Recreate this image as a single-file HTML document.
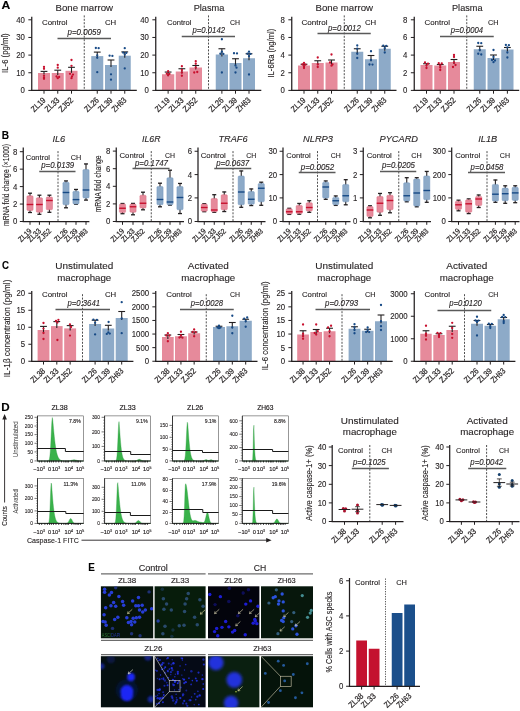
<!DOCTYPE html>
<html><head><meta charset="utf-8"><title>Figure</title>
<style>
html,body{margin:0;padding:0;background:#fff;}
body{width:520px;height:711px;overflow:hidden;font-family:'Liberation Sans', sans-serif;}
svg{display:block;font-family:'Liberation Sans', sans-serif;will-change:transform;}
</style></head><body>
<svg width="520" height="711" viewBox="0 0 520 711">
<rect width="520" height="711" fill="#ffffff"/>
<defs><filter id="bl0_5" x="-20%" y="-20%" width="140%" height="140%"><feGaussianBlur stdDeviation="0.5"/></filter><filter id="bl0_7" x="-30%" y="-30%" width="160%" height="160%"><feGaussianBlur stdDeviation="0.7"/></filter><filter id="bl2_2" x="-30%" y="-30%" width="160%" height="160%"><feGaussianBlur stdDeviation="2.2"/></filter><filter id="bl1_2" x="-30%" y="-30%" width="160%" height="160%"><feGaussianBlur stdDeviation="1.2"/></filter><filter id="bl0_35" x="-20%" y="-20%" width="140%" height="140%"><feGaussianBlur stdDeviation="0.35"/></filter><filter id="bl1_6" x="-20%" y="-20%" width="140%" height="140%"><feGaussianBlur stdDeviation="1.6"/></filter></defs>
<g opacity="0.999">
<text x="1.6" y="9.3" font-size="11.5" text-anchor="start" fill="#000" stroke="#000" stroke-width="0.12" font-weight="bold" textLength="8.8" lengthAdjust="spacingAndGlyphs" >A</text>
<text x="1.7" y="138.6" font-size="11.5" text-anchor="start" fill="#000" stroke="#000" stroke-width="0.12" font-weight="bold" textLength="7.3" lengthAdjust="spacingAndGlyphs" >B</text>
<text x="2" y="268.7" font-size="11.5" text-anchor="start" fill="#000" stroke="#000" stroke-width="0.12" font-weight="bold" textLength="7" lengthAdjust="spacingAndGlyphs" >C</text>
<text x="1.3" y="410.6" font-size="11.5" text-anchor="start" fill="#000" stroke="#000" stroke-width="0.12" font-weight="bold" textLength="8.4" lengthAdjust="spacingAndGlyphs" >D</text>
<text x="88.2" y="570.8" font-size="11.5" text-anchor="start" fill="#000" stroke="#000" stroke-width="0.12" font-weight="bold" textLength="6.6" lengthAdjust="spacingAndGlyphs" >E</text>
<rect x="38" y="73" width="12" height="17.4" fill="#e68a9b" />
<rect x="51.75" y="73" width="12" height="17.4" fill="#e68a9b" />
<rect x="65.5" y="70.8" width="12" height="19.6" fill="#e68a9b" />
<rect x="91.25" y="56.1" width="12" height="34.3" fill="#8daac8" />
<rect x="105" y="65" width="12" height="25.4" fill="#8daac8" />
<rect x="118.75" y="55.7" width="12" height="34.7" fill="#8daac8" />
<line x1="84.25" y1="15.4" x2="84.25" y2="90.4" stroke="#3c3c3c" stroke-width="0.9" stroke-dasharray="2 1.4"/>
<line x1="44" y1="71.4" x2="44" y2="74.6" stroke="#231f20" stroke-width="1.1"/>
<line x1="40.6" y1="71.4" x2="47.4" y2="71.4" stroke="#231f20" stroke-width="1.1"/>
<circle cx="44" cy="66.9" r="1.15" fill="#c8102e"/>
<circle cx="44" cy="68.8" r="1.15" fill="#c8102e"/>
<circle cx="44" cy="75.8" r="1.15" fill="#c8102e"/>
<circle cx="44" cy="77.7" r="1.15" fill="#c8102e"/>
<circle cx="44" cy="78.8" r="1.15" fill="#c8102e"/>
<line x1="57.75" y1="70.2" x2="57.75" y2="75" stroke="#231f20" stroke-width="1.1"/>
<line x1="54.35" y1="70.2" x2="61.15" y2="70.2" stroke="#231f20" stroke-width="1.1"/>
<circle cx="57.75" cy="65" r="1.15" fill="#c8102e"/>
<circle cx="57.75" cy="67.7" r="1.15" fill="#c8102e"/>
<circle cx="56.55" cy="76.5" r="1.15" fill="#c8102e"/>
<circle cx="59.15" cy="77" r="1.15" fill="#c8102e"/>
<circle cx="57.75" cy="78.2" r="1.15" fill="#c8102e"/>
<line x1="71.5" y1="67.3" x2="71.5" y2="72.8" stroke="#231f20" stroke-width="1.1"/>
<line x1="68.1" y1="67.3" x2="74.9" y2="67.3" stroke="#231f20" stroke-width="1.1"/>
<circle cx="71.5" cy="60" r="1.15" fill="#c8102e"/>
<circle cx="71.5" cy="65.8" r="1.15" fill="#c8102e"/>
<circle cx="70" cy="73.8" r="1.15" fill="#c8102e"/>
<circle cx="73" cy="74.6" r="1.15" fill="#c8102e"/>
<circle cx="72" cy="76.4" r="1.15" fill="#c8102e"/>
<circle cx="71.5" cy="78.2" r="1.15" fill="#c8102e"/>
<line x1="97.25" y1="52.1" x2="97.25" y2="58.1" stroke="#231f20" stroke-width="1.1"/>
<line x1="93.85" y1="52.1" x2="100.65" y2="52.1" stroke="#231f20" stroke-width="1.1"/>
<circle cx="95.85" cy="48" r="1.15" fill="#174a86"/>
<circle cx="98.65" cy="48.2" r="1.15" fill="#174a86"/>
<circle cx="97.25" cy="55.3" r="1.15" fill="#174a86"/>
<circle cx="97.25" cy="57.8" r="1.15" fill="#174a86"/>
<circle cx="97.25" cy="72.2" r="1.15" fill="#174a86"/>
<line x1="111" y1="60" x2="111" y2="67" stroke="#231f20" stroke-width="1.1"/>
<line x1="107.6" y1="60" x2="114.4" y2="60" stroke="#231f20" stroke-width="1.1"/>
<circle cx="109.6" cy="55.7" r="1.15" fill="#174a86"/>
<circle cx="112.4" cy="55.9" r="1.15" fill="#174a86"/>
<circle cx="111" cy="74.3" r="1.15" fill="#174a86"/>
<circle cx="111" cy="79.7" r="1.15" fill="#174a86"/>
<line x1="124.75" y1="51.9" x2="124.75" y2="57.7" stroke="#231f20" stroke-width="1.1"/>
<line x1="121.35" y1="51.9" x2="128.15" y2="51.9" stroke="#231f20" stroke-width="1.1"/>
<circle cx="124.75" cy="48.2" r="1.15" fill="#174a86"/>
<circle cx="123.25" cy="52.7" r="1.15" fill="#174a86"/>
<circle cx="126.25" cy="52.9" r="1.15" fill="#174a86"/>
<circle cx="124.75" cy="54.6" r="1.15" fill="#174a86"/>
<circle cx="124.75" cy="68.4" r="1.15" fill="#174a86"/>
<line x1="31.75" y1="16.8" x2="31.75" y2="91" stroke="#231f20" stroke-width="1.25"/>
<line x1="31.15" y1="90.4" x2="136.8" y2="90.4" stroke="#231f20" stroke-width="1.25"/>
<line x1="28.35" y1="19.8" x2="31.75" y2="19.8" stroke="#231f20" stroke-width="1"/>
<text x="24.95" y="22.75" font-size="8.3" text-anchor="end" fill="#231f20" stroke="#231f20" stroke-width="0.12" textLength="8.7" lengthAdjust="spacingAndGlyphs" >40</text>
<line x1="28.35" y1="37.45" x2="31.75" y2="37.45" stroke="#231f20" stroke-width="1"/>
<text x="24.95" y="40.4" font-size="8.3" text-anchor="end" fill="#231f20" stroke="#231f20" stroke-width="0.12" textLength="8.7" lengthAdjust="spacingAndGlyphs" >30</text>
<line x1="28.35" y1="55.1" x2="31.75" y2="55.1" stroke="#231f20" stroke-width="1"/>
<text x="24.95" y="58.05" font-size="8.3" text-anchor="end" fill="#231f20" stroke="#231f20" stroke-width="0.12" textLength="8.7" lengthAdjust="spacingAndGlyphs" >20</text>
<line x1="28.35" y1="72.75" x2="31.75" y2="72.75" stroke="#231f20" stroke-width="1"/>
<text x="24.95" y="75.7" font-size="8.3" text-anchor="end" fill="#231f20" stroke="#231f20" stroke-width="0.12" textLength="8.7" lengthAdjust="spacingAndGlyphs" >10</text>
<line x1="28.35" y1="90.4" x2="31.75" y2="90.4" stroke="#231f20" stroke-width="1"/>
<text x="24.95" y="93.35" font-size="8.3" text-anchor="end" fill="#231f20" stroke="#231f20" stroke-width="0.12" textLength="4.35" lengthAdjust="spacingAndGlyphs" >0</text>
<line x1="44" y1="90.4" x2="44" y2="93.7" stroke="#231f20" stroke-width="1"/>
<text x="46.3" y="100.8" font-size="8.3" text-anchor="end" fill="#231f20" stroke="#231f20" stroke-width="0.22" textLength="16.8" lengthAdjust="spacingAndGlyphs" transform="rotate(-44 46.3 100.8)" >ZL19</text>
<line x1="57.75" y1="90.4" x2="57.75" y2="93.7" stroke="#231f20" stroke-width="1"/>
<text x="60.05" y="100.8" font-size="8.3" text-anchor="end" fill="#231f20" stroke="#231f20" stroke-width="0.22" textLength="16.8" lengthAdjust="spacingAndGlyphs" transform="rotate(-44 60.05 100.8)" >ZL33</text>
<line x1="71.5" y1="90.4" x2="71.5" y2="93.7" stroke="#231f20" stroke-width="1"/>
<text x="73.8" y="100.8" font-size="8.3" text-anchor="end" fill="#231f20" stroke="#231f20" stroke-width="0.22" textLength="16.8" lengthAdjust="spacingAndGlyphs" transform="rotate(-44 73.8 100.8)" >ZJ52</text>
<line x1="97.25" y1="90.4" x2="97.25" y2="93.7" stroke="#231f20" stroke-width="1"/>
<text x="99.55" y="100.8" font-size="8.3" text-anchor="end" fill="#231f20" stroke="#231f20" stroke-width="0.22" textLength="16.8" lengthAdjust="spacingAndGlyphs" transform="rotate(-44 99.55 100.8)" >ZL26</text>
<line x1="111" y1="90.4" x2="111" y2="93.7" stroke="#231f20" stroke-width="1"/>
<text x="113.3" y="100.8" font-size="8.3" text-anchor="end" fill="#231f20" stroke="#231f20" stroke-width="0.22" textLength="16.8" lengthAdjust="spacingAndGlyphs" transform="rotate(-44 113.3 100.8)" >ZL39</text>
<line x1="124.75" y1="90.4" x2="124.75" y2="93.7" stroke="#231f20" stroke-width="1"/>
<text x="127.05" y="100.8" font-size="8.3" text-anchor="end" fill="#231f20" stroke="#231f20" stroke-width="0.22" textLength="16.8" lengthAdjust="spacingAndGlyphs" transform="rotate(-44 127.05 100.8)" >ZH63</text>
<text x="84.25" y="10.93" font-size="9.8" text-anchor="middle" fill="#231f20" stroke="#231f20" stroke-width="0.12" textLength="57.5" lengthAdjust="spacingAndGlyphs" >Bone marrow</text>
<text x="54.75" y="25.44" font-size="7.9" text-anchor="middle" fill="#231f20" stroke="#231f20" stroke-width="0.12" textLength="25.5" lengthAdjust="spacingAndGlyphs" >Control</text>
<text x="110.62" y="25.44" font-size="7.9" text-anchor="middle" fill="#231f20" stroke="#231f20" stroke-width="0.12" textLength="11.25" lengthAdjust="spacingAndGlyphs" >CH</text>
<text x="84.25" y="34.72" font-size="8.4" text-anchor="middle" fill="#231f20" stroke="#231f20" stroke-width="0.12" font-style="italic" textLength="33.5" lengthAdjust="spacingAndGlyphs" >p=0.0059</text>
<line x1="57.5" y1="38.5" x2="111" y2="38.5" stroke="#5a5a5a" stroke-width="1.4"/>
<text x="8.4" y="53.1" font-size="8.4" text-anchor="middle" fill="#231f20" stroke="#231f20" stroke-width="0.12" textLength="39.6" lengthAdjust="spacingAndGlyphs" transform="rotate(-90 8.4 53.1)" >IL-6 (pg/ml)</text>
<rect x="162" y="74.25" width="12.25" height="16.15" fill="#e68a9b" />
<rect x="175.75" y="71.5" width="12.25" height="18.9" fill="#e68a9b" />
<rect x="189.5" y="67.5" width="12.5" height="22.9" fill="#e68a9b" />
<rect x="215.75" y="54.5" width="12.25" height="35.9" fill="#8daac8" />
<rect x="229.5" y="63" width="12" height="27.4" fill="#8daac8" />
<rect x="243" y="58.25" width="12" height="32.15" fill="#8daac8" />
<line x1="208.5" y1="15.4" x2="208.5" y2="90.4" stroke="#3c3c3c" stroke-width="0.9" stroke-dasharray="2 1.4"/>
<line x1="168.12" y1="72.05" x2="168.12" y2="76.25" stroke="#231f20" stroke-width="1.1"/>
<line x1="164.72" y1="72.05" x2="171.53" y2="72.05" stroke="#231f20" stroke-width="1.1"/>
<circle cx="168.12" cy="71.2" r="1.15" fill="#c8102e"/>
<circle cx="166.82" cy="73.7" r="1.15" fill="#c8102e"/>
<circle cx="169.43" cy="73.9" r="1.15" fill="#c8102e"/>
<circle cx="168.12" cy="75.2" r="1.15" fill="#c8102e"/>
<line x1="181.88" y1="68.75" x2="181.88" y2="73.5" stroke="#231f20" stroke-width="1.1"/>
<line x1="178.47" y1="68.75" x2="185.28" y2="68.75" stroke="#231f20" stroke-width="1.1"/>
<circle cx="181.88" cy="66.25" r="1.15" fill="#c8102e"/>
<circle cx="181.88" cy="70" r="1.15" fill="#c8102e"/>
<circle cx="181.88" cy="72.5" r="1.15" fill="#c8102e"/>
<circle cx="181.88" cy="75.75" r="1.15" fill="#c8102e"/>
<line x1="195.75" y1="65.5" x2="195.75" y2="69.5" stroke="#231f20" stroke-width="1.1"/>
<line x1="192.35" y1="65.5" x2="199.15" y2="65.5" stroke="#231f20" stroke-width="1.1"/>
<circle cx="195.75" cy="61.25" r="1.15" fill="#c8102e"/>
<circle cx="195.75" cy="63.75" r="1.15" fill="#c8102e"/>
<circle cx="195.75" cy="67.5" r="1.15" fill="#c8102e"/>
<circle cx="194.25" cy="72.5" r="1.15" fill="#c8102e"/>
<circle cx="197.25" cy="72" r="1.15" fill="#c8102e"/>
<line x1="221.88" y1="48.75" x2="221.88" y2="56.5" stroke="#231f20" stroke-width="1.1"/>
<line x1="218.47" y1="48.75" x2="225.28" y2="48.75" stroke="#231f20" stroke-width="1.1"/>
<circle cx="221.88" cy="39.25" r="1.15" fill="#174a86"/>
<circle cx="221.88" cy="51.75" r="1.15" fill="#174a86"/>
<circle cx="220.38" cy="53.75" r="1.15" fill="#174a86"/>
<circle cx="223.38" cy="53.9" r="1.15" fill="#174a86"/>
<circle cx="221.88" cy="72.5" r="1.15" fill="#174a86"/>
<line x1="235.5" y1="58.75" x2="235.5" y2="65" stroke="#231f20" stroke-width="1.1"/>
<line x1="232.1" y1="58.75" x2="238.9" y2="58.75" stroke="#231f20" stroke-width="1.1"/>
<circle cx="234" cy="53.25" r="1.15" fill="#174a86"/>
<circle cx="237" cy="53.4" r="1.15" fill="#174a86"/>
<circle cx="235.5" cy="65.5" r="1.15" fill="#174a86"/>
<circle cx="236.5" cy="67.7" r="1.15" fill="#174a86"/>
<circle cx="235.5" cy="72.5" r="1.15" fill="#174a86"/>
<line x1="249" y1="53.75" x2="249" y2="60.25" stroke="#231f20" stroke-width="1.1"/>
<line x1="245.6" y1="53.75" x2="252.4" y2="53.75" stroke="#231f20" stroke-width="1.1"/>
<circle cx="249" cy="51.75" r="1.15" fill="#174a86"/>
<circle cx="247.5" cy="53.75" r="1.15" fill="#174a86"/>
<circle cx="250.5" cy="53.9" r="1.15" fill="#174a86"/>
<circle cx="249" cy="56.25" r="1.15" fill="#174a86"/>
<circle cx="249" cy="74.5" r="1.15" fill="#174a86"/>
<line x1="155.75" y1="16.8" x2="155.75" y2="91" stroke="#231f20" stroke-width="1.25"/>
<line x1="155.15" y1="90.4" x2="261.3" y2="90.4" stroke="#231f20" stroke-width="1.25"/>
<line x1="152.35" y1="19.8" x2="155.75" y2="19.8" stroke="#231f20" stroke-width="1"/>
<text x="148.95" y="22.75" font-size="8.3" text-anchor="end" fill="#231f20" stroke="#231f20" stroke-width="0.12" textLength="8.7" lengthAdjust="spacingAndGlyphs" >40</text>
<line x1="152.35" y1="37.45" x2="155.75" y2="37.45" stroke="#231f20" stroke-width="1"/>
<text x="148.95" y="40.4" font-size="8.3" text-anchor="end" fill="#231f20" stroke="#231f20" stroke-width="0.12" textLength="8.7" lengthAdjust="spacingAndGlyphs" >30</text>
<line x1="152.35" y1="55.1" x2="155.75" y2="55.1" stroke="#231f20" stroke-width="1"/>
<text x="148.95" y="58.05" font-size="8.3" text-anchor="end" fill="#231f20" stroke="#231f20" stroke-width="0.12" textLength="8.7" lengthAdjust="spacingAndGlyphs" >20</text>
<line x1="152.35" y1="72.75" x2="155.75" y2="72.75" stroke="#231f20" stroke-width="1"/>
<text x="148.95" y="75.7" font-size="8.3" text-anchor="end" fill="#231f20" stroke="#231f20" stroke-width="0.12" textLength="8.7" lengthAdjust="spacingAndGlyphs" >10</text>
<line x1="152.35" y1="90.4" x2="155.75" y2="90.4" stroke="#231f20" stroke-width="1"/>
<text x="148.95" y="93.35" font-size="8.3" text-anchor="end" fill="#231f20" stroke="#231f20" stroke-width="0.12" textLength="4.35" lengthAdjust="spacingAndGlyphs" >0</text>
<line x1="168.12" y1="90.4" x2="168.12" y2="93.7" stroke="#231f20" stroke-width="1"/>
<text x="170.43" y="100.8" font-size="8.3" text-anchor="end" fill="#231f20" stroke="#231f20" stroke-width="0.22" textLength="16.8" lengthAdjust="spacingAndGlyphs" transform="rotate(-44 170.43 100.8)" >ZL19</text>
<line x1="181.88" y1="90.4" x2="181.88" y2="93.7" stroke="#231f20" stroke-width="1"/>
<text x="184.18" y="100.8" font-size="8.3" text-anchor="end" fill="#231f20" stroke="#231f20" stroke-width="0.22" textLength="16.8" lengthAdjust="spacingAndGlyphs" transform="rotate(-44 184.18 100.8)" >ZL33</text>
<line x1="195.75" y1="90.4" x2="195.75" y2="93.7" stroke="#231f20" stroke-width="1"/>
<text x="198.05" y="100.8" font-size="8.3" text-anchor="end" fill="#231f20" stroke="#231f20" stroke-width="0.22" textLength="16.8" lengthAdjust="spacingAndGlyphs" transform="rotate(-44 198.05 100.8)" >ZJ52</text>
<line x1="221.88" y1="90.4" x2="221.88" y2="93.7" stroke="#231f20" stroke-width="1"/>
<text x="224.18" y="100.8" font-size="8.3" text-anchor="end" fill="#231f20" stroke="#231f20" stroke-width="0.22" textLength="16.8" lengthAdjust="spacingAndGlyphs" transform="rotate(-44 224.18 100.8)" >ZL26</text>
<line x1="235.5" y1="90.4" x2="235.5" y2="93.7" stroke="#231f20" stroke-width="1"/>
<text x="237.8" y="100.8" font-size="8.3" text-anchor="end" fill="#231f20" stroke="#231f20" stroke-width="0.22" textLength="16.8" lengthAdjust="spacingAndGlyphs" transform="rotate(-44 237.8 100.8)" >ZL39</text>
<line x1="249" y1="90.4" x2="249" y2="93.7" stroke="#231f20" stroke-width="1"/>
<text x="251.3" y="100.8" font-size="8.3" text-anchor="end" fill="#231f20" stroke="#231f20" stroke-width="0.22" textLength="16.8" lengthAdjust="spacingAndGlyphs" transform="rotate(-44 251.3 100.8)" >ZH63</text>
<text x="209" y="10.93" font-size="9.8" text-anchor="middle" fill="#231f20" stroke="#231f20" stroke-width="0.12" textLength="30.75" lengthAdjust="spacingAndGlyphs" >Plasma</text>
<text x="179.25" y="25.44" font-size="7.9" text-anchor="middle" fill="#231f20" stroke="#231f20" stroke-width="0.12" textLength="24.5" lengthAdjust="spacingAndGlyphs" >Control</text>
<text x="235" y="25.44" font-size="7.9" text-anchor="middle" fill="#231f20" stroke="#231f20" stroke-width="0.12" textLength="10" lengthAdjust="spacingAndGlyphs" >CH</text>
<text x="208.75" y="33.22" font-size="8.4" text-anchor="middle" fill="#231f20" stroke="#231f20" stroke-width="0.12" font-style="italic" textLength="32.5" lengthAdjust="spacingAndGlyphs" >p=0.0142</text>
<line x1="181.75" y1="36.5" x2="235" y2="36.5" stroke="#5a5a5a" stroke-width="1.4"/>
<rect x="298" y="65.5" width="12" height="24.9" fill="#e68a9b" />
<rect x="311.75" y="63" width="12" height="27.4" fill="#e68a9b" />
<rect x="325.5" y="62.5" width="12" height="27.9" fill="#e68a9b" />
<rect x="351.25" y="51.75" width="12" height="38.65" fill="#8daac8" />
<rect x="365" y="59.25" width="12" height="31.15" fill="#8daac8" />
<rect x="378.75" y="48.75" width="12" height="41.65" fill="#8daac8" />
<line x1="344.25" y1="15.4" x2="344.25" y2="90.4" stroke="#3c3c3c" stroke-width="0.9" stroke-dasharray="2 1.4"/>
<line x1="304" y1="64.25" x2="304" y2="66.75" stroke="#231f20" stroke-width="1.1"/>
<line x1="300.6" y1="64.25" x2="307.4" y2="64.25" stroke="#231f20" stroke-width="1.1"/>
<circle cx="304" cy="63" r="1.15" fill="#c8102e"/>
<circle cx="302.5" cy="64.5" r="1.15" fill="#c8102e"/>
<circle cx="305.5" cy="64.7" r="1.15" fill="#c8102e"/>
<circle cx="304" cy="66.25" r="1.15" fill="#c8102e"/>
<circle cx="304" cy="68" r="1.15" fill="#c8102e"/>
<line x1="317.75" y1="60.75" x2="317.75" y2="65" stroke="#231f20" stroke-width="1.1"/>
<line x1="314.35" y1="60.75" x2="321.15" y2="60.75" stroke="#231f20" stroke-width="1.1"/>
<circle cx="317.75" cy="57.5" r="1.15" fill="#c8102e"/>
<circle cx="317.75" cy="64.5" r="1.15" fill="#c8102e"/>
<circle cx="317.75" cy="67" r="1.15" fill="#c8102e"/>
<line x1="331.5" y1="60" x2="331.5" y2="64.5" stroke="#231f20" stroke-width="1.1"/>
<line x1="328.1" y1="60" x2="334.9" y2="60" stroke="#231f20" stroke-width="1.1"/>
<circle cx="331.5" cy="54.5" r="1.15" fill="#c8102e"/>
<circle cx="330" cy="62.5" r="1.15" fill="#c8102e"/>
<circle cx="332.5" cy="64.5" r="1.15" fill="#c8102e"/>
<circle cx="331.5" cy="65.7" r="1.15" fill="#c8102e"/>
<line x1="357.25" y1="48.75" x2="357.25" y2="53.75" stroke="#231f20" stroke-width="1.1"/>
<line x1="353.85" y1="48.75" x2="360.65" y2="48.75" stroke="#231f20" stroke-width="1.1"/>
<circle cx="357.25" cy="45.5" r="1.15" fill="#174a86"/>
<circle cx="357.25" cy="48.75" r="1.15" fill="#174a86"/>
<circle cx="357.25" cy="53.75" r="1.15" fill="#174a86"/>
<circle cx="357.25" cy="58" r="1.15" fill="#174a86"/>
<line x1="371" y1="55.5" x2="371" y2="61.25" stroke="#231f20" stroke-width="1.1"/>
<line x1="367.6" y1="55.5" x2="374.4" y2="55.5" stroke="#231f20" stroke-width="1.1"/>
<circle cx="371" cy="51.25" r="1.15" fill="#174a86"/>
<circle cx="371" cy="60" r="1.15" fill="#174a86"/>
<circle cx="369.5" cy="64.5" r="1.15" fill="#174a86"/>
<circle cx="372.5" cy="64.6" r="1.15" fill="#174a86"/>
<line x1="384.75" y1="46.25" x2="384.75" y2="50.75" stroke="#231f20" stroke-width="1.1"/>
<line x1="381.35" y1="46.25" x2="388.15" y2="46.25" stroke="#231f20" stroke-width="1.1"/>
<circle cx="383.25" cy="45.75" r="1.15" fill="#174a86"/>
<circle cx="386.25" cy="45.9" r="1.15" fill="#174a86"/>
<circle cx="384.75" cy="48.25" r="1.15" fill="#174a86"/>
<circle cx="384.75" cy="52.5" r="1.15" fill="#174a86"/>
<line x1="291.75" y1="16.8" x2="291.75" y2="91" stroke="#231f20" stroke-width="1.25"/>
<line x1="291.15" y1="90.4" x2="396.5" y2="90.4" stroke="#231f20" stroke-width="1.25"/>
<line x1="288.35" y1="19.8" x2="291.75" y2="19.8" stroke="#231f20" stroke-width="1"/>
<text x="284.95" y="22.75" font-size="8.3" text-anchor="end" fill="#231f20" stroke="#231f20" stroke-width="0.12" textLength="4.35" lengthAdjust="spacingAndGlyphs" >8</text>
<line x1="288.35" y1="37.45" x2="291.75" y2="37.45" stroke="#231f20" stroke-width="1"/>
<text x="284.95" y="40.4" font-size="8.3" text-anchor="end" fill="#231f20" stroke="#231f20" stroke-width="0.12" textLength="4.35" lengthAdjust="spacingAndGlyphs" >6</text>
<line x1="288.35" y1="55.1" x2="291.75" y2="55.1" stroke="#231f20" stroke-width="1"/>
<text x="284.95" y="58.05" font-size="8.3" text-anchor="end" fill="#231f20" stroke="#231f20" stroke-width="0.12" textLength="4.35" lengthAdjust="spacingAndGlyphs" >4</text>
<line x1="288.35" y1="72.75" x2="291.75" y2="72.75" stroke="#231f20" stroke-width="1"/>
<text x="284.95" y="75.7" font-size="8.3" text-anchor="end" fill="#231f20" stroke="#231f20" stroke-width="0.12" textLength="4.35" lengthAdjust="spacingAndGlyphs" >2</text>
<line x1="288.35" y1="90.4" x2="291.75" y2="90.4" stroke="#231f20" stroke-width="1"/>
<text x="284.95" y="93.35" font-size="8.3" text-anchor="end" fill="#231f20" stroke="#231f20" stroke-width="0.12" textLength="4.35" lengthAdjust="spacingAndGlyphs" >0</text>
<line x1="304" y1="90.4" x2="304" y2="93.7" stroke="#231f20" stroke-width="1"/>
<text x="306.3" y="100.8" font-size="8.3" text-anchor="end" fill="#231f20" stroke="#231f20" stroke-width="0.22" textLength="16.8" lengthAdjust="spacingAndGlyphs" transform="rotate(-44 306.3 100.8)" >ZL19</text>
<line x1="317.75" y1="90.4" x2="317.75" y2="93.7" stroke="#231f20" stroke-width="1"/>
<text x="320.05" y="100.8" font-size="8.3" text-anchor="end" fill="#231f20" stroke="#231f20" stroke-width="0.22" textLength="16.8" lengthAdjust="spacingAndGlyphs" transform="rotate(-44 320.05 100.8)" >ZL33</text>
<line x1="331.5" y1="90.4" x2="331.5" y2="93.7" stroke="#231f20" stroke-width="1"/>
<text x="333.8" y="100.8" font-size="8.3" text-anchor="end" fill="#231f20" stroke="#231f20" stroke-width="0.22" textLength="16.8" lengthAdjust="spacingAndGlyphs" transform="rotate(-44 333.8 100.8)" >ZJ52</text>
<line x1="357.25" y1="90.4" x2="357.25" y2="93.7" stroke="#231f20" stroke-width="1"/>
<text x="359.55" y="100.8" font-size="8.3" text-anchor="end" fill="#231f20" stroke="#231f20" stroke-width="0.22" textLength="16.8" lengthAdjust="spacingAndGlyphs" transform="rotate(-44 359.55 100.8)" >ZL26</text>
<line x1="371" y1="90.4" x2="371" y2="93.7" stroke="#231f20" stroke-width="1"/>
<text x="373.3" y="100.8" font-size="8.3" text-anchor="end" fill="#231f20" stroke="#231f20" stroke-width="0.22" textLength="16.8" lengthAdjust="spacingAndGlyphs" transform="rotate(-44 373.3 100.8)" >ZL39</text>
<line x1="384.75" y1="90.4" x2="384.75" y2="93.7" stroke="#231f20" stroke-width="1"/>
<text x="387.05" y="100.8" font-size="8.3" text-anchor="end" fill="#231f20" stroke="#231f20" stroke-width="0.22" textLength="16.8" lengthAdjust="spacingAndGlyphs" transform="rotate(-44 387.05 100.8)" >ZH63</text>
<text x="344.25" y="10.93" font-size="9.8" text-anchor="middle" fill="#231f20" stroke="#231f20" stroke-width="0.12" textLength="57.5" lengthAdjust="spacingAndGlyphs" >Bone marrow</text>
<text x="314.5" y="25.44" font-size="7.9" text-anchor="middle" fill="#231f20" stroke="#231f20" stroke-width="0.12" textLength="26" lengthAdjust="spacingAndGlyphs" >Control</text>
<text x="370.62" y="25.44" font-size="7.9" text-anchor="middle" fill="#231f20" stroke="#231f20" stroke-width="0.12" textLength="11.25" lengthAdjust="spacingAndGlyphs" >CH</text>
<text x="344.38" y="30.97" font-size="8.4" text-anchor="middle" fill="#231f20" stroke="#231f20" stroke-width="0.12" font-style="italic" textLength="32.75" lengthAdjust="spacingAndGlyphs" >p=0.0012</text>
<line x1="317.5" y1="33.5" x2="370.75" y2="33.5" stroke="#5a5a5a" stroke-width="1.4"/>
<text x="273.8" y="53.1" font-size="8.4" text-anchor="middle" fill="#231f20" stroke="#231f20" stroke-width="0.12" textLength="48.8" lengthAdjust="spacingAndGlyphs" transform="rotate(-90 273.8 53.1)" >IL-6Ra (ng/ml)</text>
<rect x="420.5" y="65" width="12" height="25.4" fill="#e68a9b" />
<rect x="434.25" y="65.5" width="12" height="24.9" fill="#e68a9b" />
<rect x="448" y="62" width="12" height="28.4" fill="#e68a9b" />
<rect x="473.75" y="49.25" width="12" height="41.15" fill="#8daac8" />
<rect x="487.5" y="58" width="12" height="32.4" fill="#8daac8" />
<rect x="501.25" y="49.5" width="12.25" height="40.9" fill="#8daac8" />
<line x1="466.75" y1="15.4" x2="466.75" y2="90.4" stroke="#3c3c3c" stroke-width="0.9" stroke-dasharray="2 1.4"/>
<line x1="426.5" y1="63.75" x2="426.5" y2="66.25" stroke="#231f20" stroke-width="1.1"/>
<line x1="423.1" y1="63.75" x2="429.9" y2="63.75" stroke="#231f20" stroke-width="1.1"/>
<circle cx="425" cy="62.5" r="1.15" fill="#c8102e"/>
<circle cx="428" cy="63.75" r="1.15" fill="#c8102e"/>
<circle cx="426.5" cy="65.5" r="1.15" fill="#c8102e"/>
<circle cx="426.5" cy="68" r="1.15" fill="#c8102e"/>
<line x1="440.25" y1="64.5" x2="440.25" y2="66.5" stroke="#231f20" stroke-width="1.1"/>
<line x1="436.85" y1="64.5" x2="443.65" y2="64.5" stroke="#231f20" stroke-width="1.1"/>
<circle cx="438.75" cy="63.25" r="1.15" fill="#c8102e"/>
<circle cx="441.75" cy="63.4" r="1.15" fill="#c8102e"/>
<circle cx="440.25" cy="65.5" r="1.15" fill="#c8102e"/>
<circle cx="440.25" cy="67.5" r="1.15" fill="#c8102e"/>
<circle cx="440.25" cy="70" r="1.15" fill="#c8102e"/>
<line x1="454" y1="59.5" x2="454" y2="64" stroke="#231f20" stroke-width="1.1"/>
<line x1="450.6" y1="59.5" x2="457.4" y2="59.5" stroke="#231f20" stroke-width="1.1"/>
<circle cx="454" cy="55" r="1.15" fill="#c8102e"/>
<circle cx="454" cy="57" r="1.15" fill="#c8102e"/>
<circle cx="454" cy="62.5" r="1.15" fill="#c8102e"/>
<circle cx="455.5" cy="65" r="1.15" fill="#c8102e"/>
<circle cx="453" cy="67" r="1.15" fill="#c8102e"/>
<line x1="479.75" y1="46.25" x2="479.75" y2="51.25" stroke="#231f20" stroke-width="1.1"/>
<line x1="476.35" y1="46.25" x2="483.15" y2="46.25" stroke="#231f20" stroke-width="1.1"/>
<circle cx="478.25" cy="43" r="1.15" fill="#174a86"/>
<circle cx="481.25" cy="43.2" r="1.15" fill="#174a86"/>
<circle cx="479.75" cy="50" r="1.15" fill="#174a86"/>
<circle cx="478.25" cy="53.75" r="1.15" fill="#174a86"/>
<circle cx="481.25" cy="54.5" r="1.15" fill="#174a86"/>
<line x1="493.5" y1="55" x2="493.5" y2="60" stroke="#231f20" stroke-width="1.1"/>
<line x1="490.1" y1="55" x2="496.9" y2="55" stroke="#231f20" stroke-width="1.1"/>
<circle cx="493.5" cy="50" r="1.15" fill="#174a86"/>
<circle cx="493.5" cy="57" r="1.15" fill="#174a86"/>
<circle cx="492" cy="60" r="1.15" fill="#174a86"/>
<circle cx="495" cy="60.5" r="1.15" fill="#174a86"/>
<circle cx="493.5" cy="62.2" r="1.15" fill="#174a86"/>
<line x1="507.38" y1="47.5" x2="507.38" y2="51.5" stroke="#231f20" stroke-width="1.1"/>
<line x1="503.98" y1="47.5" x2="510.77" y2="47.5" stroke="#231f20" stroke-width="1.1"/>
<circle cx="505.88" cy="45" r="1.15" fill="#174a86"/>
<circle cx="508.88" cy="45.2" r="1.15" fill="#174a86"/>
<circle cx="507.38" cy="47.5" r="1.15" fill="#174a86"/>
<circle cx="507.38" cy="52.5" r="1.15" fill="#174a86"/>
<circle cx="507.38" cy="57.5" r="1.15" fill="#174a86"/>
<line x1="414.25" y1="16.8" x2="414.25" y2="91" stroke="#231f20" stroke-width="1.25"/>
<line x1="413.65" y1="90.4" x2="519.2" y2="90.4" stroke="#231f20" stroke-width="1.25"/>
<line x1="410.85" y1="19.8" x2="414.25" y2="19.8" stroke="#231f20" stroke-width="1"/>
<text x="407.45" y="22.75" font-size="8.3" text-anchor="end" fill="#231f20" stroke="#231f20" stroke-width="0.12" textLength="4.35" lengthAdjust="spacingAndGlyphs" >8</text>
<line x1="410.85" y1="37.45" x2="414.25" y2="37.45" stroke="#231f20" stroke-width="1"/>
<text x="407.45" y="40.4" font-size="8.3" text-anchor="end" fill="#231f20" stroke="#231f20" stroke-width="0.12" textLength="4.35" lengthAdjust="spacingAndGlyphs" >6</text>
<line x1="410.85" y1="55.1" x2="414.25" y2="55.1" stroke="#231f20" stroke-width="1"/>
<text x="407.45" y="58.05" font-size="8.3" text-anchor="end" fill="#231f20" stroke="#231f20" stroke-width="0.12" textLength="4.35" lengthAdjust="spacingAndGlyphs" >4</text>
<line x1="410.85" y1="72.75" x2="414.25" y2="72.75" stroke="#231f20" stroke-width="1"/>
<text x="407.45" y="75.7" font-size="8.3" text-anchor="end" fill="#231f20" stroke="#231f20" stroke-width="0.12" textLength="4.35" lengthAdjust="spacingAndGlyphs" >2</text>
<line x1="410.85" y1="90.4" x2="414.25" y2="90.4" stroke="#231f20" stroke-width="1"/>
<text x="407.45" y="93.35" font-size="8.3" text-anchor="end" fill="#231f20" stroke="#231f20" stroke-width="0.12" textLength="4.35" lengthAdjust="spacingAndGlyphs" >0</text>
<line x1="426.5" y1="90.4" x2="426.5" y2="93.7" stroke="#231f20" stroke-width="1"/>
<text x="428.8" y="100.8" font-size="8.3" text-anchor="end" fill="#231f20" stroke="#231f20" stroke-width="0.22" textLength="16.8" lengthAdjust="spacingAndGlyphs" transform="rotate(-44 428.8 100.8)" >ZL19</text>
<line x1="440.25" y1="90.4" x2="440.25" y2="93.7" stroke="#231f20" stroke-width="1"/>
<text x="442.55" y="100.8" font-size="8.3" text-anchor="end" fill="#231f20" stroke="#231f20" stroke-width="0.22" textLength="16.8" lengthAdjust="spacingAndGlyphs" transform="rotate(-44 442.55 100.8)" >ZL33</text>
<line x1="454" y1="90.4" x2="454" y2="93.7" stroke="#231f20" stroke-width="1"/>
<text x="456.3" y="100.8" font-size="8.3" text-anchor="end" fill="#231f20" stroke="#231f20" stroke-width="0.22" textLength="16.8" lengthAdjust="spacingAndGlyphs" transform="rotate(-44 456.3 100.8)" >ZJ52</text>
<line x1="479.75" y1="90.4" x2="479.75" y2="93.7" stroke="#231f20" stroke-width="1"/>
<text x="482.05" y="100.8" font-size="8.3" text-anchor="end" fill="#231f20" stroke="#231f20" stroke-width="0.22" textLength="16.8" lengthAdjust="spacingAndGlyphs" transform="rotate(-44 482.05 100.8)" >ZL26</text>
<line x1="493.5" y1="90.4" x2="493.5" y2="93.7" stroke="#231f20" stroke-width="1"/>
<text x="495.8" y="100.8" font-size="8.3" text-anchor="end" fill="#231f20" stroke="#231f20" stroke-width="0.22" textLength="16.8" lengthAdjust="spacingAndGlyphs" transform="rotate(-44 495.8 100.8)" >ZL39</text>
<line x1="507.38" y1="90.4" x2="507.38" y2="93.7" stroke="#231f20" stroke-width="1"/>
<text x="509.68" y="100.8" font-size="8.3" text-anchor="end" fill="#231f20" stroke="#231f20" stroke-width="0.22" textLength="16.8" lengthAdjust="spacingAndGlyphs" transform="rotate(-44 509.68 100.8)" >ZH63</text>
<text x="467.25" y="10.93" font-size="9.8" text-anchor="middle" fill="#231f20" stroke="#231f20" stroke-width="0.12" textLength="30.5" lengthAdjust="spacingAndGlyphs" >Plasma</text>
<text x="437.25" y="25.44" font-size="7.9" text-anchor="middle" fill="#231f20" stroke="#231f20" stroke-width="0.12" textLength="25.5" lengthAdjust="spacingAndGlyphs" >Control</text>
<text x="493.25" y="25.44" font-size="7.9" text-anchor="middle" fill="#231f20" stroke="#231f20" stroke-width="0.12" textLength="10.5" lengthAdjust="spacingAndGlyphs" >CH</text>
<text x="466.88" y="33.22" font-size="8.4" text-anchor="middle" fill="#231f20" stroke="#231f20" stroke-width="0.12" font-style="italic" textLength="32.25" lengthAdjust="spacingAndGlyphs" >p=0.0004</text>
<line x1="440" y1="36.5" x2="493.75" y2="36.5" stroke="#5a5a5a" stroke-width="1.4"/>
<line x1="58" y1="151.1" x2="58" y2="221.5" stroke="#3c3c3c" stroke-width="0.9" stroke-dasharray="2 1.4"/>
<line x1="30" y1="193" x2="30" y2="212.7" stroke="#231f20" stroke-width="1.1"/>
<line x1="28" y1="193.2" x2="32" y2="193.2" stroke="#231f20" stroke-width="1.3"/>
<line x1="28" y1="212.5" x2="32" y2="212.5" stroke="#231f20" stroke-width="1.3"/>
<rect x="26.9" y="195.8" width="6.2" height="14.7" fill="#e68a9b" stroke="#d9647c" stroke-width="0.45" rx="1.1"/>
<line x1="26.7" y1="204.5" x2="33.3" y2="204.5" stroke="#c8102e" stroke-width="1.4"/>
<line x1="39.4" y1="195" x2="39.4" y2="214.5" stroke="#231f20" stroke-width="1.1"/>
<line x1="37.4" y1="195.2" x2="41.4" y2="195.2" stroke="#231f20" stroke-width="1.3"/>
<line x1="37.4" y1="214.3" x2="41.4" y2="214.3" stroke="#231f20" stroke-width="1.3"/>
<rect x="36.3" y="197.7" width="6.2" height="14.6" fill="#e68a9b" stroke="#d9647c" stroke-width="0.45" rx="1.1"/>
<line x1="36.1" y1="204.5" x2="42.7" y2="204.5" stroke="#c8102e" stroke-width="1.4"/>
<line x1="49.4" y1="195" x2="49.4" y2="212.5" stroke="#231f20" stroke-width="1.1"/>
<line x1="47.4" y1="195.2" x2="51.4" y2="195.2" stroke="#231f20" stroke-width="1.3"/>
<line x1="47.4" y1="212.3" x2="51.4" y2="212.3" stroke="#231f20" stroke-width="1.3"/>
<rect x="46.3" y="196.95" width="6.2" height="12.85" fill="#e68a9b" stroke="#d9647c" stroke-width="0.45" rx="1.1"/>
<line x1="46.1" y1="200.5" x2="52.7" y2="200.5" stroke="#c8102e" stroke-width="1.4"/>
<line x1="66" y1="180.75" x2="66" y2="208" stroke="#231f20" stroke-width="1.1"/>
<line x1="64" y1="180.95" x2="68" y2="180.95" stroke="#231f20" stroke-width="1.3"/>
<line x1="64" y1="207.8" x2="68" y2="207.8" stroke="#231f20" stroke-width="1.3"/>
<rect x="62.9" y="182.2" width="6.2" height="22.6" fill="#8daac8" stroke="#6f94bc" stroke-width="0.45" rx="1.1"/>
<line x1="62.7" y1="192.5" x2="69.3" y2="192.5" stroke="#174a86" stroke-width="1.4"/>
<line x1="76" y1="189.25" x2="76" y2="204.4" stroke="#231f20" stroke-width="1.1"/>
<line x1="74" y1="189.45" x2="78" y2="189.45" stroke="#231f20" stroke-width="1.3"/>
<line x1="74" y1="204.2" x2="78" y2="204.2" stroke="#231f20" stroke-width="1.3"/>
<rect x="72.9" y="191.2" width="6.2" height="12.8" fill="#8daac8" stroke="#6f94bc" stroke-width="0.45" rx="1.1"/>
<line x1="72.7" y1="199.6" x2="79.3" y2="199.6" stroke="#174a86" stroke-width="1.4"/>
<line x1="86" y1="163.75" x2="86" y2="200.3" stroke="#231f20" stroke-width="1.1"/>
<line x1="84" y1="163.95" x2="88" y2="163.95" stroke="#231f20" stroke-width="1.3"/>
<line x1="84" y1="200.1" x2="88" y2="200.1" stroke="#231f20" stroke-width="1.3"/>
<rect x="82.9" y="169.5" width="6.2" height="28.5" fill="#8daac8" stroke="#6f94bc" stroke-width="0.45" rx="1.1"/>
<line x1="82.7" y1="190" x2="89.3" y2="190" stroke="#174a86" stroke-width="1.4"/>
<line x1="23.25" y1="147.6" x2="23.25" y2="222.1" stroke="#231f20" stroke-width="1.25"/>
<line x1="22.65" y1="221.5" x2="89.4" y2="221.5" stroke="#231f20" stroke-width="1.25"/>
<line x1="19.85" y1="151.7" x2="23.25" y2="151.7" stroke="#231f20" stroke-width="1"/>
<text x="17.35" y="154.65" font-size="8.3" text-anchor="end" fill="#231f20" stroke="#231f20" stroke-width="0.12" textLength="4.35" lengthAdjust="spacingAndGlyphs" >8</text>
<line x1="19.85" y1="169.15" x2="23.25" y2="169.15" stroke="#231f20" stroke-width="1"/>
<text x="17.35" y="172.1" font-size="8.3" text-anchor="end" fill="#231f20" stroke="#231f20" stroke-width="0.12" textLength="4.35" lengthAdjust="spacingAndGlyphs" >6</text>
<line x1="19.85" y1="186.6" x2="23.25" y2="186.6" stroke="#231f20" stroke-width="1"/>
<text x="17.35" y="189.55" font-size="8.3" text-anchor="end" fill="#231f20" stroke="#231f20" stroke-width="0.12" textLength="4.35" lengthAdjust="spacingAndGlyphs" >4</text>
<line x1="19.85" y1="204.05" x2="23.25" y2="204.05" stroke="#231f20" stroke-width="1"/>
<text x="17.35" y="207" font-size="8.3" text-anchor="end" fill="#231f20" stroke="#231f20" stroke-width="0.12" textLength="4.35" lengthAdjust="spacingAndGlyphs" >2</text>
<line x1="19.85" y1="221.5" x2="23.25" y2="221.5" stroke="#231f20" stroke-width="1"/>
<text x="17.35" y="224.45" font-size="8.3" text-anchor="end" fill="#231f20" stroke="#231f20" stroke-width="0.12" textLength="4.35" lengthAdjust="spacingAndGlyphs" >0</text>
<line x1="30" y1="221.5" x2="30" y2="224.8" stroke="#231f20" stroke-width="1"/>
<text x="32.3" y="231.7" font-size="7.8" text-anchor="end" fill="#231f20" stroke="#231f20" stroke-width="0.22" textLength="15.4" lengthAdjust="spacingAndGlyphs" transform="rotate(-44 32.3 231.7)" >ZL19</text>
<line x1="39.4" y1="221.5" x2="39.4" y2="224.8" stroke="#231f20" stroke-width="1"/>
<text x="41.7" y="231.7" font-size="7.8" text-anchor="end" fill="#231f20" stroke="#231f20" stroke-width="0.22" textLength="15.4" lengthAdjust="spacingAndGlyphs" transform="rotate(-44 41.7 231.7)" >ZL33</text>
<line x1="49.4" y1="221.5" x2="49.4" y2="224.8" stroke="#231f20" stroke-width="1"/>
<text x="51.7" y="231.7" font-size="7.8" text-anchor="end" fill="#231f20" stroke="#231f20" stroke-width="0.22" textLength="15.4" lengthAdjust="spacingAndGlyphs" transform="rotate(-44 51.7 231.7)" >ZJ52</text>
<line x1="66" y1="221.5" x2="66" y2="224.8" stroke="#231f20" stroke-width="1"/>
<text x="68.3" y="231.7" font-size="7.8" text-anchor="end" fill="#231f20" stroke="#231f20" stroke-width="0.22" textLength="15.4" lengthAdjust="spacingAndGlyphs" transform="rotate(-44 68.3 231.7)" >ZL26</text>
<line x1="76" y1="221.5" x2="76" y2="224.8" stroke="#231f20" stroke-width="1"/>
<text x="78.3" y="231.7" font-size="7.8" text-anchor="end" fill="#231f20" stroke="#231f20" stroke-width="0.22" textLength="15.4" lengthAdjust="spacingAndGlyphs" transform="rotate(-44 78.3 231.7)" >ZL39</text>
<line x1="86" y1="221.5" x2="86" y2="224.8" stroke="#231f20" stroke-width="1"/>
<text x="88.3" y="231.7" font-size="7.8" text-anchor="end" fill="#231f20" stroke="#231f20" stroke-width="0.22" textLength="15.4" lengthAdjust="spacingAndGlyphs" transform="rotate(-44 88.3 231.7)" >ZH63</text>
<text x="58.8" y="141.6" font-size="9.5" text-anchor="middle" fill="#231f20" stroke="#231f20" stroke-width="0.12" font-style="italic" textLength="12.8" lengthAdjust="spacingAndGlyphs" >IL6</text>
<text x="37.88" y="159.59" font-size="7.9" text-anchor="middle" fill="#231f20" stroke="#231f20" stroke-width="0.12" textLength="24.25" lengthAdjust="spacingAndGlyphs" >Control</text>
<text x="76" y="159.59" font-size="7.9" text-anchor="middle" fill="#231f20" stroke="#231f20" stroke-width="0.12" textLength="10.5" lengthAdjust="spacingAndGlyphs" >CH</text>
<text x="57.75" y="168.47" font-size="8.4" text-anchor="middle" fill="#231f20" stroke="#231f20" stroke-width="0.12" font-style="italic" textLength="33" lengthAdjust="spacingAndGlyphs" >p=0.0139</text>
<line x1="39.25" y1="171.5" x2="75.5" y2="171.5" stroke="#5a5a5a" stroke-width="1.4"/>
<text x="8.95" y="184.9" font-size="8.4" text-anchor="middle" fill="#231f20" stroke="#231f20" stroke-width="0.12" textLength="82" lengthAdjust="spacingAndGlyphs" transform="rotate(-90 8.95 184.9)" >mRNA fold change (×1000)</text>
<line x1="151.25" y1="151.1" x2="151.25" y2="221.5" stroke="#3c3c3c" stroke-width="0.9" stroke-dasharray="2 1.4"/>
<line x1="122.5" y1="203.3" x2="122.5" y2="213.9" stroke="#231f20" stroke-width="1.1"/>
<line x1="120.5" y1="203.5" x2="124.5" y2="203.5" stroke="#231f20" stroke-width="1.3"/>
<line x1="120.5" y1="213.7" x2="124.5" y2="213.7" stroke="#231f20" stroke-width="1.3"/>
<rect x="119.4" y="204" width="6.2" height="8.6" fill="#e68a9b" stroke="#d9647c" stroke-width="0.45" rx="1.1"/>
<line x1="119.2" y1="208.25" x2="125.8" y2="208.25" stroke="#c8102e" stroke-width="1.4"/>
<line x1="133" y1="203.2" x2="133" y2="215" stroke="#231f20" stroke-width="1.1"/>
<line x1="131" y1="203.4" x2="135" y2="203.4" stroke="#231f20" stroke-width="1.3"/>
<line x1="131" y1="214.8" x2="135" y2="214.8" stroke="#231f20" stroke-width="1.3"/>
<rect x="129.9" y="204.1" width="6.2" height="8.2" fill="#e68a9b" stroke="#d9647c" stroke-width="0.45" rx="1.1"/>
<line x1="129.7" y1="206.75" x2="136.3" y2="206.75" stroke="#c8102e" stroke-width="1.4"/>
<line x1="143" y1="192" x2="143" y2="210" stroke="#231f20" stroke-width="1.1"/>
<line x1="141" y1="192.2" x2="145" y2="192.2" stroke="#231f20" stroke-width="1.3"/>
<line x1="141" y1="209.8" x2="145" y2="209.8" stroke="#231f20" stroke-width="1.3"/>
<rect x="139.9" y="195.2" width="6.2" height="12.85" fill="#e68a9b" stroke="#d9647c" stroke-width="0.45" rx="1.1"/>
<line x1="139.7" y1="203.25" x2="146.3" y2="203.25" stroke="#c8102e" stroke-width="1.4"/>
<line x1="160" y1="183" x2="160" y2="207" stroke="#231f20" stroke-width="1.1"/>
<line x1="158" y1="183.2" x2="162" y2="183.2" stroke="#231f20" stroke-width="1.3"/>
<line x1="158" y1="206.8" x2="162" y2="206.8" stroke="#231f20" stroke-width="1.3"/>
<rect x="156.9" y="186.45" width="6.2" height="18.35" fill="#8daac8" stroke="#6f94bc" stroke-width="0.45" rx="1.1"/>
<line x1="156.7" y1="199.5" x2="163.3" y2="199.5" stroke="#174a86" stroke-width="1.4"/>
<line x1="170" y1="170" x2="170" y2="205.3" stroke="#231f20" stroke-width="1.1"/>
<line x1="168" y1="170.2" x2="172" y2="170.2" stroke="#231f20" stroke-width="1.3"/>
<line x1="168" y1="205.1" x2="172" y2="205.1" stroke="#231f20" stroke-width="1.3"/>
<rect x="166.9" y="177.7" width="6.2" height="27.1" fill="#8daac8" stroke="#6f94bc" stroke-width="0.45" rx="1.1"/>
<line x1="166.7" y1="202" x2="173.3" y2="202" stroke="#174a86" stroke-width="1.4"/>
<line x1="180" y1="183.25" x2="180" y2="213.75" stroke="#231f20" stroke-width="1.1"/>
<line x1="178" y1="183.45" x2="182" y2="183.45" stroke="#231f20" stroke-width="1.3"/>
<line x1="178" y1="213.55" x2="182" y2="213.55" stroke="#231f20" stroke-width="1.3"/>
<rect x="176.9" y="186.45" width="6.2" height="23.35" fill="#8daac8" stroke="#6f94bc" stroke-width="0.45" rx="1.1"/>
<line x1="176.7" y1="197.5" x2="183.3" y2="197.5" stroke="#174a86" stroke-width="1.4"/>
<line x1="116.25" y1="147.6" x2="116.25" y2="222.1" stroke="#231f20" stroke-width="1.25"/>
<line x1="115.65" y1="221.5" x2="184" y2="221.5" stroke="#231f20" stroke-width="1.25"/>
<line x1="112.85" y1="151.1" x2="116.25" y2="151.1" stroke="#231f20" stroke-width="1"/>
<text x="110.35" y="154.05" font-size="8.3" text-anchor="end" fill="#231f20" stroke="#231f20" stroke-width="0.12" textLength="4.35" lengthAdjust="spacingAndGlyphs" >8</text>
<line x1="112.85" y1="168.7" x2="116.25" y2="168.7" stroke="#231f20" stroke-width="1"/>
<text x="110.35" y="171.65" font-size="8.3" text-anchor="end" fill="#231f20" stroke="#231f20" stroke-width="0.12" textLength="4.35" lengthAdjust="spacingAndGlyphs" >6</text>
<line x1="112.85" y1="186.3" x2="116.25" y2="186.3" stroke="#231f20" stroke-width="1"/>
<text x="110.35" y="189.25" font-size="8.3" text-anchor="end" fill="#231f20" stroke="#231f20" stroke-width="0.12" textLength="4.35" lengthAdjust="spacingAndGlyphs" >4</text>
<line x1="112.85" y1="203.9" x2="116.25" y2="203.9" stroke="#231f20" stroke-width="1"/>
<text x="110.35" y="206.85" font-size="8.3" text-anchor="end" fill="#231f20" stroke="#231f20" stroke-width="0.12" textLength="4.35" lengthAdjust="spacingAndGlyphs" >2</text>
<line x1="112.85" y1="221.5" x2="116.25" y2="221.5" stroke="#231f20" stroke-width="1"/>
<text x="110.35" y="224.45" font-size="8.3" text-anchor="end" fill="#231f20" stroke="#231f20" stroke-width="0.12" textLength="4.35" lengthAdjust="spacingAndGlyphs" >0</text>
<line x1="122.5" y1="221.5" x2="122.5" y2="224.8" stroke="#231f20" stroke-width="1"/>
<text x="124.8" y="231.7" font-size="7.8" text-anchor="end" fill="#231f20" stroke="#231f20" stroke-width="0.22" textLength="15.4" lengthAdjust="spacingAndGlyphs" transform="rotate(-44 124.8 231.7)" >ZL19</text>
<line x1="133" y1="221.5" x2="133" y2="224.8" stroke="#231f20" stroke-width="1"/>
<text x="135.3" y="231.7" font-size="7.8" text-anchor="end" fill="#231f20" stroke="#231f20" stroke-width="0.22" textLength="15.4" lengthAdjust="spacingAndGlyphs" transform="rotate(-44 135.3 231.7)" >ZL33</text>
<line x1="143" y1="221.5" x2="143" y2="224.8" stroke="#231f20" stroke-width="1"/>
<text x="145.3" y="231.7" font-size="7.8" text-anchor="end" fill="#231f20" stroke="#231f20" stroke-width="0.22" textLength="15.4" lengthAdjust="spacingAndGlyphs" transform="rotate(-44 145.3 231.7)" >ZJ52</text>
<line x1="160" y1="221.5" x2="160" y2="224.8" stroke="#231f20" stroke-width="1"/>
<text x="162.3" y="231.7" font-size="7.8" text-anchor="end" fill="#231f20" stroke="#231f20" stroke-width="0.22" textLength="15.4" lengthAdjust="spacingAndGlyphs" transform="rotate(-44 162.3 231.7)" >ZL26</text>
<line x1="170" y1="221.5" x2="170" y2="224.8" stroke="#231f20" stroke-width="1"/>
<text x="172.3" y="231.7" font-size="7.8" text-anchor="end" fill="#231f20" stroke="#231f20" stroke-width="0.22" textLength="15.4" lengthAdjust="spacingAndGlyphs" transform="rotate(-44 172.3 231.7)" >ZL39</text>
<line x1="180" y1="221.5" x2="180" y2="224.8" stroke="#231f20" stroke-width="1"/>
<text x="182.3" y="231.7" font-size="7.8" text-anchor="end" fill="#231f20" stroke="#231f20" stroke-width="0.22" textLength="15.4" lengthAdjust="spacingAndGlyphs" transform="rotate(-44 182.3 231.7)" >ZH63</text>
<text x="151.25" y="141.6" font-size="9.5" text-anchor="middle" fill="#231f20" stroke="#231f20" stroke-width="0.12" font-style="italic" textLength="18.5" lengthAdjust="spacingAndGlyphs" >IL6R</text>
<text x="132" y="158.34" font-size="7.9" text-anchor="middle" fill="#231f20" stroke="#231f20" stroke-width="0.12" textLength="25" lengthAdjust="spacingAndGlyphs" >Control</text>
<text x="170" y="158.34" font-size="7.9" text-anchor="middle" fill="#231f20" stroke="#231f20" stroke-width="0.12" textLength="10" lengthAdjust="spacingAndGlyphs" >CH</text>
<text x="151.5" y="165.72" font-size="8.4" text-anchor="middle" fill="#231f20" stroke="#231f20" stroke-width="0.12" font-style="italic" textLength="33" lengthAdjust="spacingAndGlyphs" >p=0.1747</text>
<line x1="132.5" y1="168.5" x2="169.5" y2="168.5" stroke="#5a5a5a" stroke-width="1.4"/>
<text x="101.05" y="183.85" font-size="8.4" text-anchor="middle" fill="#231f20" stroke="#231f20" stroke-width="0.12" textLength="57" lengthAdjust="spacingAndGlyphs" transform="rotate(-90 101.05 183.85)" >mRNA fold change</text>
<line x1="233" y1="151.1" x2="233" y2="221.5" stroke="#3c3c3c" stroke-width="0.9" stroke-dasharray="2 1.4"/>
<line x1="204.25" y1="203.5" x2="204.25" y2="211.9" stroke="#231f20" stroke-width="1.1"/>
<line x1="202.25" y1="203.7" x2="206.25" y2="203.7" stroke="#231f20" stroke-width="1.3"/>
<line x1="202.25" y1="211.7" x2="206.25" y2="211.7" stroke="#231f20" stroke-width="1.3"/>
<rect x="201.15" y="204.1" width="6.2" height="7.2" fill="#e68a9b" stroke="#d9647c" stroke-width="0.45" rx="1.1"/>
<line x1="200.95" y1="207.5" x2="207.55" y2="207.5" stroke="#c8102e" stroke-width="1.4"/>
<line x1="214.25" y1="194.5" x2="214.25" y2="212.5" stroke="#231f20" stroke-width="1.1"/>
<line x1="212.25" y1="194.7" x2="216.25" y2="194.7" stroke="#231f20" stroke-width="1.3"/>
<line x1="212.25" y1="212.3" x2="216.25" y2="212.3" stroke="#231f20" stroke-width="1.3"/>
<rect x="211.15" y="198.45" width="6.2" height="13.35" fill="#e68a9b" stroke="#d9647c" stroke-width="0.45" rx="1.1"/>
<line x1="210.95" y1="210" x2="217.55" y2="210" stroke="#c8102e" stroke-width="1.4"/>
<line x1="224.25" y1="191.75" x2="224.25" y2="211.75" stroke="#231f20" stroke-width="1.1"/>
<line x1="222.25" y1="191.95" x2="226.25" y2="191.95" stroke="#231f20" stroke-width="1.3"/>
<line x1="222.25" y1="211.55" x2="226.25" y2="211.55" stroke="#231f20" stroke-width="1.3"/>
<rect x="221.15" y="194.7" width="6.2" height="15.1" fill="#e68a9b" stroke="#d9647c" stroke-width="0.45" rx="1.1"/>
<line x1="220.95" y1="203.25" x2="227.55" y2="203.25" stroke="#c8102e" stroke-width="1.4"/>
<line x1="241.25" y1="170.75" x2="241.25" y2="207.5" stroke="#231f20" stroke-width="1.1"/>
<line x1="239.25" y1="170.95" x2="243.25" y2="170.95" stroke="#231f20" stroke-width="1.3"/>
<line x1="239.25" y1="207.3" x2="243.25" y2="207.3" stroke="#231f20" stroke-width="1.3"/>
<rect x="238.15" y="175.95" width="6.2" height="28.85" fill="#8daac8" stroke="#6f94bc" stroke-width="0.45" rx="1.1"/>
<line x1="237.95" y1="192" x2="244.55" y2="192" stroke="#174a86" stroke-width="1.4"/>
<line x1="251.25" y1="188.75" x2="251.25" y2="205.75" stroke="#231f20" stroke-width="1.1"/>
<line x1="249.25" y1="188.95" x2="253.25" y2="188.95" stroke="#231f20" stroke-width="1.3"/>
<line x1="249.25" y1="205.55" x2="253.25" y2="205.55" stroke="#231f20" stroke-width="1.3"/>
<rect x="248.15" y="191.45" width="6.2" height="12.85" fill="#8daac8" stroke="#6f94bc" stroke-width="0.45" rx="1.1"/>
<line x1="247.95" y1="199.25" x2="254.55" y2="199.25" stroke="#174a86" stroke-width="1.4"/>
<line x1="261.25" y1="182" x2="261.25" y2="205.5" stroke="#231f20" stroke-width="1.1"/>
<line x1="259.25" y1="182.2" x2="263.25" y2="182.2" stroke="#231f20" stroke-width="1.3"/>
<line x1="259.25" y1="205.3" x2="263.25" y2="205.3" stroke="#231f20" stroke-width="1.3"/>
<rect x="258.15" y="183.45" width="6.2" height="18.35" fill="#8daac8" stroke="#6f94bc" stroke-width="0.45" rx="1.1"/>
<line x1="257.95" y1="188.25" x2="264.55" y2="188.25" stroke="#174a86" stroke-width="1.4"/>
<line x1="198" y1="147.6" x2="198" y2="222.1" stroke="#231f20" stroke-width="1.25"/>
<line x1="197.4" y1="221.5" x2="265.5" y2="221.5" stroke="#231f20" stroke-width="1.25"/>
<line x1="194.6" y1="151.25" x2="198" y2="151.25" stroke="#231f20" stroke-width="1"/>
<text x="192.1" y="154.2" font-size="8.3" text-anchor="end" fill="#231f20" stroke="#231f20" stroke-width="0.12" textLength="4.35" lengthAdjust="spacingAndGlyphs" >6</text>
<line x1="194.6" y1="174.6" x2="198" y2="174.6" stroke="#231f20" stroke-width="1"/>
<text x="192.1" y="177.55" font-size="8.3" text-anchor="end" fill="#231f20" stroke="#231f20" stroke-width="0.12" textLength="4.35" lengthAdjust="spacingAndGlyphs" >4</text>
<line x1="194.6" y1="197.9" x2="198" y2="197.9" stroke="#231f20" stroke-width="1"/>
<text x="192.1" y="200.85" font-size="8.3" text-anchor="end" fill="#231f20" stroke="#231f20" stroke-width="0.12" textLength="4.35" lengthAdjust="spacingAndGlyphs" >2</text>
<line x1="194.6" y1="221.5" x2="198" y2="221.5" stroke="#231f20" stroke-width="1"/>
<text x="192.1" y="224.45" font-size="8.3" text-anchor="end" fill="#231f20" stroke="#231f20" stroke-width="0.12" textLength="4.35" lengthAdjust="spacingAndGlyphs" >0</text>
<line x1="204.25" y1="221.5" x2="204.25" y2="224.8" stroke="#231f20" stroke-width="1"/>
<text x="206.55" y="231.7" font-size="7.8" text-anchor="end" fill="#231f20" stroke="#231f20" stroke-width="0.22" textLength="15.4" lengthAdjust="spacingAndGlyphs" transform="rotate(-44 206.55 231.7)" >ZL19</text>
<line x1="214.25" y1="221.5" x2="214.25" y2="224.8" stroke="#231f20" stroke-width="1"/>
<text x="216.55" y="231.7" font-size="7.8" text-anchor="end" fill="#231f20" stroke="#231f20" stroke-width="0.22" textLength="15.4" lengthAdjust="spacingAndGlyphs" transform="rotate(-44 216.55 231.7)" >ZL33</text>
<line x1="224.25" y1="221.5" x2="224.25" y2="224.8" stroke="#231f20" stroke-width="1"/>
<text x="226.55" y="231.7" font-size="7.8" text-anchor="end" fill="#231f20" stroke="#231f20" stroke-width="0.22" textLength="15.4" lengthAdjust="spacingAndGlyphs" transform="rotate(-44 226.55 231.7)" >ZJ52</text>
<line x1="241.25" y1="221.5" x2="241.25" y2="224.8" stroke="#231f20" stroke-width="1"/>
<text x="243.55" y="231.7" font-size="7.8" text-anchor="end" fill="#231f20" stroke="#231f20" stroke-width="0.22" textLength="15.4" lengthAdjust="spacingAndGlyphs" transform="rotate(-44 243.55 231.7)" >ZL26</text>
<line x1="251.25" y1="221.5" x2="251.25" y2="224.8" stroke="#231f20" stroke-width="1"/>
<text x="253.55" y="231.7" font-size="7.8" text-anchor="end" fill="#231f20" stroke="#231f20" stroke-width="0.22" textLength="15.4" lengthAdjust="spacingAndGlyphs" transform="rotate(-44 253.55 231.7)" >ZL39</text>
<line x1="261.25" y1="221.5" x2="261.25" y2="224.8" stroke="#231f20" stroke-width="1"/>
<text x="263.55" y="231.7" font-size="7.8" text-anchor="end" fill="#231f20" stroke="#231f20" stroke-width="0.22" textLength="15.4" lengthAdjust="spacingAndGlyphs" transform="rotate(-44 263.55 231.7)" >ZH63</text>
<text x="233" y="141.6" font-size="9.5" text-anchor="middle" fill="#231f20" stroke="#231f20" stroke-width="0.12" font-style="italic" textLength="29" lengthAdjust="spacingAndGlyphs" >TRAF6</text>
<text x="213.25" y="158.34" font-size="7.9" text-anchor="middle" fill="#231f20" stroke="#231f20" stroke-width="0.12" textLength="25" lengthAdjust="spacingAndGlyphs" >Control</text>
<text x="251.25" y="158.34" font-size="7.9" text-anchor="middle" fill="#231f20" stroke="#231f20" stroke-width="0.12" textLength="10" lengthAdjust="spacingAndGlyphs" >CH</text>
<text x="232.75" y="165.72" font-size="8.4" text-anchor="middle" fill="#231f20" stroke="#231f20" stroke-width="0.12" font-style="italic" textLength="33" lengthAdjust="spacingAndGlyphs" >p=0.0637</text>
<line x1="214.25" y1="168.5" x2="251.25" y2="168.5" stroke="#5a5a5a" stroke-width="1.4"/>
<line x1="317.5" y1="151.1" x2="317.5" y2="221.5" stroke="#3c3c3c" stroke-width="0.9" stroke-dasharray="2 1.4"/>
<line x1="289.25" y1="208.1" x2="289.25" y2="214.6" stroke="#231f20" stroke-width="1.1"/>
<line x1="287.25" y1="208.3" x2="291.25" y2="208.3" stroke="#231f20" stroke-width="1.3"/>
<line x1="287.25" y1="214.4" x2="291.25" y2="214.4" stroke="#231f20" stroke-width="1.3"/>
<rect x="286.15" y="208.8" width="6.2" height="5.2" fill="#e68a9b" stroke="#d9647c" stroke-width="0.45" rx="1.1"/>
<line x1="285.95" y1="211.75" x2="292.55" y2="211.75" stroke="#c8102e" stroke-width="1.4"/>
<line x1="299.25" y1="203.25" x2="299.25" y2="214.4" stroke="#231f20" stroke-width="1.1"/>
<line x1="297.25" y1="203.45" x2="301.25" y2="203.45" stroke="#231f20" stroke-width="1.3"/>
<line x1="297.25" y1="214.2" x2="301.25" y2="214.2" stroke="#231f20" stroke-width="1.3"/>
<rect x="296.15" y="205.4" width="6.2" height="8.2" fill="#e68a9b" stroke="#d9647c" stroke-width="0.45" rx="1.1"/>
<line x1="295.95" y1="211.75" x2="302.55" y2="211.75" stroke="#c8102e" stroke-width="1.4"/>
<line x1="309.25" y1="200.5" x2="309.25" y2="212.5" stroke="#231f20" stroke-width="1.1"/>
<line x1="307.25" y1="200.7" x2="311.25" y2="200.7" stroke="#231f20" stroke-width="1.3"/>
<line x1="307.25" y1="212.3" x2="311.25" y2="212.3" stroke="#231f20" stroke-width="1.3"/>
<rect x="306.15" y="202.7" width="6.2" height="8.35" fill="#e68a9b" stroke="#d9647c" stroke-width="0.45" rx="1.1"/>
<line x1="305.95" y1="207.5" x2="312.55" y2="207.5" stroke="#c8102e" stroke-width="1.4"/>
<line x1="325.75" y1="180.75" x2="325.75" y2="199.5" stroke="#231f20" stroke-width="1.1"/>
<line x1="323.75" y1="180.95" x2="327.75" y2="180.95" stroke="#231f20" stroke-width="1.3"/>
<line x1="323.75" y1="199.3" x2="327.75" y2="199.3" stroke="#231f20" stroke-width="1.3"/>
<rect x="322.65" y="182.2" width="6.2" height="15.85" fill="#8daac8" stroke="#6f94bc" stroke-width="0.45" rx="1.1"/>
<line x1="322.45" y1="187" x2="329.05" y2="187" stroke="#174a86" stroke-width="1.4"/>
<line x1="335.75" y1="195.75" x2="335.75" y2="205.6" stroke="#231f20" stroke-width="1.1"/>
<line x1="333.75" y1="195.95" x2="337.75" y2="195.95" stroke="#231f20" stroke-width="1.3"/>
<line x1="333.75" y1="205.4" x2="337.75" y2="205.4" stroke="#231f20" stroke-width="1.3"/>
<rect x="332.65" y="197.4" width="6.2" height="7.3" fill="#8daac8" stroke="#6f94bc" stroke-width="0.45" rx="1.1"/>
<line x1="332.45" y1="200.75" x2="339.05" y2="200.75" stroke="#174a86" stroke-width="1.4"/>
<line x1="345.75" y1="179.5" x2="345.75" y2="205" stroke="#231f20" stroke-width="1.1"/>
<line x1="343.75" y1="179.7" x2="347.75" y2="179.7" stroke="#231f20" stroke-width="1.3"/>
<line x1="343.75" y1="204.8" x2="347.75" y2="204.8" stroke="#231f20" stroke-width="1.3"/>
<rect x="342.65" y="184.45" width="6.2" height="17.35" fill="#8daac8" stroke="#6f94bc" stroke-width="0.45" rx="1.1"/>
<line x1="342.45" y1="195.75" x2="349.05" y2="195.75" stroke="#174a86" stroke-width="1.4"/>
<line x1="283" y1="147.6" x2="283" y2="222.1" stroke="#231f20" stroke-width="1.25"/>
<line x1="282.4" y1="221.5" x2="350.5" y2="221.5" stroke="#231f20" stroke-width="1.25"/>
<line x1="279.6" y1="151.25" x2="283" y2="151.25" stroke="#231f20" stroke-width="1"/>
<text x="277.1" y="154.2" font-size="8.3" text-anchor="end" fill="#231f20" stroke="#231f20" stroke-width="0.12" textLength="8.7" lengthAdjust="spacingAndGlyphs" >30</text>
<line x1="279.6" y1="174.6" x2="283" y2="174.6" stroke="#231f20" stroke-width="1"/>
<text x="277.1" y="177.55" font-size="8.3" text-anchor="end" fill="#231f20" stroke="#231f20" stroke-width="0.12" textLength="8.7" lengthAdjust="spacingAndGlyphs" >20</text>
<line x1="279.6" y1="197.9" x2="283" y2="197.9" stroke="#231f20" stroke-width="1"/>
<text x="277.1" y="200.85" font-size="8.3" text-anchor="end" fill="#231f20" stroke="#231f20" stroke-width="0.12" textLength="8.7" lengthAdjust="spacingAndGlyphs" >10</text>
<line x1="279.6" y1="221.5" x2="283" y2="221.5" stroke="#231f20" stroke-width="1"/>
<text x="277.1" y="224.45" font-size="8.3" text-anchor="end" fill="#231f20" stroke="#231f20" stroke-width="0.12" textLength="4.35" lengthAdjust="spacingAndGlyphs" >0</text>
<line x1="289.25" y1="221.5" x2="289.25" y2="224.8" stroke="#231f20" stroke-width="1"/>
<text x="291.55" y="231.7" font-size="7.8" text-anchor="end" fill="#231f20" stroke="#231f20" stroke-width="0.22" textLength="15.4" lengthAdjust="spacingAndGlyphs" transform="rotate(-44 291.55 231.7)" >ZL19</text>
<line x1="299.25" y1="221.5" x2="299.25" y2="224.8" stroke="#231f20" stroke-width="1"/>
<text x="301.55" y="231.7" font-size="7.8" text-anchor="end" fill="#231f20" stroke="#231f20" stroke-width="0.22" textLength="15.4" lengthAdjust="spacingAndGlyphs" transform="rotate(-44 301.55 231.7)" >ZL33</text>
<line x1="309.25" y1="221.5" x2="309.25" y2="224.8" stroke="#231f20" stroke-width="1"/>
<text x="311.55" y="231.7" font-size="7.8" text-anchor="end" fill="#231f20" stroke="#231f20" stroke-width="0.22" textLength="15.4" lengthAdjust="spacingAndGlyphs" transform="rotate(-44 311.55 231.7)" >ZJ52</text>
<line x1="325.75" y1="221.5" x2="325.75" y2="224.8" stroke="#231f20" stroke-width="1"/>
<text x="328.05" y="231.7" font-size="7.8" text-anchor="end" fill="#231f20" stroke="#231f20" stroke-width="0.22" textLength="15.4" lengthAdjust="spacingAndGlyphs" transform="rotate(-44 328.05 231.7)" >ZL26</text>
<line x1="335.75" y1="221.5" x2="335.75" y2="224.8" stroke="#231f20" stroke-width="1"/>
<text x="338.05" y="231.7" font-size="7.8" text-anchor="end" fill="#231f20" stroke="#231f20" stroke-width="0.22" textLength="15.4" lengthAdjust="spacingAndGlyphs" transform="rotate(-44 338.05 231.7)" >ZL39</text>
<line x1="345.75" y1="221.5" x2="345.75" y2="224.8" stroke="#231f20" stroke-width="1"/>
<text x="348.05" y="231.7" font-size="7.8" text-anchor="end" fill="#231f20" stroke="#231f20" stroke-width="0.22" textLength="15.4" lengthAdjust="spacingAndGlyphs" transform="rotate(-44 348.05 231.7)" >ZH63</text>
<text x="318" y="141.6" font-size="9.5" text-anchor="middle" fill="#231f20" stroke="#231f20" stroke-width="0.12" font-style="italic" textLength="30" lengthAdjust="spacingAndGlyphs" >NLRP3</text>
<text x="298.5" y="158.34" font-size="7.9" text-anchor="middle" fill="#231f20" stroke="#231f20" stroke-width="0.12" textLength="24.5" lengthAdjust="spacingAndGlyphs" >Control</text>
<text x="335.75" y="158.34" font-size="7.9" text-anchor="middle" fill="#231f20" stroke="#231f20" stroke-width="0.12" textLength="10" lengthAdjust="spacingAndGlyphs" >CH</text>
<text x="317.5" y="169.72" font-size="8.4" text-anchor="middle" fill="#231f20" stroke="#231f20" stroke-width="0.12" font-style="italic" textLength="33.5" lengthAdjust="spacingAndGlyphs" >p=0.0052</text>
<line x1="298.75" y1="172.5" x2="335.5" y2="172.5" stroke="#5a5a5a" stroke-width="1.4"/>
<line x1="398.75" y1="151.1" x2="398.75" y2="221.5" stroke="#3c3c3c" stroke-width="0.9" stroke-dasharray="2 1.4"/>
<line x1="370" y1="205.6" x2="370" y2="218" stroke="#231f20" stroke-width="1.1"/>
<line x1="368" y1="205.8" x2="372" y2="205.8" stroke="#231f20" stroke-width="1.3"/>
<line x1="368" y1="217.8" x2="372" y2="217.8" stroke="#231f20" stroke-width="1.3"/>
<rect x="366.9" y="206.5" width="6.2" height="10.1" fill="#e68a9b" stroke="#d9647c" stroke-width="0.45" rx="1.1"/>
<line x1="366.7" y1="210" x2="373.3" y2="210" stroke="#c8102e" stroke-width="1.4"/>
<line x1="380" y1="193.25" x2="380" y2="215.5" stroke="#231f20" stroke-width="1.1"/>
<line x1="378" y1="193.45" x2="382" y2="193.45" stroke="#231f20" stroke-width="1.3"/>
<line x1="378" y1="215.3" x2="382" y2="215.3" stroke="#231f20" stroke-width="1.3"/>
<rect x="376.9" y="196.45" width="6.2" height="15.85" fill="#e68a9b" stroke="#d9647c" stroke-width="0.45" rx="1.1"/>
<line x1="376.7" y1="203.25" x2="383.3" y2="203.25" stroke="#c8102e" stroke-width="1.4"/>
<line x1="390" y1="192.5" x2="390" y2="213" stroke="#231f20" stroke-width="1.1"/>
<line x1="388" y1="192.7" x2="392" y2="192.7" stroke="#231f20" stroke-width="1.3"/>
<line x1="388" y1="212.8" x2="392" y2="212.8" stroke="#231f20" stroke-width="1.3"/>
<rect x="386.9" y="195.2" width="6.2" height="14.6" fill="#e68a9b" stroke="#d9647c" stroke-width="0.45" rx="1.1"/>
<line x1="386.7" y1="200.5" x2="393.3" y2="200.5" stroke="#c8102e" stroke-width="1.4"/>
<line x1="406.75" y1="177.5" x2="406.75" y2="202" stroke="#231f20" stroke-width="1.1"/>
<line x1="404.75" y1="177.7" x2="408.75" y2="177.7" stroke="#231f20" stroke-width="1.3"/>
<line x1="404.75" y1="201.8" x2="408.75" y2="201.8" stroke="#231f20" stroke-width="1.3"/>
<rect x="403.65" y="182.7" width="6.2" height="18.35" fill="#8daac8" stroke="#6f94bc" stroke-width="0.45" rx="1.1"/>
<line x1="403.45" y1="195.75" x2="410.05" y2="195.75" stroke="#174a86" stroke-width="1.4"/>
<line x1="416.75" y1="177.5" x2="416.75" y2="207" stroke="#231f20" stroke-width="1.1"/>
<line x1="414.75" y1="177.7" x2="418.75" y2="177.7" stroke="#231f20" stroke-width="1.3"/>
<line x1="414.75" y1="206.8" x2="418.75" y2="206.8" stroke="#231f20" stroke-width="1.3"/>
<rect x="413.65" y="178.95" width="6.2" height="27.1" fill="#8daac8" stroke="#6f94bc" stroke-width="0.45" rx="1.1"/>
<line x1="413.45" y1="193" x2="420.05" y2="193" stroke="#174a86" stroke-width="1.4"/>
<line x1="426.75" y1="171.25" x2="426.75" y2="202.5" stroke="#231f20" stroke-width="1.1"/>
<line x1="424.75" y1="171.45" x2="428.75" y2="171.45" stroke="#231f20" stroke-width="1.3"/>
<line x1="424.75" y1="202.3" x2="428.75" y2="202.3" stroke="#231f20" stroke-width="1.3"/>
<rect x="423.65" y="175.95" width="6.2" height="23.85" fill="#8daac8" stroke="#6f94bc" stroke-width="0.45" rx="1.1"/>
<line x1="423.45" y1="190.5" x2="430.05" y2="190.5" stroke="#174a86" stroke-width="1.4"/>
<line x1="363.25" y1="147.6" x2="363.25" y2="222.1" stroke="#231f20" stroke-width="1.25"/>
<line x1="362.65" y1="221.5" x2="431" y2="221.5" stroke="#231f20" stroke-width="1.25"/>
<line x1="359.85" y1="151.25" x2="363.25" y2="151.25" stroke="#231f20" stroke-width="1"/>
<text x="357.35" y="154.2" font-size="8.3" text-anchor="end" fill="#231f20" stroke="#231f20" stroke-width="0.12" textLength="4.35" lengthAdjust="spacingAndGlyphs" >3</text>
<line x1="359.85" y1="174.6" x2="363.25" y2="174.6" stroke="#231f20" stroke-width="1"/>
<text x="357.35" y="177.55" font-size="8.3" text-anchor="end" fill="#231f20" stroke="#231f20" stroke-width="0.12" textLength="4.35" lengthAdjust="spacingAndGlyphs" >2</text>
<line x1="359.85" y1="197.9" x2="363.25" y2="197.9" stroke="#231f20" stroke-width="1"/>
<text x="357.35" y="200.85" font-size="8.3" text-anchor="end" fill="#231f20" stroke="#231f20" stroke-width="0.12" textLength="4.35" lengthAdjust="spacingAndGlyphs" >1</text>
<line x1="359.85" y1="221.5" x2="363.25" y2="221.5" stroke="#231f20" stroke-width="1"/>
<text x="357.35" y="224.45" font-size="8.3" text-anchor="end" fill="#231f20" stroke="#231f20" stroke-width="0.12" textLength="4.35" lengthAdjust="spacingAndGlyphs" >0</text>
<line x1="370" y1="221.5" x2="370" y2="224.8" stroke="#231f20" stroke-width="1"/>
<text x="372.3" y="231.7" font-size="7.8" text-anchor="end" fill="#231f20" stroke="#231f20" stroke-width="0.22" textLength="15.4" lengthAdjust="spacingAndGlyphs" transform="rotate(-44 372.3 231.7)" >ZL19</text>
<line x1="380" y1="221.5" x2="380" y2="224.8" stroke="#231f20" stroke-width="1"/>
<text x="382.3" y="231.7" font-size="7.8" text-anchor="end" fill="#231f20" stroke="#231f20" stroke-width="0.22" textLength="15.4" lengthAdjust="spacingAndGlyphs" transform="rotate(-44 382.3 231.7)" >ZL33</text>
<line x1="390" y1="221.5" x2="390" y2="224.8" stroke="#231f20" stroke-width="1"/>
<text x="392.3" y="231.7" font-size="7.8" text-anchor="end" fill="#231f20" stroke="#231f20" stroke-width="0.22" textLength="15.4" lengthAdjust="spacingAndGlyphs" transform="rotate(-44 392.3 231.7)" >ZJ52</text>
<line x1="406.75" y1="221.5" x2="406.75" y2="224.8" stroke="#231f20" stroke-width="1"/>
<text x="409.05" y="231.7" font-size="7.8" text-anchor="end" fill="#231f20" stroke="#231f20" stroke-width="0.22" textLength="15.4" lengthAdjust="spacingAndGlyphs" transform="rotate(-44 409.05 231.7)" >ZL26</text>
<line x1="416.75" y1="221.5" x2="416.75" y2="224.8" stroke="#231f20" stroke-width="1"/>
<text x="419.05" y="231.7" font-size="7.8" text-anchor="end" fill="#231f20" stroke="#231f20" stroke-width="0.22" textLength="15.4" lengthAdjust="spacingAndGlyphs" transform="rotate(-44 419.05 231.7)" >ZL39</text>
<line x1="426.75" y1="221.5" x2="426.75" y2="224.8" stroke="#231f20" stroke-width="1"/>
<text x="429.05" y="231.7" font-size="7.8" text-anchor="end" fill="#231f20" stroke="#231f20" stroke-width="0.22" textLength="15.4" lengthAdjust="spacingAndGlyphs" transform="rotate(-44 429.05 231.7)" >ZH63</text>
<text x="398.75" y="141.6" font-size="9.5" text-anchor="middle" fill="#231f20" stroke="#231f20" stroke-width="0.12" font-style="italic" textLength="38.5" lengthAdjust="spacingAndGlyphs" >PYCARD</text>
<text x="379.25" y="158.34" font-size="7.9" text-anchor="middle" fill="#231f20" stroke="#231f20" stroke-width="0.12" textLength="25" lengthAdjust="spacingAndGlyphs" >Control</text>
<text x="416.5" y="158.34" font-size="7.9" text-anchor="middle" fill="#231f20" stroke="#231f20" stroke-width="0.12" textLength="10.5" lengthAdjust="spacingAndGlyphs" >CH</text>
<text x="398.5" y="168.47" font-size="8.4" text-anchor="middle" fill="#231f20" stroke="#231f20" stroke-width="0.12" font-style="italic" textLength="33" lengthAdjust="spacingAndGlyphs" >p=0.0205</text>
<line x1="380" y1="171.5" x2="416.25" y2="171.5" stroke="#5a5a5a" stroke-width="1.4"/>
<line x1="487" y1="151.1" x2="487" y2="221.5" stroke="#3c3c3c" stroke-width="0.9" stroke-dasharray="2 1.4"/>
<line x1="458.5" y1="200" x2="458.5" y2="211" stroke="#231f20" stroke-width="1.1"/>
<line x1="456.5" y1="200.2" x2="460.5" y2="200.2" stroke="#231f20" stroke-width="1.3"/>
<line x1="456.5" y1="210.8" x2="460.5" y2="210.8" stroke="#231f20" stroke-width="1.3"/>
<rect x="455.4" y="201.2" width="6.2" height="8.2" fill="#e68a9b" stroke="#d9647c" stroke-width="0.45" rx="1.1"/>
<line x1="455.2" y1="204.8" x2="461.8" y2="204.8" stroke="#c8102e" stroke-width="1.4"/>
<line x1="468.7" y1="198.7" x2="468.7" y2="213.8" stroke="#231f20" stroke-width="1.1"/>
<line x1="466.7" y1="198.9" x2="470.7" y2="198.9" stroke="#231f20" stroke-width="1.3"/>
<line x1="466.7" y1="213.6" x2="470.7" y2="213.6" stroke="#231f20" stroke-width="1.3"/>
<rect x="465.6" y="199.8" width="6.2" height="12.5" fill="#e68a9b" stroke="#d9647c" stroke-width="0.45" rx="1.1"/>
<line x1="465.4" y1="203.8" x2="472" y2="203.8" stroke="#c8102e" stroke-width="1.4"/>
<line x1="478.7" y1="194.8" x2="478.7" y2="207.7" stroke="#231f20" stroke-width="1.1"/>
<line x1="476.7" y1="195" x2="480.7" y2="195" stroke="#231f20" stroke-width="1.3"/>
<line x1="476.7" y1="207.5" x2="480.7" y2="207.5" stroke="#231f20" stroke-width="1.3"/>
<rect x="475.6" y="196.4" width="6.2" height="9.2" fill="#e68a9b" stroke="#d9647c" stroke-width="0.45" rx="1.1"/>
<line x1="475.4" y1="199" x2="482" y2="199" stroke="#c8102e" stroke-width="1.4"/>
<line x1="495.4" y1="179.8" x2="495.4" y2="202.5" stroke="#231f20" stroke-width="1.1"/>
<line x1="493.4" y1="180" x2="497.4" y2="180" stroke="#231f20" stroke-width="1.3"/>
<line x1="493.4" y1="202.3" x2="497.4" y2="202.3" stroke="#231f20" stroke-width="1.3"/>
<rect x="492.3" y="184.4" width="6.2" height="16.7" fill="#8daac8" stroke="#6f94bc" stroke-width="0.45" rx="1.1"/>
<line x1="492.1" y1="194.2" x2="498.7" y2="194.2" stroke="#174a86" stroke-width="1.4"/>
<line x1="505.2" y1="185.6" x2="505.2" y2="203.5" stroke="#231f20" stroke-width="1.1"/>
<line x1="503.2" y1="185.8" x2="507.2" y2="185.8" stroke="#231f20" stroke-width="1.3"/>
<line x1="503.2" y1="203.3" x2="507.2" y2="203.3" stroke="#231f20" stroke-width="1.3"/>
<rect x="502.1" y="188.1" width="6.2" height="12.7" fill="#8daac8" stroke="#6f94bc" stroke-width="0.45" rx="1.1"/>
<line x1="501.9" y1="193.7" x2="508.5" y2="193.7" stroke="#174a86" stroke-width="1.4"/>
<line x1="515.2" y1="185.6" x2="515.2" y2="202.9" stroke="#231f20" stroke-width="1.1"/>
<line x1="513.2" y1="185.8" x2="517.2" y2="185.8" stroke="#231f20" stroke-width="1.3"/>
<line x1="513.2" y1="202.7" x2="517.2" y2="202.7" stroke="#231f20" stroke-width="1.3"/>
<rect x="512.1" y="187.3" width="6.2" height="13.1" fill="#8daac8" stroke="#6f94bc" stroke-width="0.45" rx="1.1"/>
<line x1="511.9" y1="192.9" x2="518.5" y2="192.9" stroke="#174a86" stroke-width="1.4"/>
<line x1="451.7" y1="147.6" x2="451.7" y2="222.1" stroke="#231f20" stroke-width="1.25"/>
<line x1="451.1" y1="221.5" x2="519.5" y2="221.5" stroke="#231f20" stroke-width="1.25"/>
<line x1="448.3" y1="151.25" x2="451.7" y2="151.25" stroke="#231f20" stroke-width="1"/>
<text x="445.8" y="154.2" font-size="8.3" text-anchor="end" fill="#231f20" stroke="#231f20" stroke-width="0.12" textLength="13.05" lengthAdjust="spacingAndGlyphs" >300</text>
<line x1="448.3" y1="174.6" x2="451.7" y2="174.6" stroke="#231f20" stroke-width="1"/>
<text x="445.8" y="177.55" font-size="8.3" text-anchor="end" fill="#231f20" stroke="#231f20" stroke-width="0.12" textLength="13.05" lengthAdjust="spacingAndGlyphs" >200</text>
<line x1="448.3" y1="197.9" x2="451.7" y2="197.9" stroke="#231f20" stroke-width="1"/>
<text x="445.8" y="200.85" font-size="8.3" text-anchor="end" fill="#231f20" stroke="#231f20" stroke-width="0.12" textLength="13.05" lengthAdjust="spacingAndGlyphs" >100</text>
<line x1="448.3" y1="221.5" x2="451.7" y2="221.5" stroke="#231f20" stroke-width="1"/>
<text x="445.8" y="224.45" font-size="8.3" text-anchor="end" fill="#231f20" stroke="#231f20" stroke-width="0.12" textLength="4.35" lengthAdjust="spacingAndGlyphs" >0</text>
<line x1="458.5" y1="221.5" x2="458.5" y2="224.8" stroke="#231f20" stroke-width="1"/>
<text x="460.8" y="231.7" font-size="7.8" text-anchor="end" fill="#231f20" stroke="#231f20" stroke-width="0.22" textLength="15.4" lengthAdjust="spacingAndGlyphs" transform="rotate(-44 460.8 231.7)" >ZL19</text>
<line x1="468.7" y1="221.5" x2="468.7" y2="224.8" stroke="#231f20" stroke-width="1"/>
<text x="471" y="231.7" font-size="7.8" text-anchor="end" fill="#231f20" stroke="#231f20" stroke-width="0.22" textLength="15.4" lengthAdjust="spacingAndGlyphs" transform="rotate(-44 471 231.7)" >ZL33</text>
<line x1="478.7" y1="221.5" x2="478.7" y2="224.8" stroke="#231f20" stroke-width="1"/>
<text x="481" y="231.7" font-size="7.8" text-anchor="end" fill="#231f20" stroke="#231f20" stroke-width="0.22" textLength="15.4" lengthAdjust="spacingAndGlyphs" transform="rotate(-44 481 231.7)" >ZJ52</text>
<line x1="495.4" y1="221.5" x2="495.4" y2="224.8" stroke="#231f20" stroke-width="1"/>
<text x="497.7" y="231.7" font-size="7.8" text-anchor="end" fill="#231f20" stroke="#231f20" stroke-width="0.22" textLength="15.4" lengthAdjust="spacingAndGlyphs" transform="rotate(-44 497.7 231.7)" >ZL26</text>
<line x1="505.2" y1="221.5" x2="505.2" y2="224.8" stroke="#231f20" stroke-width="1"/>
<text x="507.5" y="231.7" font-size="7.8" text-anchor="end" fill="#231f20" stroke="#231f20" stroke-width="0.22" textLength="15.4" lengthAdjust="spacingAndGlyphs" transform="rotate(-44 507.5 231.7)" >ZL39</text>
<line x1="515.2" y1="221.5" x2="515.2" y2="224.8" stroke="#231f20" stroke-width="1"/>
<text x="517.5" y="231.7" font-size="7.8" text-anchor="end" fill="#231f20" stroke="#231f20" stroke-width="0.22" textLength="15.4" lengthAdjust="spacingAndGlyphs" transform="rotate(-44 517.5 231.7)" >ZH63</text>
<text x="487.7" y="141.6" font-size="9.5" text-anchor="middle" fill="#231f20" stroke="#231f20" stroke-width="0.12" font-style="italic" textLength="19" lengthAdjust="spacingAndGlyphs" >IL1B</text>
<text x="467.7" y="158.34" font-size="7.9" text-anchor="middle" fill="#231f20" stroke="#231f20" stroke-width="0.12" textLength="25" lengthAdjust="spacingAndGlyphs" >Control</text>
<text x="504.9" y="158.34" font-size="7.9" text-anchor="middle" fill="#231f20" stroke="#231f20" stroke-width="0.12" textLength="10.2" lengthAdjust="spacingAndGlyphs" >CH</text>
<text x="486.95" y="169.72" font-size="8.4" text-anchor="middle" fill="#231f20" stroke="#231f20" stroke-width="0.12" font-style="italic" textLength="32.7" lengthAdjust="spacingAndGlyphs" >p=0.0458</text>
<line x1="468" y1="172.5" x2="505" y2="172.5" stroke="#5a5a5a" stroke-width="1.4"/>
<rect x="37.6" y="330" width="11.8" height="31.25" fill="#e68a9b" />
<rect x="51" y="326.1" width="11.6" height="35.15" fill="#e68a9b" />
<rect x="64.2" y="328.4" width="11.9" height="32.85" fill="#e68a9b" />
<rect x="89.1" y="324" width="12" height="37.25" fill="#8daac8" />
<rect x="102.4" y="328.5" width="11.8" height="32.75" fill="#8daac8" />
<rect x="115.7" y="318" width="12" height="43.25" fill="#8daac8" />
<line x1="82.5" y1="294.2" x2="82.5" y2="361.25" stroke="#3c3c3c" stroke-width="0.9" stroke-dasharray="2 1.4"/>
<line x1="43.5" y1="326.4" x2="43.5" y2="332" stroke="#231f20" stroke-width="1.1"/>
<line x1="40.1" y1="326.4" x2="46.9" y2="326.4" stroke="#231f20" stroke-width="1.1"/>
<circle cx="43.5" cy="323" r="1.15" fill="#c8102e"/>
<circle cx="43.5" cy="328.6" r="1.15" fill="#c8102e"/>
<circle cx="43.5" cy="333" r="1.15" fill="#c8102e"/>
<circle cx="43.5" cy="339" r="1.15" fill="#c8102e"/>
<line x1="56.8" y1="321.6" x2="56.8" y2="328.1" stroke="#231f20" stroke-width="1.1"/>
<line x1="53.4" y1="321.6" x2="60.2" y2="321.6" stroke="#231f20" stroke-width="1.1"/>
<circle cx="56" cy="321" r="1.15" fill="#c8102e"/>
<circle cx="58.4" cy="319.8" r="1.15" fill="#c8102e"/>
<circle cx="57.4" cy="322.6" r="1.15" fill="#c8102e"/>
<circle cx="57.4" cy="340" r="1.15" fill="#c8102e"/>
<line x1="70.15" y1="325.6" x2="70.15" y2="330.4" stroke="#231f20" stroke-width="1.1"/>
<line x1="66.75" y1="325.6" x2="73.55" y2="325.6" stroke="#231f20" stroke-width="1.1"/>
<circle cx="69.95" cy="324.4" r="1.15" fill="#c8102e"/>
<circle cx="71.05" cy="327" r="1.15" fill="#c8102e"/>
<circle cx="69.95" cy="335.6" r="1.15" fill="#c8102e"/>
<line x1="95.1" y1="320.2" x2="95.1" y2="326" stroke="#231f20" stroke-width="1.1"/>
<line x1="91.7" y1="320.2" x2="98.5" y2="320.2" stroke="#231f20" stroke-width="1.1"/>
<circle cx="93.4" cy="319.6" r="1.15" fill="#174a86"/>
<circle cx="96.9" cy="319.8" r="1.15" fill="#174a86"/>
<circle cx="95.1" cy="322.8" r="1.15" fill="#174a86"/>
<circle cx="95.1" cy="334.4" r="1.15" fill="#174a86"/>
<line x1="108.3" y1="325.3" x2="108.3" y2="330.5" stroke="#231f20" stroke-width="1.1"/>
<line x1="104.9" y1="325.3" x2="111.7" y2="325.3" stroke="#231f20" stroke-width="1.1"/>
<circle cx="108.6" cy="322" r="1.15" fill="#174a86"/>
<circle cx="108.3" cy="332.4" r="1.15" fill="#174a86"/>
<circle cx="106.8" cy="333.9" r="1.15" fill="#174a86"/>
<circle cx="109.8" cy="333.6" r="1.15" fill="#174a86"/>
<line x1="121.7" y1="311.5" x2="121.7" y2="320" stroke="#231f20" stroke-width="1.1"/>
<line x1="118.3" y1="311.5" x2="125.1" y2="311.5" stroke="#231f20" stroke-width="1.1"/>
<circle cx="121.7" cy="302.2" r="1.15" fill="#174a86"/>
<circle cx="121.7" cy="318.4" r="1.15" fill="#174a86"/>
<circle cx="121.7" cy="333.2" r="1.15" fill="#174a86"/>
<line x1="31.75" y1="291" x2="31.75" y2="361.85" stroke="#231f20" stroke-width="1.25"/>
<line x1="31.15" y1="361.25" x2="133.4" y2="361.25" stroke="#231f20" stroke-width="1.25"/>
<line x1="28.35" y1="293.25" x2="31.75" y2="293.25" stroke="#231f20" stroke-width="1"/>
<text x="25.15" y="296.2" font-size="8.3" text-anchor="end" fill="#231f20" stroke="#231f20" stroke-width="0.12" textLength="8.7" lengthAdjust="spacingAndGlyphs" >20</text>
<line x1="28.35" y1="310.25" x2="31.75" y2="310.25" stroke="#231f20" stroke-width="1"/>
<text x="25.15" y="313.2" font-size="8.3" text-anchor="end" fill="#231f20" stroke="#231f20" stroke-width="0.12" textLength="8.7" lengthAdjust="spacingAndGlyphs" >15</text>
<line x1="28.35" y1="327.25" x2="31.75" y2="327.25" stroke="#231f20" stroke-width="1"/>
<text x="25.15" y="330.2" font-size="8.3" text-anchor="end" fill="#231f20" stroke="#231f20" stroke-width="0.12" textLength="8.7" lengthAdjust="spacingAndGlyphs" >10</text>
<line x1="28.35" y1="344.25" x2="31.75" y2="344.25" stroke="#231f20" stroke-width="1"/>
<text x="25.15" y="347.2" font-size="8.3" text-anchor="end" fill="#231f20" stroke="#231f20" stroke-width="0.12" textLength="4.35" lengthAdjust="spacingAndGlyphs" >5</text>
<line x1="28.35" y1="361.25" x2="31.75" y2="361.25" stroke="#231f20" stroke-width="1"/>
<text x="25.15" y="364.2" font-size="8.3" text-anchor="end" fill="#231f20" stroke="#231f20" stroke-width="0.12" textLength="4.35" lengthAdjust="spacingAndGlyphs" >0</text>
<line x1="43.5" y1="361.25" x2="43.5" y2="364.55" stroke="#231f20" stroke-width="1"/>
<text x="45.8" y="371.65" font-size="8.3" text-anchor="end" fill="#231f20" stroke="#231f20" stroke-width="0.22" textLength="16.8" lengthAdjust="spacingAndGlyphs" transform="rotate(-44 45.8 371.65)" >ZL38</text>
<line x1="56.8" y1="361.25" x2="56.8" y2="364.55" stroke="#231f20" stroke-width="1"/>
<text x="59.1" y="371.65" font-size="8.3" text-anchor="end" fill="#231f20" stroke="#231f20" stroke-width="0.22" textLength="16.8" lengthAdjust="spacingAndGlyphs" transform="rotate(-44 59.1 371.65)" >ZL33</text>
<line x1="70.15" y1="361.25" x2="70.15" y2="364.55" stroke="#231f20" stroke-width="1"/>
<text x="72.45" y="371.65" font-size="8.3" text-anchor="end" fill="#231f20" stroke="#231f20" stroke-width="0.22" textLength="16.8" lengthAdjust="spacingAndGlyphs" transform="rotate(-44 72.45 371.65)" >ZJ52</text>
<line x1="95.1" y1="361.25" x2="95.1" y2="364.55" stroke="#231f20" stroke-width="1"/>
<text x="97.4" y="371.65" font-size="8.3" text-anchor="end" fill="#231f20" stroke="#231f20" stroke-width="0.22" textLength="16.8" lengthAdjust="spacingAndGlyphs" transform="rotate(-44 97.4 371.65)" >ZL26</text>
<line x1="108.3" y1="361.25" x2="108.3" y2="364.55" stroke="#231f20" stroke-width="1"/>
<text x="110.6" y="371.65" font-size="8.3" text-anchor="end" fill="#231f20" stroke="#231f20" stroke-width="0.22" textLength="16.8" lengthAdjust="spacingAndGlyphs" transform="rotate(-44 110.6 371.65)" >ZL39</text>
<line x1="121.7" y1="361.25" x2="121.7" y2="364.55" stroke="#231f20" stroke-width="1"/>
<text x="124" y="371.65" font-size="8.3" text-anchor="end" fill="#231f20" stroke="#231f20" stroke-width="0.22" textLength="16.8" lengthAdjust="spacingAndGlyphs" transform="rotate(-44 124 371.65)" >ZH63</text>
<text x="84.25" y="269.16" font-size="9.6" text-anchor="middle" fill="#231f20" stroke="#231f20" stroke-width="0.12" textLength="58" lengthAdjust="spacingAndGlyphs" >Unstimulated</text>
<text x="84.25" y="281.11" font-size="9.6" text-anchor="middle" fill="#231f20" stroke="#231f20" stroke-width="0.12" textLength="54" lengthAdjust="spacingAndGlyphs" >macrophage</text>
<text x="54.75" y="297.09" font-size="7.9" text-anchor="middle" fill="#231f20" stroke="#231f20" stroke-width="0.12" textLength="25.5" lengthAdjust="spacingAndGlyphs" >Control</text>
<text x="110.62" y="297.09" font-size="7.9" text-anchor="middle" fill="#231f20" stroke="#231f20" stroke-width="0.12" textLength="11.25" lengthAdjust="spacingAndGlyphs" >CH</text>
<text x="83.75" y="306.47" font-size="8.4" text-anchor="middle" fill="#231f20" stroke="#231f20" stroke-width="0.12" font-style="italic" textLength="32.5" lengthAdjust="spacingAndGlyphs" >p=0.3641</text>
<line x1="55.5" y1="309.5" x2="110" y2="309.5" stroke="#5a5a5a" stroke-width="1.4"/>
<text x="9.7" y="328.4" font-size="8.4" text-anchor="middle" fill="#231f20" stroke="#231f20" stroke-width="0.12" textLength="97.5" lengthAdjust="spacingAndGlyphs" transform="rotate(-90 9.7 328.4)" >IL-1β concentration (pg/ml)</text>
<rect x="162" y="337" width="11.7" height="24.25" fill="#e68a9b" />
<rect x="175" y="336.25" width="11.9" height="25" fill="#e68a9b" />
<rect x="188.2" y="333.25" width="11.9" height="28" fill="#e68a9b" />
<rect x="213" y="327" width="12" height="34.25" fill="#8daac8" />
<rect x="226.4" y="326.25" width="11.8" height="35" fill="#8daac8" />
<rect x="239.6" y="320.75" width="12.2" height="40.5" fill="#8daac8" />
<line x1="206.25" y1="294.2" x2="206.25" y2="361.25" stroke="#3c3c3c" stroke-width="0.9" stroke-dasharray="2 1.4"/>
<line x1="167.85" y1="335" x2="167.85" y2="339" stroke="#231f20" stroke-width="1.1"/>
<line x1="164.45" y1="335" x2="171.25" y2="335" stroke="#231f20" stroke-width="1.1"/>
<circle cx="167.85" cy="333.25" r="1.15" fill="#c8102e"/>
<circle cx="166.35" cy="335.5" r="1.15" fill="#c8102e"/>
<circle cx="169.35" cy="335.7" r="1.15" fill="#c8102e"/>
<circle cx="167.85" cy="341.25" r="1.15" fill="#c8102e"/>
<line x1="180.95" y1="334.5" x2="180.95" y2="338" stroke="#231f20" stroke-width="1.1"/>
<line x1="177.55" y1="334.5" x2="184.35" y2="334.5" stroke="#231f20" stroke-width="1.1"/>
<circle cx="180.95" cy="331.75" r="1.15" fill="#c8102e"/>
<circle cx="180.95" cy="335.5" r="1.15" fill="#c8102e"/>
<circle cx="179.45" cy="337.5" r="1.15" fill="#c8102e"/>
<circle cx="182.45" cy="337.7" r="1.15" fill="#c8102e"/>
<line x1="194.15" y1="332" x2="194.15" y2="334.5" stroke="#231f20" stroke-width="1.1"/>
<line x1="190.75" y1="332" x2="197.55" y2="332" stroke="#231f20" stroke-width="1.1"/>
<circle cx="194.15" cy="329.5" r="1.15" fill="#c8102e"/>
<circle cx="192.65" cy="332" r="1.15" fill="#c8102e"/>
<circle cx="195.65" cy="332.2" r="1.15" fill="#c8102e"/>
<circle cx="194.15" cy="336.25" r="1.15" fill="#c8102e"/>
<line x1="219" y1="326.25" x2="219" y2="327.75" stroke="#231f20" stroke-width="1.1"/>
<line x1="215.6" y1="326.25" x2="222.4" y2="326.25" stroke="#231f20" stroke-width="1.1"/>
<circle cx="219" cy="325.75" r="1.15" fill="#174a86"/>
<circle cx="217.5" cy="327.5" r="1.15" fill="#174a86"/>
<circle cx="220.5" cy="327.6" r="1.15" fill="#174a86"/>
<circle cx="219" cy="328.2" r="1.15" fill="#174a86"/>
<line x1="232.3" y1="322.5" x2="232.3" y2="328.25" stroke="#231f20" stroke-width="1.1"/>
<line x1="228.9" y1="322.5" x2="235.7" y2="322.5" stroke="#231f20" stroke-width="1.1"/>
<circle cx="232.3" cy="315.75" r="1.15" fill="#174a86"/>
<circle cx="232.3" cy="327.5" r="1.15" fill="#174a86"/>
<circle cx="232.3" cy="333.25" r="1.15" fill="#174a86"/>
<line x1="245.7" y1="319.25" x2="245.7" y2="322.25" stroke="#231f20" stroke-width="1.1"/>
<line x1="242.3" y1="319.25" x2="249.1" y2="319.25" stroke="#231f20" stroke-width="1.1"/>
<circle cx="247.2" cy="317.5" r="1.15" fill="#174a86"/>
<circle cx="244.2" cy="318.75" r="1.15" fill="#174a86"/>
<circle cx="245.7" cy="321.25" r="1.15" fill="#174a86"/>
<circle cx="245.7" cy="326.75" r="1.15" fill="#174a86"/>
<line x1="155.75" y1="291" x2="155.75" y2="361.85" stroke="#231f20" stroke-width="1.25"/>
<line x1="155.15" y1="361.25" x2="257.5" y2="361.25" stroke="#231f20" stroke-width="1.25"/>
<line x1="152.35" y1="293.25" x2="155.75" y2="293.25" stroke="#231f20" stroke-width="1"/>
<text x="149.15" y="296.2" font-size="8.3" text-anchor="end" fill="#231f20" stroke="#231f20" stroke-width="0.12" textLength="17.4" lengthAdjust="spacingAndGlyphs" >2500</text>
<line x1="152.35" y1="306.85" x2="155.75" y2="306.85" stroke="#231f20" stroke-width="1"/>
<text x="149.15" y="309.8" font-size="8.3" text-anchor="end" fill="#231f20" stroke="#231f20" stroke-width="0.12" textLength="17.4" lengthAdjust="spacingAndGlyphs" >2000</text>
<line x1="152.35" y1="320.45" x2="155.75" y2="320.45" stroke="#231f20" stroke-width="1"/>
<text x="149.15" y="323.4" font-size="8.3" text-anchor="end" fill="#231f20" stroke="#231f20" stroke-width="0.12" textLength="17.4" lengthAdjust="spacingAndGlyphs" >1500</text>
<line x1="152.35" y1="334.05" x2="155.75" y2="334.05" stroke="#231f20" stroke-width="1"/>
<text x="149.15" y="337" font-size="8.3" text-anchor="end" fill="#231f20" stroke="#231f20" stroke-width="0.12" textLength="17.4" lengthAdjust="spacingAndGlyphs" >1000</text>
<line x1="152.35" y1="347.65" x2="155.75" y2="347.65" stroke="#231f20" stroke-width="1"/>
<text x="149.15" y="350.6" font-size="8.3" text-anchor="end" fill="#231f20" stroke="#231f20" stroke-width="0.12" textLength="13.05" lengthAdjust="spacingAndGlyphs" >500</text>
<line x1="152.35" y1="361.25" x2="155.75" y2="361.25" stroke="#231f20" stroke-width="1"/>
<text x="149.15" y="364.2" font-size="8.3" text-anchor="end" fill="#231f20" stroke="#231f20" stroke-width="0.12" textLength="4.35" lengthAdjust="spacingAndGlyphs" >0</text>
<line x1="167.85" y1="361.25" x2="167.85" y2="364.55" stroke="#231f20" stroke-width="1"/>
<text x="170.15" y="371.65" font-size="8.3" text-anchor="end" fill="#231f20" stroke="#231f20" stroke-width="0.22" textLength="16.8" lengthAdjust="spacingAndGlyphs" transform="rotate(-44 170.15 371.65)" >ZL38</text>
<line x1="180.95" y1="361.25" x2="180.95" y2="364.55" stroke="#231f20" stroke-width="1"/>
<text x="183.25" y="371.65" font-size="8.3" text-anchor="end" fill="#231f20" stroke="#231f20" stroke-width="0.22" textLength="16.8" lengthAdjust="spacingAndGlyphs" transform="rotate(-44 183.25 371.65)" >ZL33</text>
<line x1="194.15" y1="361.25" x2="194.15" y2="364.55" stroke="#231f20" stroke-width="1"/>
<text x="196.45" y="371.65" font-size="8.3" text-anchor="end" fill="#231f20" stroke="#231f20" stroke-width="0.22" textLength="16.8" lengthAdjust="spacingAndGlyphs" transform="rotate(-44 196.45 371.65)" >ZJ52</text>
<line x1="219" y1="361.25" x2="219" y2="364.55" stroke="#231f20" stroke-width="1"/>
<text x="221.3" y="371.65" font-size="8.3" text-anchor="end" fill="#231f20" stroke="#231f20" stroke-width="0.22" textLength="16.8" lengthAdjust="spacingAndGlyphs" transform="rotate(-44 221.3 371.65)" >ZL26</text>
<line x1="232.3" y1="361.25" x2="232.3" y2="364.55" stroke="#231f20" stroke-width="1"/>
<text x="234.6" y="371.65" font-size="8.3" text-anchor="end" fill="#231f20" stroke="#231f20" stroke-width="0.22" textLength="16.8" lengthAdjust="spacingAndGlyphs" transform="rotate(-44 234.6 371.65)" >ZL39</text>
<line x1="245.7" y1="361.25" x2="245.7" y2="364.55" stroke="#231f20" stroke-width="1"/>
<text x="248" y="371.65" font-size="8.3" text-anchor="end" fill="#231f20" stroke="#231f20" stroke-width="0.22" textLength="16.8" lengthAdjust="spacingAndGlyphs" transform="rotate(-44 248 371.65)" >ZH63</text>
<text x="208.25" y="269.16" font-size="9.6" text-anchor="middle" fill="#231f20" stroke="#231f20" stroke-width="0.12" textLength="41" lengthAdjust="spacingAndGlyphs" >Activated</text>
<text x="208.25" y="281.11" font-size="9.6" text-anchor="middle" fill="#231f20" stroke="#231f20" stroke-width="0.12" textLength="54" lengthAdjust="spacingAndGlyphs" >macrophage</text>
<text x="179" y="297.09" font-size="7.9" text-anchor="middle" fill="#231f20" stroke="#231f20" stroke-width="0.12" textLength="25.5" lengthAdjust="spacingAndGlyphs" >Control</text>
<text x="235" y="297.09" font-size="7.9" text-anchor="middle" fill="#231f20" stroke="#231f20" stroke-width="0.12" textLength="10" lengthAdjust="spacingAndGlyphs" >CH</text>
<text x="206.88" y="306.47" font-size="8.4" text-anchor="middle" fill="#231f20" stroke="#231f20" stroke-width="0.12" font-style="italic" textLength="32.25" lengthAdjust="spacingAndGlyphs" >p=0.0028</text>
<line x1="180" y1="309.5" x2="233.75" y2="309.5" stroke="#5a5a5a" stroke-width="1.4"/>
<rect x="297.2" y="334.5" width="11.7" height="26.75" fill="#e68a9b" />
<rect x="310.4" y="332" width="11.6" height="29.25" fill="#e68a9b" />
<rect x="323.6" y="331.25" width="11.9" height="30" fill="#e68a9b" />
<rect x="348.6" y="328.75" width="11.8" height="32.5" fill="#8daac8" />
<rect x="361.8" y="330.75" width="11.7" height="30.5" fill="#8daac8" />
<rect x="375" y="321.25" width="12" height="40" fill="#8daac8" />
<line x1="342" y1="294.2" x2="342" y2="361.25" stroke="#3c3c3c" stroke-width="0.9" stroke-dasharray="2 1.4"/>
<line x1="303.05" y1="330.75" x2="303.05" y2="336.5" stroke="#231f20" stroke-width="1.1"/>
<line x1="299.65" y1="330.75" x2="306.45" y2="330.75" stroke="#231f20" stroke-width="1.1"/>
<circle cx="303.05" cy="324.5" r="1.15" fill="#c8102e"/>
<circle cx="303.05" cy="333.75" r="1.15" fill="#c8102e"/>
<circle cx="303.05" cy="336.25" r="1.15" fill="#c8102e"/>
<circle cx="303.05" cy="338.75" r="1.15" fill="#c8102e"/>
<line x1="316.2" y1="329.5" x2="316.2" y2="334" stroke="#231f20" stroke-width="1.1"/>
<line x1="312.8" y1="329.5" x2="319.6" y2="329.5" stroke="#231f20" stroke-width="1.1"/>
<circle cx="316.2" cy="324.5" r="1.15" fill="#c8102e"/>
<circle cx="317.7" cy="331.25" r="1.15" fill="#c8102e"/>
<circle cx="314.7" cy="333" r="1.15" fill="#c8102e"/>
<circle cx="316.2" cy="334.5" r="1.15" fill="#c8102e"/>
<line x1="329.55" y1="328.25" x2="329.55" y2="333.25" stroke="#231f20" stroke-width="1.1"/>
<line x1="326.15" y1="328.25" x2="332.95" y2="328.25" stroke="#231f20" stroke-width="1.1"/>
<circle cx="331.05" cy="325.75" r="1.15" fill="#c8102e"/>
<circle cx="328.05" cy="327.5" r="1.15" fill="#c8102e"/>
<circle cx="329.55" cy="331.25" r="1.15" fill="#c8102e"/>
<circle cx="329.55" cy="336.25" r="1.15" fill="#c8102e"/>
<line x1="354.5" y1="326.75" x2="354.5" y2="330.75" stroke="#231f20" stroke-width="1.1"/>
<line x1="351.1" y1="326.75" x2="357.9" y2="326.75" stroke="#231f20" stroke-width="1.1"/>
<circle cx="354.5" cy="324.25" r="1.15" fill="#174a86"/>
<circle cx="354.5" cy="327.5" r="1.15" fill="#174a86"/>
<circle cx="354.5" cy="330" r="1.15" fill="#174a86"/>
<circle cx="354.5" cy="333.25" r="1.15" fill="#174a86"/>
<line x1="367.65" y1="329.25" x2="367.65" y2="332.25" stroke="#231f20" stroke-width="1.1"/>
<line x1="364.25" y1="329.25" x2="371.05" y2="329.25" stroke="#231f20" stroke-width="1.1"/>
<circle cx="367.65" cy="327.5" r="1.15" fill="#174a86"/>
<circle cx="367.65" cy="330" r="1.15" fill="#174a86"/>
<circle cx="366.15" cy="332" r="1.15" fill="#174a86"/>
<circle cx="369.15" cy="332.1" r="1.15" fill="#174a86"/>
<line x1="381" y1="315" x2="381" y2="323.25" stroke="#231f20" stroke-width="1.1"/>
<line x1="377.6" y1="315" x2="384.4" y2="315" stroke="#231f20" stroke-width="1.1"/>
<circle cx="381" cy="305" r="1.15" fill="#174a86"/>
<circle cx="381" cy="321.25" r="1.15" fill="#174a86"/>
<circle cx="381" cy="326.25" r="1.15" fill="#174a86"/>
<circle cx="381" cy="330" r="1.15" fill="#174a86"/>
<line x1="291.75" y1="291" x2="291.75" y2="361.85" stroke="#231f20" stroke-width="1.25"/>
<line x1="291.15" y1="361.25" x2="392.7" y2="361.25" stroke="#231f20" stroke-width="1.25"/>
<line x1="288.35" y1="293.25" x2="291.75" y2="293.25" stroke="#231f20" stroke-width="1"/>
<text x="285.15" y="296.2" font-size="8.3" text-anchor="end" fill="#231f20" stroke="#231f20" stroke-width="0.12" textLength="8.7" lengthAdjust="spacingAndGlyphs" >25</text>
<line x1="288.35" y1="306.85" x2="291.75" y2="306.85" stroke="#231f20" stroke-width="1"/>
<text x="285.15" y="309.8" font-size="8.3" text-anchor="end" fill="#231f20" stroke="#231f20" stroke-width="0.12" textLength="8.7" lengthAdjust="spacingAndGlyphs" >20</text>
<line x1="288.35" y1="320.45" x2="291.75" y2="320.45" stroke="#231f20" stroke-width="1"/>
<text x="285.15" y="323.4" font-size="8.3" text-anchor="end" fill="#231f20" stroke="#231f20" stroke-width="0.12" textLength="8.7" lengthAdjust="spacingAndGlyphs" >15</text>
<line x1="288.35" y1="334.05" x2="291.75" y2="334.05" stroke="#231f20" stroke-width="1"/>
<text x="285.15" y="337" font-size="8.3" text-anchor="end" fill="#231f20" stroke="#231f20" stroke-width="0.12" textLength="8.7" lengthAdjust="spacingAndGlyphs" >10</text>
<line x1="288.35" y1="347.65" x2="291.75" y2="347.65" stroke="#231f20" stroke-width="1"/>
<text x="285.15" y="350.6" font-size="8.3" text-anchor="end" fill="#231f20" stroke="#231f20" stroke-width="0.12" textLength="4.35" lengthAdjust="spacingAndGlyphs" >5</text>
<line x1="288.35" y1="361.25" x2="291.75" y2="361.25" stroke="#231f20" stroke-width="1"/>
<text x="285.15" y="364.2" font-size="8.3" text-anchor="end" fill="#231f20" stroke="#231f20" stroke-width="0.12" textLength="4.35" lengthAdjust="spacingAndGlyphs" >0</text>
<line x1="303.05" y1="361.25" x2="303.05" y2="364.55" stroke="#231f20" stroke-width="1"/>
<text x="305.35" y="371.65" font-size="8.3" text-anchor="end" fill="#231f20" stroke="#231f20" stroke-width="0.22" textLength="16.8" lengthAdjust="spacingAndGlyphs" transform="rotate(-44 305.35 371.65)" >ZL38</text>
<line x1="316.2" y1="361.25" x2="316.2" y2="364.55" stroke="#231f20" stroke-width="1"/>
<text x="318.5" y="371.65" font-size="8.3" text-anchor="end" fill="#231f20" stroke="#231f20" stroke-width="0.22" textLength="16.8" lengthAdjust="spacingAndGlyphs" transform="rotate(-44 318.5 371.65)" >ZL33</text>
<line x1="329.55" y1="361.25" x2="329.55" y2="364.55" stroke="#231f20" stroke-width="1"/>
<text x="331.85" y="371.65" font-size="8.3" text-anchor="end" fill="#231f20" stroke="#231f20" stroke-width="0.22" textLength="16.8" lengthAdjust="spacingAndGlyphs" transform="rotate(-44 331.85 371.65)" >ZJ52</text>
<line x1="354.5" y1="361.25" x2="354.5" y2="364.55" stroke="#231f20" stroke-width="1"/>
<text x="356.8" y="371.65" font-size="8.3" text-anchor="end" fill="#231f20" stroke="#231f20" stroke-width="0.22" textLength="16.8" lengthAdjust="spacingAndGlyphs" transform="rotate(-44 356.8 371.65)" >ZL26</text>
<line x1="367.65" y1="361.25" x2="367.65" y2="364.55" stroke="#231f20" stroke-width="1"/>
<text x="369.95" y="371.65" font-size="8.3" text-anchor="end" fill="#231f20" stroke="#231f20" stroke-width="0.22" textLength="16.8" lengthAdjust="spacingAndGlyphs" transform="rotate(-44 369.95 371.65)" >ZL39</text>
<line x1="381" y1="361.25" x2="381" y2="364.55" stroke="#231f20" stroke-width="1"/>
<text x="383.3" y="371.65" font-size="8.3" text-anchor="end" fill="#231f20" stroke="#231f20" stroke-width="0.22" textLength="16.8" lengthAdjust="spacingAndGlyphs" transform="rotate(-44 383.3 371.65)" >ZH63</text>
<text x="344.25" y="269.16" font-size="9.6" text-anchor="middle" fill="#231f20" stroke="#231f20" stroke-width="0.12" textLength="58" lengthAdjust="spacingAndGlyphs" >Unstimulated</text>
<text x="344.25" y="281.11" font-size="9.6" text-anchor="middle" fill="#231f20" stroke="#231f20" stroke-width="0.12" textLength="54" lengthAdjust="spacingAndGlyphs" >macrophage</text>
<text x="314.5" y="297.09" font-size="7.9" text-anchor="middle" fill="#231f20" stroke="#231f20" stroke-width="0.12" textLength="25" lengthAdjust="spacingAndGlyphs" >Control</text>
<text x="370.25" y="297.09" font-size="7.9" text-anchor="middle" fill="#231f20" stroke="#231f20" stroke-width="0.12" textLength="10.5" lengthAdjust="spacingAndGlyphs" >CH</text>
<text x="341.62" y="306.47" font-size="8.4" text-anchor="middle" fill="#231f20" stroke="#231f20" stroke-width="0.12" font-style="italic" textLength="33.25" lengthAdjust="spacingAndGlyphs" >p=0.0793</text>
<line x1="315.5" y1="309.5" x2="370" y2="309.5" stroke="#5a5a5a" stroke-width="1.4"/>
<text x="268.1" y="325.9" font-size="8.4" text-anchor="middle" fill="#231f20" stroke="#231f20" stroke-width="0.12" textLength="88.8" lengthAdjust="spacingAndGlyphs" transform="rotate(-90 268.1 325.9)" >IL-6 concentration (pg/ml)</text>
<rect x="420.3" y="333.75" width="11.4" height="27.5" fill="#e68a9b" />
<rect x="433.3" y="335" width="11.4" height="26.25" fill="#e68a9b" />
<rect x="446.4" y="330" width="11.6" height="31.25" fill="#e68a9b" />
<rect x="471" y="323.75" width="12" height="37.5" fill="#8daac8" />
<rect x="484.5" y="325.75" width="11.6" height="35.5" fill="#8daac8" />
<rect x="497.7" y="319.25" width="12" height="42" fill="#8daac8" />
<line x1="464.5" y1="294.2" x2="464.5" y2="361.25" stroke="#3c3c3c" stroke-width="0.9" stroke-dasharray="2 1.4"/>
<line x1="426" y1="330.75" x2="426" y2="335.75" stroke="#231f20" stroke-width="1.1"/>
<line x1="422.6" y1="330.75" x2="429.4" y2="330.75" stroke="#231f20" stroke-width="1.1"/>
<circle cx="426" cy="325.75" r="1.15" fill="#c8102e"/>
<circle cx="426" cy="333.75" r="1.15" fill="#c8102e"/>
<circle cx="426" cy="335.75" r="1.15" fill="#c8102e"/>
<circle cx="426" cy="339.5" r="1.15" fill="#c8102e"/>
<line x1="439" y1="333.75" x2="439" y2="336.25" stroke="#231f20" stroke-width="1.1"/>
<line x1="435.6" y1="333.75" x2="442.4" y2="333.75" stroke="#231f20" stroke-width="1.1"/>
<circle cx="437.5" cy="333" r="1.15" fill="#c8102e"/>
<circle cx="440.5" cy="333.1" r="1.15" fill="#c8102e"/>
<circle cx="439" cy="335" r="1.15" fill="#c8102e"/>
<circle cx="439" cy="337" r="1.15" fill="#c8102e"/>
<line x1="452.2" y1="326.25" x2="452.2" y2="332" stroke="#231f20" stroke-width="1.1"/>
<line x1="448.8" y1="326.25" x2="455.6" y2="326.25" stroke="#231f20" stroke-width="1.1"/>
<circle cx="452.2" cy="322.8" r="1.15" fill="#c8102e"/>
<circle cx="452.2" cy="328" r="1.15" fill="#c8102e"/>
<circle cx="452.2" cy="334" r="1.15" fill="#c8102e"/>
<circle cx="452.2" cy="337.8" r="1.15" fill="#c8102e"/>
<line x1="477" y1="320.5" x2="477" y2="325.75" stroke="#231f20" stroke-width="1.1"/>
<line x1="473.6" y1="320.5" x2="480.4" y2="320.5" stroke="#231f20" stroke-width="1.1"/>
<circle cx="477" cy="316.75" r="1.15" fill="#174a86"/>
<circle cx="475.5" cy="320.5" r="1.15" fill="#174a86"/>
<circle cx="478.5" cy="320.6" r="1.15" fill="#174a86"/>
<circle cx="477" cy="322" r="1.15" fill="#174a86"/>
<circle cx="477" cy="335.5" r="1.15" fill="#174a86"/>
<line x1="490.3" y1="324.5" x2="490.3" y2="327" stroke="#231f20" stroke-width="1.1"/>
<line x1="486.9" y1="324.5" x2="493.7" y2="324.5" stroke="#231f20" stroke-width="1.1"/>
<circle cx="488.8" cy="323.75" r="1.15" fill="#174a86"/>
<circle cx="491.8" cy="323.8" r="1.15" fill="#174a86"/>
<circle cx="490.3" cy="326.25" r="1.15" fill="#174a86"/>
<circle cx="490.3" cy="328" r="1.15" fill="#174a86"/>
<line x1="503.7" y1="317.5" x2="503.7" y2="321" stroke="#231f20" stroke-width="1.1"/>
<line x1="500.3" y1="317.5" x2="507.1" y2="317.5" stroke="#231f20" stroke-width="1.1"/>
<circle cx="503.7" cy="315" r="1.15" fill="#174a86"/>
<circle cx="502.2" cy="317" r="1.15" fill="#174a86"/>
<circle cx="505.2" cy="317.1" r="1.15" fill="#174a86"/>
<circle cx="503.7" cy="321.25" r="1.15" fill="#174a86"/>
<circle cx="503.7" cy="323" r="1.15" fill="#174a86"/>
<line x1="414.25" y1="291" x2="414.25" y2="361.85" stroke="#231f20" stroke-width="1.25"/>
<line x1="413.65" y1="361.25" x2="515.4" y2="361.25" stroke="#231f20" stroke-width="1.25"/>
<line x1="410.85" y1="293.75" x2="414.25" y2="293.75" stroke="#231f20" stroke-width="1"/>
<text x="407.65" y="296.7" font-size="8.3" text-anchor="end" fill="#231f20" stroke="#231f20" stroke-width="0.12" textLength="17.4" lengthAdjust="spacingAndGlyphs" >3000</text>
<line x1="410.85" y1="316.25" x2="414.25" y2="316.25" stroke="#231f20" stroke-width="1"/>
<text x="407.65" y="319.2" font-size="8.3" text-anchor="end" fill="#231f20" stroke="#231f20" stroke-width="0.12" textLength="17.4" lengthAdjust="spacingAndGlyphs" >2000</text>
<line x1="410.85" y1="338.75" x2="414.25" y2="338.75" stroke="#231f20" stroke-width="1"/>
<text x="407.65" y="341.7" font-size="8.3" text-anchor="end" fill="#231f20" stroke="#231f20" stroke-width="0.12" textLength="17.4" lengthAdjust="spacingAndGlyphs" >1000</text>
<line x1="410.85" y1="361.25" x2="414.25" y2="361.25" stroke="#231f20" stroke-width="1"/>
<text x="407.65" y="364.2" font-size="8.3" text-anchor="end" fill="#231f20" stroke="#231f20" stroke-width="0.12" textLength="4.35" lengthAdjust="spacingAndGlyphs" >0</text>
<line x1="426" y1="361.25" x2="426" y2="364.55" stroke="#231f20" stroke-width="1"/>
<text x="428.3" y="371.65" font-size="8.3" text-anchor="end" fill="#231f20" stroke="#231f20" stroke-width="0.22" textLength="16.8" lengthAdjust="spacingAndGlyphs" transform="rotate(-44 428.3 371.65)" >ZL38</text>
<line x1="439" y1="361.25" x2="439" y2="364.55" stroke="#231f20" stroke-width="1"/>
<text x="441.3" y="371.65" font-size="8.3" text-anchor="end" fill="#231f20" stroke="#231f20" stroke-width="0.22" textLength="16.8" lengthAdjust="spacingAndGlyphs" transform="rotate(-44 441.3 371.65)" >ZL33</text>
<line x1="452.2" y1="361.25" x2="452.2" y2="364.55" stroke="#231f20" stroke-width="1"/>
<text x="454.5" y="371.65" font-size="8.3" text-anchor="end" fill="#231f20" stroke="#231f20" stroke-width="0.22" textLength="16.8" lengthAdjust="spacingAndGlyphs" transform="rotate(-44 454.5 371.65)" >ZJ52</text>
<line x1="477" y1="361.25" x2="477" y2="364.55" stroke="#231f20" stroke-width="1"/>
<text x="479.3" y="371.65" font-size="8.3" text-anchor="end" fill="#231f20" stroke="#231f20" stroke-width="0.22" textLength="16.8" lengthAdjust="spacingAndGlyphs" transform="rotate(-44 479.3 371.65)" >ZL26</text>
<line x1="490.3" y1="361.25" x2="490.3" y2="364.55" stroke="#231f20" stroke-width="1"/>
<text x="492.6" y="371.65" font-size="8.3" text-anchor="end" fill="#231f20" stroke="#231f20" stroke-width="0.22" textLength="16.8" lengthAdjust="spacingAndGlyphs" transform="rotate(-44 492.6 371.65)" >ZL39</text>
<line x1="503.7" y1="361.25" x2="503.7" y2="364.55" stroke="#231f20" stroke-width="1"/>
<text x="506" y="371.65" font-size="8.3" text-anchor="end" fill="#231f20" stroke="#231f20" stroke-width="0.22" textLength="16.8" lengthAdjust="spacingAndGlyphs" transform="rotate(-44 506 371.65)" >ZH63</text>
<text x="466.75" y="269.16" font-size="9.6" text-anchor="middle" fill="#231f20" stroke="#231f20" stroke-width="0.12" textLength="41" lengthAdjust="spacingAndGlyphs" >Activated</text>
<text x="466.75" y="281.11" font-size="9.6" text-anchor="middle" fill="#231f20" stroke="#231f20" stroke-width="0.12" textLength="54" lengthAdjust="spacingAndGlyphs" >macrophage</text>
<text x="437.25" y="297.09" font-size="7.9" text-anchor="middle" fill="#231f20" stroke="#231f20" stroke-width="0.12" textLength="25.5" lengthAdjust="spacingAndGlyphs" >Control</text>
<text x="493.25" y="297.09" font-size="7.9" text-anchor="middle" fill="#231f20" stroke="#231f20" stroke-width="0.12" textLength="10" lengthAdjust="spacingAndGlyphs" >CH</text>
<text x="465.5" y="306.47" font-size="8.4" text-anchor="middle" fill="#231f20" stroke="#231f20" stroke-width="0.12" font-style="italic" textLength="32.5" lengthAdjust="spacingAndGlyphs" >p=0.0120</text>
<line x1="437.5" y1="310.5" x2="491.25" y2="310.5" stroke="#5a5a5a" stroke-width="1.4"/>
<path d="M37.5 461 L37.5 461 L37.9 461 L38.3 461 L38.7 461 L39.1 461 L39.5 461 L39.9 461 L40.3 461 L40.7 461 L41.1 461 L41.5 461 L41.9 461 L42.3 461 L42.7 461 L43.1 461 L43.5 461 L43.9 461 L44.3 461 L44.7 461 L45.1 461 L45.5 461 L45.9 461 L46.3 461 L46.7 461 L47.1 461 L47.5 460.99 L47.9 460.96 L48.3 460.87 L48.7 460.62 L49.1 460.01 L49.5 458.65 L49.9 456.02 L50.3 451.57 L50.7 445.02 L51.1 436.75 L51.5 428.09 L51.9 421.03 L52.3 417.55 L52.7 419.62 L53.1 423.76 L53.5 428.17 L53.9 432.48 L54.3 436.52 L54.7 440.19 L55.1 443.47 L55.5 446.35 L55.9 448.84 L56.3 450.97 L56.7 452.78 L57.1 454.3 L57.5 455.57 L57.9 456.62 L58.3 457.48 L58.7 458.19 L59.1 458.76 L59.5 459.23 L59.9 459.6 L60.3 459.9 L60.7 460.14 L61.1 460.33 L61.5 460.48 L61.9 460.59 L62.3 460.69 L62.7 460.76 L63.1 460.81 L63.5 460.86 L63.9 460.89 L64.3 460.92 L64.7 460.94 L65.1 460.95 L65.5 460.96 L65.9 460.97 L66.3 460.97 L66.7 460.97 L67.1 460.96 L67.5 460.95 L67.9 460.93 L68.3 460.91 L68.7 460.87 L69.1 460.82 L69.5 460.76 L69.9 460.69 L70.3 460.6 L70.7 460.5 L71.1 460.39 L71.5 460.27 L71.9 460.16 L72.3 460.05 L72.7 459.95 L73.1 459.88 L73.5 459.82 L73.9 459.8 L74.3 459.81 L74.7 459.85 L75.1 459.91 L75.5 460 L75.9 460.1 L76.3 460.21 L76.7 460.33 L77.1 460.44 L77.5 460.55 L77.9 460.64 L78.3 460.73 L78.7 460.8 L79.1 460.85 L79.5 460.89 L79.9 460.93 L80.3 460.95 L80.7 460.97 L81.1 460.98 L81.5 460.99 L81.9 460.99 L82.3 461 L82.7 461 L83.1 461 L83.5 461 L83.7 461 Z" fill="#39b24a" stroke="#2c9a40" stroke-width="0.35"/>
<rect x="37.5" y="415.9" width="46.2" height="45.1" fill="none" stroke="#444" stroke-width="0.55" />
<line x1="37.5" y1="415.9" x2="37.5" y2="461" stroke="#222" stroke-width="0.8"/>
<line x1="37.2" y1="461" x2="83.7" y2="461" stroke="#222" stroke-width="0.9"/>
<line x1="39.35" y1="460.7" x2="39.35" y2="462.5" stroke="#111" stroke-width="0.8"/>
<line x1="41.66" y1="460.7" x2="41.66" y2="462.5" stroke="#111" stroke-width="0.8"/>
<line x1="44.89" y1="460.7" x2="44.89" y2="462.5" stroke="#111" stroke-width="0.8"/>
<line x1="47.43" y1="460.7" x2="47.43" y2="462.5" stroke="#111" stroke-width="0.8"/>
<line x1="49.51" y1="460.7" x2="49.51" y2="462.5" stroke="#111" stroke-width="0.8"/>
<line x1="51.36" y1="460.7" x2="51.36" y2="462.5" stroke="#111" stroke-width="0.8"/>
<line x1="53.44" y1="460.7" x2="53.44" y2="462.5" stroke="#111" stroke-width="0.8"/>
<line x1="55.98" y1="460.7" x2="55.98" y2="462.5" stroke="#111" stroke-width="0.8"/>
<line x1="58.75" y1="460.7" x2="58.75" y2="462.5" stroke="#111" stroke-width="0.8"/>
<line x1="61.52" y1="460.7" x2="61.52" y2="462.5" stroke="#111" stroke-width="0.8"/>
<line x1="63.83" y1="460.7" x2="63.83" y2="462.5" stroke="#111" stroke-width="0.8"/>
<line x1="65.68" y1="460.7" x2="65.68" y2="462.5" stroke="#111" stroke-width="0.8"/>
<line x1="67.07" y1="460.7" x2="67.07" y2="462.5" stroke="#111" stroke-width="0.8"/>
<line x1="68.45" y1="460.7" x2="68.45" y2="462.5" stroke="#111" stroke-width="0.8"/>
<line x1="71.69" y1="460.7" x2="71.69" y2="462.5" stroke="#111" stroke-width="0.8"/>
<line x1="74" y1="460.7" x2="74" y2="462.5" stroke="#111" stroke-width="0.8"/>
<line x1="75.85" y1="460.7" x2="75.85" y2="462.5" stroke="#111" stroke-width="0.8"/>
<line x1="77.23" y1="460.7" x2="77.23" y2="462.5" stroke="#111" stroke-width="0.8"/>
<line x1="78.62" y1="460.7" x2="78.62" y2="462.5" stroke="#111" stroke-width="0.8"/>
<line x1="80.47" y1="460.7" x2="80.47" y2="462.5" stroke="#111" stroke-width="0.8"/>
<path d="M37.5 448.5 H65.4 V451.5 H83.7" fill="none" stroke="#1a1a1a" stroke-width="1"/>
<line x1="34.5" y1="417.3" x2="37.5" y2="417.3" stroke="#222" stroke-width="0.6"/>
<text x="32.9" y="419.1" font-size="5" text-anchor="end" fill="#231f20" stroke="#231f20" stroke-width="0.1" textLength="8.1" lengthAdjust="spacingAndGlyphs" >250</text>
<line x1="36" y1="419.04" x2="37.5" y2="419.04" stroke="#333" stroke-width="0.45"/>
<line x1="36" y1="420.78" x2="37.5" y2="420.78" stroke="#333" stroke-width="0.45"/>
<line x1="36" y1="422.52" x2="37.5" y2="422.52" stroke="#333" stroke-width="0.45"/>
<line x1="36" y1="424.26" x2="37.5" y2="424.26" stroke="#333" stroke-width="0.45"/>
<line x1="34.5" y1="426" x2="37.5" y2="426" stroke="#222" stroke-width="0.6"/>
<text x="32.9" y="427.8" font-size="5" text-anchor="end" fill="#231f20" stroke="#231f20" stroke-width="0.1" textLength="8.1" lengthAdjust="spacingAndGlyphs" >200</text>
<line x1="36" y1="427.72" x2="37.5" y2="427.72" stroke="#333" stroke-width="0.45"/>
<line x1="36" y1="429.44" x2="37.5" y2="429.44" stroke="#333" stroke-width="0.45"/>
<line x1="36" y1="431.16" x2="37.5" y2="431.16" stroke="#333" stroke-width="0.45"/>
<line x1="36" y1="432.88" x2="37.5" y2="432.88" stroke="#333" stroke-width="0.45"/>
<line x1="34.5" y1="434.6" x2="37.5" y2="434.6" stroke="#222" stroke-width="0.6"/>
<text x="32.9" y="436.4" font-size="5" text-anchor="end" fill="#231f20" stroke="#231f20" stroke-width="0.1" textLength="8.1" lengthAdjust="spacingAndGlyphs" >150</text>
<line x1="36" y1="436.34" x2="37.5" y2="436.34" stroke="#333" stroke-width="0.45"/>
<line x1="36" y1="438.08" x2="37.5" y2="438.08" stroke="#333" stroke-width="0.45"/>
<line x1="36" y1="439.82" x2="37.5" y2="439.82" stroke="#333" stroke-width="0.45"/>
<line x1="36" y1="441.56" x2="37.5" y2="441.56" stroke="#333" stroke-width="0.45"/>
<line x1="34.5" y1="443.3" x2="37.5" y2="443.3" stroke="#222" stroke-width="0.6"/>
<text x="32.9" y="445.1" font-size="5" text-anchor="end" fill="#231f20" stroke="#231f20" stroke-width="0.1" textLength="8.1" lengthAdjust="spacingAndGlyphs" >100</text>
<line x1="36" y1="445.02" x2="37.5" y2="445.02" stroke="#333" stroke-width="0.45"/>
<line x1="36" y1="446.74" x2="37.5" y2="446.74" stroke="#333" stroke-width="0.45"/>
<line x1="36" y1="448.46" x2="37.5" y2="448.46" stroke="#333" stroke-width="0.45"/>
<line x1="36" y1="450.18" x2="37.5" y2="450.18" stroke="#333" stroke-width="0.45"/>
<line x1="34.5" y1="451.9" x2="37.5" y2="451.9" stroke="#222" stroke-width="0.6"/>
<text x="32.9" y="453.7" font-size="5" text-anchor="end" fill="#231f20" stroke="#231f20" stroke-width="0.1" textLength="5.4" lengthAdjust="spacingAndGlyphs" >50</text>
<line x1="36" y1="453.7" x2="37.5" y2="453.7" stroke="#333" stroke-width="0.45"/>
<line x1="36" y1="455.5" x2="37.5" y2="455.5" stroke="#333" stroke-width="0.45"/>
<line x1="36" y1="457.3" x2="37.5" y2="457.3" stroke="#333" stroke-width="0.45"/>
<line x1="36" y1="459.1" x2="37.5" y2="459.1" stroke="#333" stroke-width="0.45"/>
<line x1="34.5" y1="460.9" x2="37.5" y2="460.9" stroke="#222" stroke-width="0.6"/>
<text x="32.9" y="462.7" font-size="5" text-anchor="end" fill="#231f20" stroke="#231f20" stroke-width="0.1" textLength="2.7" lengthAdjust="spacingAndGlyphs" >0</text>
<text x="39.1" y="471.2" font-size="5.7" text-anchor="middle" fill="#231f20" stroke="#231f20" stroke-width="0.15">−10<tspan dy="-1.9" font-size="3.53">3</tspan></text>
<text x="49.6" y="471.2" font-size="5.7" text-anchor="middle" fill="#231f20" stroke="#231f20" stroke-width="0.15">0</text>
<text x="56.1" y="471.2" font-size="5.7" text-anchor="middle" fill="#231f20" stroke="#231f20" stroke-width="0.15">10<tspan dy="-1.9" font-size="3.53">3</tspan></text>
<text x="68.7" y="471.2" font-size="5.7" text-anchor="middle" fill="#231f20" stroke="#231f20" stroke-width="0.15">10<tspan dy="-1.9" font-size="3.53">4</tspan></text>
<text x="80.1" y="471.2" font-size="5.7" text-anchor="middle" fill="#231f20" stroke="#231f20" stroke-width="0.15">10<tspan dy="-1.9" font-size="3.53">5</tspan></text>
<text x="74.9" y="422.8" font-size="5.4" text-anchor="middle" fill="#231f20" stroke="#231f20" stroke-width="0.14" textLength="11.6" lengthAdjust="spacingAndGlyphs" >7.8%</text>
<text x="59.6" y="410.2" font-size="6.9" text-anchor="middle" fill="#231f20" stroke="#231f20" stroke-width="0.18" textLength="16.2" lengthAdjust="spacingAndGlyphs" >ZL38</text>
<path d="M104.6 461 L104.6 461 L105 461 L105.4 461 L105.8 461 L106.2 461 L106.6 461 L107 461 L107.4 461 L107.8 461 L108.2 461 L108.6 461 L109 461 L109.4 461 L109.8 461 L110.2 461 L110.6 461 L111 461 L111.4 461 L111.8 461 L112.2 461 L112.6 461 L113 461 L113.4 461 L113.8 461 L114.2 461 L114.6 461 L115 460.99 L115.4 460.94 L115.8 460.76 L116.2 460.22 L116.6 458.79 L117 455.67 L117.4 450.05 L117.8 441.82 L118.2 432.39 L118.6 424.63 L119 421.6 L119.4 426.17 L119.8 431.92 L120.2 437.45 L120.6 442.36 L121 446.51 L121.4 449.91 L121.8 452.63 L122.2 454.76 L122.6 456.4 L123 457.64 L123.4 458.57 L123.8 459.26 L124.2 459.77 L124.6 460.13 L125 460.39 L125.4 460.58 L125.8 460.71 L126.2 460.8 L126.6 460.86 L127 460.91 L127.4 460.94 L127.8 460.96 L128.2 460.97 L128.6 460.98 L129 460.99 L129.4 460.99 L129.8 460.99 L130.2 461 L130.6 461 L131 461 L131.4 461 L131.8 461 L132.2 461 L132.6 461 L133 461 L133.4 460.99 L133.8 460.98 L134.2 460.97 L134.6 460.94 L135 460.9 L135.4 460.84 L135.8 460.74 L136.2 460.61 L136.6 460.45 L137 460.25 L137.4 460.03 L137.8 459.8 L138.2 459.59 L138.6 459.42 L139 459.32 L139.4 459.3 L139.8 459.36 L140.2 459.5 L140.6 459.69 L141 459.91 L141.4 460.14 L141.8 460.35 L142.2 460.54 L142.6 460.68 L143 460.79 L143.4 460.87 L143.8 460.93 L144.2 460.96 L144.6 460.98 L145 460.99 L145.4 460.99 L145.8 461 L146.2 461 L146.6 461 L147 461 L147.4 461 L147.8 461 L148.2 461 L148.6 461 L149 461 L149.4 461 L149.8 461 L150.2 461 L150.6 461 L150.7 461 Z" fill="#39b24a" stroke="#2c9a40" stroke-width="0.35"/>
<rect x="104.6" y="415.9" width="46.1" height="45.1" fill="none" stroke="#444" stroke-width="0.55" />
<line x1="104.6" y1="415.9" x2="104.6" y2="461" stroke="#222" stroke-width="0.8"/>
<line x1="104.3" y1="461" x2="150.7" y2="461" stroke="#222" stroke-width="0.9"/>
<line x1="106.44" y1="460.7" x2="106.44" y2="462.5" stroke="#111" stroke-width="0.8"/>
<line x1="108.75" y1="460.7" x2="108.75" y2="462.5" stroke="#111" stroke-width="0.8"/>
<line x1="111.98" y1="460.7" x2="111.98" y2="462.5" stroke="#111" stroke-width="0.8"/>
<line x1="114.51" y1="460.7" x2="114.51" y2="462.5" stroke="#111" stroke-width="0.8"/>
<line x1="116.59" y1="460.7" x2="116.59" y2="462.5" stroke="#111" stroke-width="0.8"/>
<line x1="118.43" y1="460.7" x2="118.43" y2="462.5" stroke="#111" stroke-width="0.8"/>
<line x1="120.5" y1="460.7" x2="120.5" y2="462.5" stroke="#111" stroke-width="0.8"/>
<line x1="123.04" y1="460.7" x2="123.04" y2="462.5" stroke="#111" stroke-width="0.8"/>
<line x1="125.81" y1="460.7" x2="125.81" y2="462.5" stroke="#111" stroke-width="0.8"/>
<line x1="128.57" y1="460.7" x2="128.57" y2="462.5" stroke="#111" stroke-width="0.8"/>
<line x1="130.88" y1="460.7" x2="130.88" y2="462.5" stroke="#111" stroke-width="0.8"/>
<line x1="132.72" y1="460.7" x2="132.72" y2="462.5" stroke="#111" stroke-width="0.8"/>
<line x1="134.1" y1="460.7" x2="134.1" y2="462.5" stroke="#111" stroke-width="0.8"/>
<line x1="135.49" y1="460.7" x2="135.49" y2="462.5" stroke="#111" stroke-width="0.8"/>
<line x1="138.71" y1="460.7" x2="138.71" y2="462.5" stroke="#111" stroke-width="0.8"/>
<line x1="141.02" y1="460.7" x2="141.02" y2="462.5" stroke="#111" stroke-width="0.8"/>
<line x1="142.86" y1="460.7" x2="142.86" y2="462.5" stroke="#111" stroke-width="0.8"/>
<line x1="144.25" y1="460.7" x2="144.25" y2="462.5" stroke="#111" stroke-width="0.8"/>
<line x1="145.63" y1="460.7" x2="145.63" y2="462.5" stroke="#111" stroke-width="0.8"/>
<line x1="147.47" y1="460.7" x2="147.47" y2="462.5" stroke="#111" stroke-width="0.8"/>
<path d="M104.6 451.5 H130.7 V454.5 H150.7" fill="none" stroke="#1a1a1a" stroke-width="1"/>
<line x1="101.6" y1="417.3" x2="104.6" y2="417.3" stroke="#222" stroke-width="0.6"/>
<text x="100" y="419.1" font-size="5" text-anchor="end" fill="#231f20" stroke="#231f20" stroke-width="0.1" textLength="8.1" lengthAdjust="spacingAndGlyphs" >300</text>
<line x1="103.1" y1="420.22" x2="104.6" y2="420.22" stroke="#333" stroke-width="0.45"/>
<line x1="103.1" y1="423.14" x2="104.6" y2="423.14" stroke="#333" stroke-width="0.45"/>
<line x1="103.1" y1="426.06" x2="104.6" y2="426.06" stroke="#333" stroke-width="0.45"/>
<line x1="103.1" y1="428.98" x2="104.6" y2="428.98" stroke="#333" stroke-width="0.45"/>
<line x1="101.6" y1="431.9" x2="104.6" y2="431.9" stroke="#222" stroke-width="0.6"/>
<text x="100" y="433.7" font-size="5" text-anchor="end" fill="#231f20" stroke="#231f20" stroke-width="0.1" textLength="8.1" lengthAdjust="spacingAndGlyphs" >200</text>
<line x1="103.1" y1="434.8" x2="104.6" y2="434.8" stroke="#333" stroke-width="0.45"/>
<line x1="103.1" y1="437.7" x2="104.6" y2="437.7" stroke="#333" stroke-width="0.45"/>
<line x1="103.1" y1="440.6" x2="104.6" y2="440.6" stroke="#333" stroke-width="0.45"/>
<line x1="103.1" y1="443.5" x2="104.6" y2="443.5" stroke="#333" stroke-width="0.45"/>
<line x1="101.6" y1="446.4" x2="104.6" y2="446.4" stroke="#222" stroke-width="0.6"/>
<text x="100" y="448.2" font-size="5" text-anchor="end" fill="#231f20" stroke="#231f20" stroke-width="0.1" textLength="8.1" lengthAdjust="spacingAndGlyphs" >100</text>
<line x1="103.1" y1="449.3" x2="104.6" y2="449.3" stroke="#333" stroke-width="0.45"/>
<line x1="103.1" y1="452.2" x2="104.6" y2="452.2" stroke="#333" stroke-width="0.45"/>
<line x1="103.1" y1="455.1" x2="104.6" y2="455.1" stroke="#333" stroke-width="0.45"/>
<line x1="103.1" y1="458" x2="104.6" y2="458" stroke="#333" stroke-width="0.45"/>
<line x1="101.6" y1="460.9" x2="104.6" y2="460.9" stroke="#222" stroke-width="0.6"/>
<text x="100" y="462.7" font-size="5" text-anchor="end" fill="#231f20" stroke="#231f20" stroke-width="0.1" textLength="2.7" lengthAdjust="spacingAndGlyphs" >0</text>
<text x="106.2" y="471.2" font-size="5.7" text-anchor="middle" fill="#231f20" stroke="#231f20" stroke-width="0.15">−10<tspan dy="-1.9" font-size="3.53">3</tspan></text>
<text x="116.7" y="471.2" font-size="5.7" text-anchor="middle" fill="#231f20" stroke="#231f20" stroke-width="0.15">0</text>
<text x="123.2" y="471.2" font-size="5.7" text-anchor="middle" fill="#231f20" stroke="#231f20" stroke-width="0.15">10<tspan dy="-1.9" font-size="3.53">3</tspan></text>
<text x="135.8" y="471.2" font-size="5.7" text-anchor="middle" fill="#231f20" stroke="#231f20" stroke-width="0.15">10<tspan dy="-1.9" font-size="3.53">4</tspan></text>
<text x="147.2" y="471.2" font-size="5.7" text-anchor="middle" fill="#231f20" stroke="#231f20" stroke-width="0.15">10<tspan dy="-1.9" font-size="3.53">5</tspan></text>
<text x="141.9" y="422.8" font-size="5.4" text-anchor="middle" fill="#231f20" stroke="#231f20" stroke-width="0.14" textLength="11.6" lengthAdjust="spacingAndGlyphs" >9.1%</text>
<text x="127.6" y="410.2" font-size="6.9" text-anchor="middle" fill="#231f20" stroke="#231f20" stroke-width="0.18" textLength="16.2" lengthAdjust="spacingAndGlyphs" >ZL33</text>
<path d="M172.5 461 L172.5 461 L172.9 461 L173.3 461 L173.7 461 L174.1 461 L174.5 461 L174.9 461 L175.3 461 L175.7 461 L176.1 461 L176.5 461 L176.9 461 L177.3 461 L177.7 461 L178.1 461 L178.5 461 L178.9 461 L179.3 461 L179.7 461 L180.1 461 L180.5 461 L180.9 461 L181.3 461 L181.7 461 L182.1 461 L182.5 461 L182.9 460.99 L183.3 460.97 L183.7 460.9 L184.1 460.67 L184.5 460.04 L184.9 458.59 L185.3 455.67 L185.7 450.67 L186.1 443.47 L186.5 434.94 L186.9 427.05 L187.3 422.25 L187.7 423.41 L188.1 428.62 L188.5 434.09 L188.9 439.17 L189.3 443.62 L189.7 447.38 L190.1 450.48 L190.5 452.96 L190.9 454.93 L191.3 456.46 L191.7 457.64 L192.1 458.53 L192.5 459.2 L192.9 459.7 L193.3 460.07 L193.7 460.34 L194.1 460.53 L194.5 460.67 L194.9 460.77 L195.3 460.84 L195.7 460.89 L196.1 460.92 L196.5 460.95 L196.9 460.96 L197.3 460.98 L197.7 460.98 L198.1 460.99 L198.5 460.99 L198.9 461 L199.3 461 L199.7 461 L200.1 461 L200.5 461 L200.9 461 L201.3 460.99 L201.7 460.98 L202.1 460.95 L202.5 460.91 L202.9 460.83 L203.3 460.72 L203.7 460.57 L204.1 460.37 L204.5 460.15 L204.9 459.93 L205.3 459.74 L205.7 459.63 L206.1 459.6 L206.5 459.67 L206.9 459.82 L207.3 460.02 L207.7 460.21 L208.1 460.37 L208.5 460.45 L208.9 460.43 L209.3 460.32 L209.7 460.14 L210.1 459.94 L210.5 459.78 L210.9 459.7 L211.3 459.73 L211.7 459.87 L212.1 460.09 L212.5 460.33 L212.9 460.55 L213.3 460.73 L213.7 460.85 L214.1 460.92 L214.5 460.97 L214.9 460.99 L215.3 460.99 L215.7 461 L216.1 461 L216.5 461 L216.9 461 L217.3 461 L217.7 461 L218.1 461 L218.5 461 L218.6 461 Z" fill="#39b24a" stroke="#2c9a40" stroke-width="0.35"/>
<rect x="172.5" y="415.9" width="46.1" height="45.1" fill="none" stroke="#444" stroke-width="0.55" />
<line x1="172.5" y1="415.9" x2="172.5" y2="461" stroke="#222" stroke-width="0.8"/>
<line x1="172.2" y1="461" x2="218.6" y2="461" stroke="#222" stroke-width="0.9"/>
<line x1="174.34" y1="460.7" x2="174.34" y2="462.5" stroke="#111" stroke-width="0.8"/>
<line x1="176.65" y1="460.7" x2="176.65" y2="462.5" stroke="#111" stroke-width="0.8"/>
<line x1="179.88" y1="460.7" x2="179.88" y2="462.5" stroke="#111" stroke-width="0.8"/>
<line x1="182.41" y1="460.7" x2="182.41" y2="462.5" stroke="#111" stroke-width="0.8"/>
<line x1="184.49" y1="460.7" x2="184.49" y2="462.5" stroke="#111" stroke-width="0.8"/>
<line x1="186.33" y1="460.7" x2="186.33" y2="462.5" stroke="#111" stroke-width="0.8"/>
<line x1="188.4" y1="460.7" x2="188.4" y2="462.5" stroke="#111" stroke-width="0.8"/>
<line x1="190.94" y1="460.7" x2="190.94" y2="462.5" stroke="#111" stroke-width="0.8"/>
<line x1="193.71" y1="460.7" x2="193.71" y2="462.5" stroke="#111" stroke-width="0.8"/>
<line x1="196.47" y1="460.7" x2="196.47" y2="462.5" stroke="#111" stroke-width="0.8"/>
<line x1="198.78" y1="460.7" x2="198.78" y2="462.5" stroke="#111" stroke-width="0.8"/>
<line x1="200.62" y1="460.7" x2="200.62" y2="462.5" stroke="#111" stroke-width="0.8"/>
<line x1="202" y1="460.7" x2="202" y2="462.5" stroke="#111" stroke-width="0.8"/>
<line x1="203.39" y1="460.7" x2="203.39" y2="462.5" stroke="#111" stroke-width="0.8"/>
<line x1="206.61" y1="460.7" x2="206.61" y2="462.5" stroke="#111" stroke-width="0.8"/>
<line x1="208.92" y1="460.7" x2="208.92" y2="462.5" stroke="#111" stroke-width="0.8"/>
<line x1="210.76" y1="460.7" x2="210.76" y2="462.5" stroke="#111" stroke-width="0.8"/>
<line x1="212.15" y1="460.7" x2="212.15" y2="462.5" stroke="#111" stroke-width="0.8"/>
<line x1="213.53" y1="460.7" x2="213.53" y2="462.5" stroke="#111" stroke-width="0.8"/>
<line x1="215.37" y1="460.7" x2="215.37" y2="462.5" stroke="#111" stroke-width="0.8"/>
<path d="M172.5 450.5 H202.5 V452.5 H218.6" fill="none" stroke="#1a1a1a" stroke-width="1"/>
<line x1="169.5" y1="425.4" x2="172.5" y2="425.4" stroke="#222" stroke-width="0.6"/>
<text x="167.9" y="427.2" font-size="5" text-anchor="end" fill="#231f20" stroke="#231f20" stroke-width="0.1" textLength="8.1" lengthAdjust="spacingAndGlyphs" >150</text>
<line x1="171" y1="427.78" x2="172.5" y2="427.78" stroke="#333" stroke-width="0.45"/>
<line x1="171" y1="430.16" x2="172.5" y2="430.16" stroke="#333" stroke-width="0.45"/>
<line x1="171" y1="432.54" x2="172.5" y2="432.54" stroke="#333" stroke-width="0.45"/>
<line x1="171" y1="434.92" x2="172.5" y2="434.92" stroke="#333" stroke-width="0.45"/>
<line x1="169.5" y1="437.3" x2="172.5" y2="437.3" stroke="#222" stroke-width="0.6"/>
<text x="167.9" y="439.1" font-size="5" text-anchor="end" fill="#231f20" stroke="#231f20" stroke-width="0.1" textLength="8.1" lengthAdjust="spacingAndGlyphs" >100</text>
<line x1="171" y1="439.68" x2="172.5" y2="439.68" stroke="#333" stroke-width="0.45"/>
<line x1="171" y1="442.06" x2="172.5" y2="442.06" stroke="#333" stroke-width="0.45"/>
<line x1="171" y1="444.44" x2="172.5" y2="444.44" stroke="#333" stroke-width="0.45"/>
<line x1="171" y1="446.82" x2="172.5" y2="446.82" stroke="#333" stroke-width="0.45"/>
<line x1="169.5" y1="449.2" x2="172.5" y2="449.2" stroke="#222" stroke-width="0.6"/>
<text x="167.9" y="451" font-size="5" text-anchor="end" fill="#231f20" stroke="#231f20" stroke-width="0.1" textLength="5.4" lengthAdjust="spacingAndGlyphs" >50</text>
<line x1="171" y1="451.54" x2="172.5" y2="451.54" stroke="#333" stroke-width="0.45"/>
<line x1="171" y1="453.88" x2="172.5" y2="453.88" stroke="#333" stroke-width="0.45"/>
<line x1="171" y1="456.22" x2="172.5" y2="456.22" stroke="#333" stroke-width="0.45"/>
<line x1="171" y1="458.56" x2="172.5" y2="458.56" stroke="#333" stroke-width="0.45"/>
<line x1="169.5" y1="460.9" x2="172.5" y2="460.9" stroke="#222" stroke-width="0.6"/>
<text x="167.9" y="462.7" font-size="5" text-anchor="end" fill="#231f20" stroke="#231f20" stroke-width="0.1" textLength="2.7" lengthAdjust="spacingAndGlyphs" >0</text>
<text x="174.1" y="471.2" font-size="5.7" text-anchor="middle" fill="#231f20" stroke="#231f20" stroke-width="0.15">−10<tspan dy="-1.9" font-size="3.53">3</tspan></text>
<text x="184.6" y="471.2" font-size="5.7" text-anchor="middle" fill="#231f20" stroke="#231f20" stroke-width="0.15">0</text>
<text x="191.1" y="471.2" font-size="5.7" text-anchor="middle" fill="#231f20" stroke="#231f20" stroke-width="0.15">10<tspan dy="-1.9" font-size="3.53">3</tspan></text>
<text x="203.7" y="471.2" font-size="5.7" text-anchor="middle" fill="#231f20" stroke="#231f20" stroke-width="0.15">10<tspan dy="-1.9" font-size="3.53">4</tspan></text>
<text x="215.1" y="471.2" font-size="5.7" text-anchor="middle" fill="#231f20" stroke="#231f20" stroke-width="0.15">10<tspan dy="-1.9" font-size="3.53">5</tspan></text>
<text x="210.6" y="422.8" font-size="5.4" text-anchor="middle" fill="#231f20" stroke="#231f20" stroke-width="0.14" textLength="11.6" lengthAdjust="spacingAndGlyphs" >9.1%</text>
<text x="195.2" y="410.2" font-size="6.9" text-anchor="middle" fill="#231f20" stroke="#231f20" stroke-width="0.18" textLength="16.2" lengthAdjust="spacingAndGlyphs" >ZL26</text>
<path d="M242.3 461 L242.3 461 L242.7 461 L243.1 461 L243.5 461 L243.9 461 L244.3 461 L244.7 461 L245.1 461 L245.5 461 L245.9 461 L246.3 461 L246.7 461 L247.1 461 L247.5 461 L247.9 461 L248.3 461 L248.7 461 L249.1 461 L249.5 461 L249.9 461 L250.3 461 L250.7 461 L251.1 461 L251.5 461 L251.9 460.99 L252.3 460.85 L252.7 459.06 L253.1 449.52 L253.5 430.17 L253.9 425.2 L254.3 439.67 L254.7 450.16 L255.1 456.02 L255.5 458.88 L255.9 460.15 L256.3 460.68 L256.7 460.88 L257.1 460.96 L257.5 460.99 L257.9 461 L258.3 461 L258.7 461 L259.1 461 L259.5 461 L259.9 461 L260.3 461 L260.7 461 L261.1 461 L261.5 461 L261.9 461 L262.3 461 L262.7 461 L263.1 461 L263.5 461 L263.9 461 L264.3 461 L264.7 461 L265.1 461 L265.5 461 L265.9 461 L266.3 461 L266.7 461 L267.1 461 L267.5 461 L267.9 461 L268.3 461 L268.7 461 L269.1 461 L269.5 461 L269.9 461 L270.3 461 L270.7 461 L271.1 461 L271.5 461 L271.9 461 L272.3 461 L272.7 461 L273.1 461 L273.5 461 L273.9 461 L274.3 461 L274.7 461 L275.1 461 L275.5 461 L275.9 461 L276.3 461 L276.7 461 L277.1 461 L277.5 461 L277.9 461 L278.3 461 L278.7 461 L279.1 461 L279.5 461 L279.9 461 L280.3 461 L280.7 461 L281.1 461 L281.5 461 L281.9 461 L282.3 461 L282.7 461 L283.1 461 L283.5 461 L283.9 461 L284.3 461 L284.7 461 L285.1 461 L285.5 461 L285.9 461 L286.3 461 L286.7 461 L287.1 461 L287.5 461 L287.9 461 L288.3 461 L288.4 461 Z" fill="#39b24a" stroke="#2c9a40" stroke-width="0.35"/>
<rect x="242.3" y="415.9" width="46.1" height="45.1" fill="none" stroke="#444" stroke-width="0.55" />
<line x1="242.3" y1="415.9" x2="242.3" y2="461" stroke="#222" stroke-width="0.8"/>
<line x1="242" y1="461" x2="288.4" y2="461" stroke="#222" stroke-width="0.9"/>
<line x1="244.14" y1="460.7" x2="244.14" y2="462.5" stroke="#111" stroke-width="0.8"/>
<line x1="246.45" y1="460.7" x2="246.45" y2="462.5" stroke="#111" stroke-width="0.8"/>
<line x1="249.68" y1="460.7" x2="249.68" y2="462.5" stroke="#111" stroke-width="0.8"/>
<line x1="252.21" y1="460.7" x2="252.21" y2="462.5" stroke="#111" stroke-width="0.8"/>
<line x1="254.29" y1="460.7" x2="254.29" y2="462.5" stroke="#111" stroke-width="0.8"/>
<line x1="256.13" y1="460.7" x2="256.13" y2="462.5" stroke="#111" stroke-width="0.8"/>
<line x1="258.2" y1="460.7" x2="258.2" y2="462.5" stroke="#111" stroke-width="0.8"/>
<line x1="260.74" y1="460.7" x2="260.74" y2="462.5" stroke="#111" stroke-width="0.8"/>
<line x1="263.51" y1="460.7" x2="263.51" y2="462.5" stroke="#111" stroke-width="0.8"/>
<line x1="266.27" y1="460.7" x2="266.27" y2="462.5" stroke="#111" stroke-width="0.8"/>
<line x1="268.58" y1="460.7" x2="268.58" y2="462.5" stroke="#111" stroke-width="0.8"/>
<line x1="270.42" y1="460.7" x2="270.42" y2="462.5" stroke="#111" stroke-width="0.8"/>
<line x1="271.8" y1="460.7" x2="271.8" y2="462.5" stroke="#111" stroke-width="0.8"/>
<line x1="273.19" y1="460.7" x2="273.19" y2="462.5" stroke="#111" stroke-width="0.8"/>
<line x1="276.41" y1="460.7" x2="276.41" y2="462.5" stroke="#111" stroke-width="0.8"/>
<line x1="278.72" y1="460.7" x2="278.72" y2="462.5" stroke="#111" stroke-width="0.8"/>
<line x1="280.56" y1="460.7" x2="280.56" y2="462.5" stroke="#111" stroke-width="0.8"/>
<line x1="281.95" y1="460.7" x2="281.95" y2="462.5" stroke="#111" stroke-width="0.8"/>
<line x1="283.33" y1="460.7" x2="283.33" y2="462.5" stroke="#111" stroke-width="0.8"/>
<line x1="285.17" y1="460.7" x2="285.17" y2="462.5" stroke="#111" stroke-width="0.8"/>
<path d="M242.3 449.5 H272.6 V451.5 H288.4" fill="none" stroke="#1a1a1a" stroke-width="1"/>
<line x1="239.3" y1="420.8" x2="242.3" y2="420.8" stroke="#222" stroke-width="0.6"/>
<text x="237.7" y="422.6" font-size="5" text-anchor="end" fill="#231f20" stroke="#231f20" stroke-width="0.1" textLength="8.1" lengthAdjust="spacingAndGlyphs" >600</text>
<line x1="240.8" y1="423.48" x2="242.3" y2="423.48" stroke="#333" stroke-width="0.45"/>
<line x1="240.8" y1="426.16" x2="242.3" y2="426.16" stroke="#333" stroke-width="0.45"/>
<line x1="240.8" y1="428.84" x2="242.3" y2="428.84" stroke="#333" stroke-width="0.45"/>
<line x1="240.8" y1="431.52" x2="242.3" y2="431.52" stroke="#333" stroke-width="0.45"/>
<line x1="239.3" y1="434.2" x2="242.3" y2="434.2" stroke="#222" stroke-width="0.6"/>
<text x="237.7" y="436" font-size="5" text-anchor="end" fill="#231f20" stroke="#231f20" stroke-width="0.1" textLength="8.1" lengthAdjust="spacingAndGlyphs" >400</text>
<line x1="240.8" y1="436.88" x2="242.3" y2="436.88" stroke="#333" stroke-width="0.45"/>
<line x1="240.8" y1="439.56" x2="242.3" y2="439.56" stroke="#333" stroke-width="0.45"/>
<line x1="240.8" y1="442.24" x2="242.3" y2="442.24" stroke="#333" stroke-width="0.45"/>
<line x1="240.8" y1="444.92" x2="242.3" y2="444.92" stroke="#333" stroke-width="0.45"/>
<line x1="239.3" y1="447.6" x2="242.3" y2="447.6" stroke="#222" stroke-width="0.6"/>
<text x="237.7" y="449.4" font-size="5" text-anchor="end" fill="#231f20" stroke="#231f20" stroke-width="0.1" textLength="8.1" lengthAdjust="spacingAndGlyphs" >200</text>
<line x1="240.8" y1="450.26" x2="242.3" y2="450.26" stroke="#333" stroke-width="0.45"/>
<line x1="240.8" y1="452.92" x2="242.3" y2="452.92" stroke="#333" stroke-width="0.45"/>
<line x1="240.8" y1="455.58" x2="242.3" y2="455.58" stroke="#333" stroke-width="0.45"/>
<line x1="240.8" y1="458.24" x2="242.3" y2="458.24" stroke="#333" stroke-width="0.45"/>
<line x1="239.3" y1="460.9" x2="242.3" y2="460.9" stroke="#222" stroke-width="0.6"/>
<text x="237.7" y="462.7" font-size="5" text-anchor="end" fill="#231f20" stroke="#231f20" stroke-width="0.1" textLength="2.7" lengthAdjust="spacingAndGlyphs" >0</text>
<text x="243.9" y="471.2" font-size="5.7" text-anchor="middle" fill="#231f20" stroke="#231f20" stroke-width="0.15">−10<tspan dy="-1.9" font-size="3.53">3</tspan></text>
<text x="254.4" y="471.2" font-size="5.7" text-anchor="middle" fill="#231f20" stroke="#231f20" stroke-width="0.15">0</text>
<text x="260.9" y="471.2" font-size="5.7" text-anchor="middle" fill="#231f20" stroke="#231f20" stroke-width="0.15">10<tspan dy="-1.9" font-size="3.53">3</tspan></text>
<text x="273.5" y="471.2" font-size="5.7" text-anchor="middle" fill="#231f20" stroke="#231f20" stroke-width="0.15">10<tspan dy="-1.9" font-size="3.53">4</tspan></text>
<text x="284.9" y="471.2" font-size="5.7" text-anchor="middle" fill="#231f20" stroke="#231f20" stroke-width="0.15">10<tspan dy="-1.9" font-size="3.53">5</tspan></text>
<text x="279.8" y="422.8" font-size="5.4" text-anchor="middle" fill="#231f20" stroke="#231f20" stroke-width="0.14" textLength="11.6" lengthAdjust="spacingAndGlyphs" >8.8%</text>
<text x="265.4" y="410.2" font-size="6.9" text-anchor="middle" fill="#231f20" stroke="#231f20" stroke-width="0.18" textLength="16.2" lengthAdjust="spacingAndGlyphs" >ZH63</text>
<path d="M37.5 523.4 L37.5 523.4 L37.9 523.4 L38.3 523.4 L38.7 523.4 L39.1 523.4 L39.5 523.4 L39.9 523.4 L40.3 523.4 L40.7 523.4 L41.1 523.4 L41.5 523.4 L41.9 523.4 L42.3 523.4 L42.7 523.4 L43.1 523.4 L43.5 523.4 L43.9 523.4 L44.3 523.4 L44.7 523.4 L45.1 523.4 L45.5 523.4 L45.9 523.4 L46.3 523.4 L46.7 523.4 L47.1 523.4 L47.5 523.39 L47.9 523.37 L48.3 523.24 L48.7 522.76 L49.1 521.32 L49.5 517.81 L49.9 511.08 L50.3 501.12 L50.7 490.33 L51.1 483.11 L51.5 483.79 L51.9 488.71 L52.3 493.96 L52.7 498.96 L53.1 503.44 L53.5 507.33 L53.9 510.62 L54.3 513.34 L54.7 515.56 L55.1 517.35 L55.5 518.77 L55.9 519.88 L56.3 520.74 L56.7 521.41 L57.1 521.92 L57.5 522.3 L57.9 522.59 L58.3 522.81 L58.7 522.97 L59.1 523.09 L59.5 523.18 L59.9 523.24 L60.3 523.29 L60.7 523.32 L61.1 523.34 L61.5 523.36 L61.9 523.37 L62.3 523.38 L62.7 523.39 L63.1 523.39 L63.5 523.39 L63.9 523.4 L64.3 523.4 L64.7 523.4 L65.1 523.39 L65.5 523.39 L65.9 523.37 L66.3 523.33 L66.7 523.26 L67.1 523.12 L67.5 522.9 L67.9 522.54 L68.3 522.04 L68.7 521.39 L69.1 520.63 L69.5 519.84 L69.9 519.15 L70.3 518.67 L70.7 518.5 L71.1 518.67 L71.5 519.15 L71.9 519.84 L72.3 520.63 L72.7 521.39 L73.1 522.04 L73.5 522.54 L73.9 522.9 L74.3 523.12 L74.7 523.26 L75.1 523.33 L75.5 523.37 L75.9 523.39 L76.3 523.4 L76.7 523.4 L77.1 523.4 L77.5 523.4 L77.9 523.4 L78.3 523.4 L78.7 523.4 L79.1 523.4 L79.5 523.4 L79.9 523.4 L80.3 523.4 L80.7 523.4 L81.1 523.4 L81.5 523.4 L81.9 523.4 L82.3 523.4 L82.7 523.4 L83.1 523.4 L83.5 523.4 L83.7 523.4 Z" fill="#39b24a" stroke="#2c9a40" stroke-width="0.35"/>
<rect x="37.5" y="478.7" width="46.2" height="44.7" fill="none" stroke="#444" stroke-width="0.55" />
<line x1="37.5" y1="478.7" x2="37.5" y2="523.4" stroke="#222" stroke-width="0.8"/>
<line x1="37.2" y1="523.4" x2="83.7" y2="523.4" stroke="#222" stroke-width="0.9"/>
<line x1="39.35" y1="523.1" x2="39.35" y2="524.9" stroke="#111" stroke-width="0.8"/>
<line x1="41.66" y1="523.1" x2="41.66" y2="524.9" stroke="#111" stroke-width="0.8"/>
<line x1="44.89" y1="523.1" x2="44.89" y2="524.9" stroke="#111" stroke-width="0.8"/>
<line x1="47.43" y1="523.1" x2="47.43" y2="524.9" stroke="#111" stroke-width="0.8"/>
<line x1="49.51" y1="523.1" x2="49.51" y2="524.9" stroke="#111" stroke-width="0.8"/>
<line x1="51.36" y1="523.1" x2="51.36" y2="524.9" stroke="#111" stroke-width="0.8"/>
<line x1="53.44" y1="523.1" x2="53.44" y2="524.9" stroke="#111" stroke-width="0.8"/>
<line x1="55.98" y1="523.1" x2="55.98" y2="524.9" stroke="#111" stroke-width="0.8"/>
<line x1="58.75" y1="523.1" x2="58.75" y2="524.9" stroke="#111" stroke-width="0.8"/>
<line x1="61.52" y1="523.1" x2="61.52" y2="524.9" stroke="#111" stroke-width="0.8"/>
<line x1="63.83" y1="523.1" x2="63.83" y2="524.9" stroke="#111" stroke-width="0.8"/>
<line x1="65.68" y1="523.1" x2="65.68" y2="524.9" stroke="#111" stroke-width="0.8"/>
<line x1="67.07" y1="523.1" x2="67.07" y2="524.9" stroke="#111" stroke-width="0.8"/>
<line x1="68.45" y1="523.1" x2="68.45" y2="524.9" stroke="#111" stroke-width="0.8"/>
<line x1="71.69" y1="523.1" x2="71.69" y2="524.9" stroke="#111" stroke-width="0.8"/>
<line x1="74" y1="523.1" x2="74" y2="524.9" stroke="#111" stroke-width="0.8"/>
<line x1="75.85" y1="523.1" x2="75.85" y2="524.9" stroke="#111" stroke-width="0.8"/>
<line x1="77.23" y1="523.1" x2="77.23" y2="524.9" stroke="#111" stroke-width="0.8"/>
<line x1="78.62" y1="523.1" x2="78.62" y2="524.9" stroke="#111" stroke-width="0.8"/>
<line x1="80.47" y1="523.1" x2="80.47" y2="524.9" stroke="#111" stroke-width="0.8"/>
<path d="M37.5 511.5 H65.8 V513.5 H83.7" fill="none" stroke="#1a1a1a" stroke-width="1"/>
<line x1="34.5" y1="485.9" x2="37.5" y2="485.9" stroke="#222" stroke-width="0.6"/>
<text x="32.9" y="487.7" font-size="5" text-anchor="end" fill="#231f20" stroke="#231f20" stroke-width="0.1" textLength="8.1" lengthAdjust="spacingAndGlyphs" >300</text>
<line x1="36" y1="488.4" x2="37.5" y2="488.4" stroke="#333" stroke-width="0.45"/>
<line x1="36" y1="490.9" x2="37.5" y2="490.9" stroke="#333" stroke-width="0.45"/>
<line x1="36" y1="493.4" x2="37.5" y2="493.4" stroke="#333" stroke-width="0.45"/>
<line x1="36" y1="495.9" x2="37.5" y2="495.9" stroke="#333" stroke-width="0.45"/>
<line x1="34.5" y1="498.4" x2="37.5" y2="498.4" stroke="#222" stroke-width="0.6"/>
<text x="32.9" y="500.2" font-size="5" text-anchor="end" fill="#231f20" stroke="#231f20" stroke-width="0.1" textLength="8.1" lengthAdjust="spacingAndGlyphs" >200</text>
<line x1="36" y1="500.9" x2="37.5" y2="500.9" stroke="#333" stroke-width="0.45"/>
<line x1="36" y1="503.4" x2="37.5" y2="503.4" stroke="#333" stroke-width="0.45"/>
<line x1="36" y1="505.9" x2="37.5" y2="505.9" stroke="#333" stroke-width="0.45"/>
<line x1="36" y1="508.4" x2="37.5" y2="508.4" stroke="#333" stroke-width="0.45"/>
<line x1="34.5" y1="510.9" x2="37.5" y2="510.9" stroke="#222" stroke-width="0.6"/>
<text x="32.9" y="512.7" font-size="5" text-anchor="end" fill="#231f20" stroke="#231f20" stroke-width="0.1" textLength="8.1" lengthAdjust="spacingAndGlyphs" >100</text>
<line x1="36" y1="513.4" x2="37.5" y2="513.4" stroke="#333" stroke-width="0.45"/>
<line x1="36" y1="515.9" x2="37.5" y2="515.9" stroke="#333" stroke-width="0.45"/>
<line x1="36" y1="518.4" x2="37.5" y2="518.4" stroke="#333" stroke-width="0.45"/>
<line x1="36" y1="520.9" x2="37.5" y2="520.9" stroke="#333" stroke-width="0.45"/>
<line x1="34.5" y1="523.4" x2="37.5" y2="523.4" stroke="#222" stroke-width="0.6"/>
<text x="32.9" y="525.2" font-size="5" text-anchor="end" fill="#231f20" stroke="#231f20" stroke-width="0.1" textLength="2.7" lengthAdjust="spacingAndGlyphs" >0</text>
<text x="39.1" y="533.6" font-size="5.7" text-anchor="middle" fill="#231f20" stroke="#231f20" stroke-width="0.15">−10<tspan dy="-1.9" font-size="3.53">3</tspan></text>
<text x="49.6" y="533.6" font-size="5.7" text-anchor="middle" fill="#231f20" stroke="#231f20" stroke-width="0.15">0</text>
<text x="56.1" y="533.6" font-size="5.7" text-anchor="middle" fill="#231f20" stroke="#231f20" stroke-width="0.15">10<tspan dy="-1.9" font-size="3.53">3</tspan></text>
<text x="68.7" y="533.6" font-size="5.7" text-anchor="middle" fill="#231f20" stroke="#231f20" stroke-width="0.15">10<tspan dy="-1.9" font-size="3.53">4</tspan></text>
<text x="80.1" y="533.6" font-size="5.7" text-anchor="middle" fill="#231f20" stroke="#231f20" stroke-width="0.15">10<tspan dy="-1.9" font-size="3.53">5</tspan></text>
<text x="70.7" y="485.6" font-size="5.4" text-anchor="middle" fill="#231f20" stroke="#231f20" stroke-width="0.14" textLength="14.5" lengthAdjust="spacingAndGlyphs" >11.3%</text>
<path d="M104.6 523.4 L104.6 523.4 L105 523.4 L105.4 523.4 L105.8 523.4 L106.2 523.4 L106.6 523.4 L107 523.4 L107.4 523.4 L107.8 523.4 L108.2 523.4 L108.6 523.4 L109 523.4 L109.4 523.4 L109.8 523.4 L110.2 523.4 L110.6 523.4 L111 523.4 L111.4 523.4 L111.8 523.4 L112.2 523.4 L112.6 523.4 L113 523.4 L113.4 523.4 L113.8 523.4 L114.2 523.38 L114.6 523.29 L115 522.94 L115.4 521.82 L115.8 518.94 L116.2 513.08 L116.6 503.78 L117 492.81 L117.4 484.24 L117.8 482.63 L118.2 486.81 L118.6 491.64 L119 496.4 L119.4 500.81 L119.8 504.75 L120.2 508.17 L120.6 511.09 L121 513.54 L121.4 515.57 L121.8 517.22 L122.2 518.56 L122.6 519.64 L123 520.49 L123.4 521.17 L123.8 521.69 L124.2 522.1 L124.6 522.42 L125 522.66 L125.4 522.85 L125.8 522.99 L126.2 523.09 L126.6 523.17 L127 523.23 L127.4 523.28 L127.8 523.31 L128.2 523.34 L128.6 523.35 L129 523.37 L129.4 523.38 L129.8 523.38 L130.2 523.39 L130.6 523.39 L131 523.39 L131.4 523.4 L131.8 523.4 L132.2 523.4 L132.6 523.39 L133 523.39 L133.4 523.38 L133.8 523.35 L134.2 523.31 L134.6 523.23 L135 523.1 L135.4 522.9 L135.8 522.63 L136.2 522.27 L136.6 521.86 L137 521.42 L137.4 521.01 L137.8 520.7 L138.2 520.52 L138.6 520.52 L139 520.7 L139.4 521.01 L139.8 521.42 L140.2 521.86 L140.6 522.27 L141 522.63 L141.4 522.9 L141.8 523.1 L142.2 523.23 L142.6 523.31 L143 523.35 L143.4 523.38 L143.8 523.39 L144.2 523.4 L144.6 523.4 L145 523.4 L145.4 523.4 L145.8 523.4 L146.2 523.4 L146.6 523.4 L147 523.4 L147.4 523.4 L147.8 523.4 L148.2 523.4 L148.6 523.4 L149 523.4 L149.4 523.4 L149.8 523.4 L150.2 523.4 L150.6 523.4 L150.7 523.4 Z" fill="#39b24a" stroke="#2c9a40" stroke-width="0.35"/>
<rect x="104.6" y="478.7" width="46.1" height="44.7" fill="none" stroke="#444" stroke-width="0.55" />
<line x1="104.6" y1="478.7" x2="104.6" y2="523.4" stroke="#222" stroke-width="0.8"/>
<line x1="104.3" y1="523.4" x2="150.7" y2="523.4" stroke="#222" stroke-width="0.9"/>
<line x1="106.44" y1="523.1" x2="106.44" y2="524.9" stroke="#111" stroke-width="0.8"/>
<line x1="108.75" y1="523.1" x2="108.75" y2="524.9" stroke="#111" stroke-width="0.8"/>
<line x1="111.98" y1="523.1" x2="111.98" y2="524.9" stroke="#111" stroke-width="0.8"/>
<line x1="114.51" y1="523.1" x2="114.51" y2="524.9" stroke="#111" stroke-width="0.8"/>
<line x1="116.59" y1="523.1" x2="116.59" y2="524.9" stroke="#111" stroke-width="0.8"/>
<line x1="118.43" y1="523.1" x2="118.43" y2="524.9" stroke="#111" stroke-width="0.8"/>
<line x1="120.5" y1="523.1" x2="120.5" y2="524.9" stroke="#111" stroke-width="0.8"/>
<line x1="123.04" y1="523.1" x2="123.04" y2="524.9" stroke="#111" stroke-width="0.8"/>
<line x1="125.81" y1="523.1" x2="125.81" y2="524.9" stroke="#111" stroke-width="0.8"/>
<line x1="128.57" y1="523.1" x2="128.57" y2="524.9" stroke="#111" stroke-width="0.8"/>
<line x1="130.88" y1="523.1" x2="130.88" y2="524.9" stroke="#111" stroke-width="0.8"/>
<line x1="132.72" y1="523.1" x2="132.72" y2="524.9" stroke="#111" stroke-width="0.8"/>
<line x1="134.1" y1="523.1" x2="134.1" y2="524.9" stroke="#111" stroke-width="0.8"/>
<line x1="135.49" y1="523.1" x2="135.49" y2="524.9" stroke="#111" stroke-width="0.8"/>
<line x1="138.71" y1="523.1" x2="138.71" y2="524.9" stroke="#111" stroke-width="0.8"/>
<line x1="141.02" y1="523.1" x2="141.02" y2="524.9" stroke="#111" stroke-width="0.8"/>
<line x1="142.86" y1="523.1" x2="142.86" y2="524.9" stroke="#111" stroke-width="0.8"/>
<line x1="144.25" y1="523.1" x2="144.25" y2="524.9" stroke="#111" stroke-width="0.8"/>
<line x1="145.63" y1="523.1" x2="145.63" y2="524.9" stroke="#111" stroke-width="0.8"/>
<line x1="147.47" y1="523.1" x2="147.47" y2="524.9" stroke="#111" stroke-width="0.8"/>
<path d="M104.6 512.5 H130.4 V515.5 H150.7" fill="none" stroke="#1a1a1a" stroke-width="1"/>
<line x1="101.6" y1="487.3" x2="104.6" y2="487.3" stroke="#222" stroke-width="0.6"/>
<text x="100" y="489.1" font-size="5" text-anchor="end" fill="#231f20" stroke="#231f20" stroke-width="0.1" textLength="8.1" lengthAdjust="spacingAndGlyphs" >300</text>
<line x1="103.1" y1="489.7" x2="104.6" y2="489.7" stroke="#333" stroke-width="0.45"/>
<line x1="103.1" y1="492.1" x2="104.6" y2="492.1" stroke="#333" stroke-width="0.45"/>
<line x1="103.1" y1="494.5" x2="104.6" y2="494.5" stroke="#333" stroke-width="0.45"/>
<line x1="103.1" y1="496.9" x2="104.6" y2="496.9" stroke="#333" stroke-width="0.45"/>
<line x1="101.6" y1="499.3" x2="104.6" y2="499.3" stroke="#222" stroke-width="0.6"/>
<text x="100" y="501.1" font-size="5" text-anchor="end" fill="#231f20" stroke="#231f20" stroke-width="0.1" textLength="8.1" lengthAdjust="spacingAndGlyphs" >200</text>
<line x1="103.1" y1="501.7" x2="104.6" y2="501.7" stroke="#333" stroke-width="0.45"/>
<line x1="103.1" y1="504.1" x2="104.6" y2="504.1" stroke="#333" stroke-width="0.45"/>
<line x1="103.1" y1="506.5" x2="104.6" y2="506.5" stroke="#333" stroke-width="0.45"/>
<line x1="103.1" y1="508.9" x2="104.6" y2="508.9" stroke="#333" stroke-width="0.45"/>
<line x1="101.6" y1="511.3" x2="104.6" y2="511.3" stroke="#222" stroke-width="0.6"/>
<text x="100" y="513.1" font-size="5" text-anchor="end" fill="#231f20" stroke="#231f20" stroke-width="0.1" textLength="8.1" lengthAdjust="spacingAndGlyphs" >100</text>
<line x1="103.1" y1="513.72" x2="104.6" y2="513.72" stroke="#333" stroke-width="0.45"/>
<line x1="103.1" y1="516.14" x2="104.6" y2="516.14" stroke="#333" stroke-width="0.45"/>
<line x1="103.1" y1="518.56" x2="104.6" y2="518.56" stroke="#333" stroke-width="0.45"/>
<line x1="103.1" y1="520.98" x2="104.6" y2="520.98" stroke="#333" stroke-width="0.45"/>
<line x1="101.6" y1="523.4" x2="104.6" y2="523.4" stroke="#222" stroke-width="0.6"/>
<text x="100" y="525.2" font-size="5" text-anchor="end" fill="#231f20" stroke="#231f20" stroke-width="0.1" textLength="2.7" lengthAdjust="spacingAndGlyphs" >0</text>
<text x="106.2" y="533.6" font-size="5.7" text-anchor="middle" fill="#231f20" stroke="#231f20" stroke-width="0.15">−10<tspan dy="-1.9" font-size="3.53">3</tspan></text>
<text x="116.7" y="533.6" font-size="5.7" text-anchor="middle" fill="#231f20" stroke="#231f20" stroke-width="0.15">0</text>
<text x="123.2" y="533.6" font-size="5.7" text-anchor="middle" fill="#231f20" stroke="#231f20" stroke-width="0.15">10<tspan dy="-1.9" font-size="3.53">3</tspan></text>
<text x="135.8" y="533.6" font-size="5.7" text-anchor="middle" fill="#231f20" stroke="#231f20" stroke-width="0.15">10<tspan dy="-1.9" font-size="3.53">4</tspan></text>
<text x="147.2" y="533.6" font-size="5.7" text-anchor="middle" fill="#231f20" stroke="#231f20" stroke-width="0.15">10<tspan dy="-1.9" font-size="3.53">5</tspan></text>
<text x="138.4" y="485.6" font-size="5.4" text-anchor="middle" fill="#231f20" stroke="#231f20" stroke-width="0.14" textLength="14.5" lengthAdjust="spacingAndGlyphs" >11.0%</text>
<path d="M172.5 523.4 L172.5 523.4 L172.9 523.4 L173.3 523.4 L173.7 523.4 L174.1 523.4 L174.5 523.4 L174.9 523.4 L175.3 523.4 L175.7 523.4 L176.1 523.4 L176.5 523.4 L176.9 523.4 L177.3 523.4 L177.7 523.4 L178.1 523.4 L178.5 523.4 L178.9 523.4 L179.3 523.4 L179.7 523.4 L180.1 523.4 L180.5 523.4 L180.9 523.4 L181.3 523.4 L181.7 523.4 L182.1 523.4 L182.5 523.39 L182.9 523.3 L183.3 522.86 L183.7 521.17 L184.1 516.43 L184.5 507.04 L184.9 494.5 L185.3 484.99 L185.7 483.71 L186.1 484.61 L186.5 486.33 L186.9 488.78 L187.3 491.79 L187.7 495.18 L188.1 498.77 L188.5 502.38 L188.9 505.84 L189.3 509.03 L189.7 511.87 L190.1 514.29 L190.5 516.27 L190.9 517.84 L191.3 519 L191.7 519.82 L192.1 520.34 L192.5 520.63 L192.9 520.74 L193.3 520.73 L193.7 520.65 L194.1 520.56 L194.5 520.48 L194.9 520.44 L195.3 520.45 L195.7 520.53 L196.1 520.66 L196.5 520.82 L196.9 521.02 L197.3 521.21 L197.7 521.41 L198.1 521.58 L198.5 521.72 L198.9 521.84 L199.3 521.93 L199.7 522.01 L200.1 522.07 L200.5 522.14 L200.9 522.21 L201.3 522.29 L201.7 522.37 L202.1 522.47 L202.5 522.55 L202.9 522.61 L203.3 522.61 L203.7 522.49 L204.1 522.18 L204.5 521.6 L204.9 520.68 L205.3 519.37 L205.7 517.74 L206.1 515.95 L206.5 514.27 L206.9 512.99 L207.3 512.4 L207.7 512.62 L208.1 513.6 L208.5 515.14 L208.9 516.95 L209.3 518.74 L209.7 520.27 L210.1 521.46 L210.5 522.28 L210.9 522.8 L211.3 523.1 L211.7 523.26 L212.1 523.34 L212.5 523.38 L212.9 523.39 L213.3 523.4 L213.7 523.4 L214.1 523.4 L214.5 523.4 L214.9 523.4 L215.3 523.4 L215.7 523.4 L216.1 523.4 L216.5 523.4 L216.9 523.4 L217.3 523.4 L217.7 523.4 L218.1 523.4 L218.5 523.4 L218.6 523.4 Z" fill="#39b24a" stroke="#2c9a40" stroke-width="0.35"/>
<rect x="172.5" y="478.7" width="46.1" height="44.7" fill="none" stroke="#444" stroke-width="0.55" />
<line x1="172.5" y1="478.7" x2="172.5" y2="523.4" stroke="#222" stroke-width="0.8"/>
<line x1="172.2" y1="523.4" x2="218.6" y2="523.4" stroke="#222" stroke-width="0.9"/>
<line x1="174.34" y1="523.1" x2="174.34" y2="524.9" stroke="#111" stroke-width="0.8"/>
<line x1="176.65" y1="523.1" x2="176.65" y2="524.9" stroke="#111" stroke-width="0.8"/>
<line x1="179.88" y1="523.1" x2="179.88" y2="524.9" stroke="#111" stroke-width="0.8"/>
<line x1="182.41" y1="523.1" x2="182.41" y2="524.9" stroke="#111" stroke-width="0.8"/>
<line x1="184.49" y1="523.1" x2="184.49" y2="524.9" stroke="#111" stroke-width="0.8"/>
<line x1="186.33" y1="523.1" x2="186.33" y2="524.9" stroke="#111" stroke-width="0.8"/>
<line x1="188.4" y1="523.1" x2="188.4" y2="524.9" stroke="#111" stroke-width="0.8"/>
<line x1="190.94" y1="523.1" x2="190.94" y2="524.9" stroke="#111" stroke-width="0.8"/>
<line x1="193.71" y1="523.1" x2="193.71" y2="524.9" stroke="#111" stroke-width="0.8"/>
<line x1="196.47" y1="523.1" x2="196.47" y2="524.9" stroke="#111" stroke-width="0.8"/>
<line x1="198.78" y1="523.1" x2="198.78" y2="524.9" stroke="#111" stroke-width="0.8"/>
<line x1="200.62" y1="523.1" x2="200.62" y2="524.9" stroke="#111" stroke-width="0.8"/>
<line x1="202" y1="523.1" x2="202" y2="524.9" stroke="#111" stroke-width="0.8"/>
<line x1="203.39" y1="523.1" x2="203.39" y2="524.9" stroke="#111" stroke-width="0.8"/>
<line x1="206.61" y1="523.1" x2="206.61" y2="524.9" stroke="#111" stroke-width="0.8"/>
<line x1="208.92" y1="523.1" x2="208.92" y2="524.9" stroke="#111" stroke-width="0.8"/>
<line x1="210.76" y1="523.1" x2="210.76" y2="524.9" stroke="#111" stroke-width="0.8"/>
<line x1="212.15" y1="523.1" x2="212.15" y2="524.9" stroke="#111" stroke-width="0.8"/>
<line x1="213.53" y1="523.1" x2="213.53" y2="524.9" stroke="#111" stroke-width="0.8"/>
<line x1="215.37" y1="523.1" x2="215.37" y2="524.9" stroke="#111" stroke-width="0.8"/>
<path d="M172.5 509.5 H202.8 V512.5 H218.6" fill="none" stroke="#1a1a1a" stroke-width="1"/>
<line x1="169.5" y1="479.5" x2="172.5" y2="479.5" stroke="#222" stroke-width="0.6"/>
<text x="167.9" y="481.3" font-size="5" text-anchor="end" fill="#231f20" stroke="#231f20" stroke-width="0.1" textLength="5.4" lengthAdjust="spacingAndGlyphs" >80</text>
<line x1="171" y1="481.7" x2="172.5" y2="481.7" stroke="#333" stroke-width="0.45"/>
<line x1="171" y1="483.9" x2="172.5" y2="483.9" stroke="#333" stroke-width="0.45"/>
<line x1="171" y1="486.1" x2="172.5" y2="486.1" stroke="#333" stroke-width="0.45"/>
<line x1="171" y1="488.3" x2="172.5" y2="488.3" stroke="#333" stroke-width="0.45"/>
<line x1="169.5" y1="490.5" x2="172.5" y2="490.5" stroke="#222" stroke-width="0.6"/>
<text x="167.9" y="492.3" font-size="5" text-anchor="end" fill="#231f20" stroke="#231f20" stroke-width="0.1" textLength="5.4" lengthAdjust="spacingAndGlyphs" >60</text>
<line x1="171" y1="492.7" x2="172.5" y2="492.7" stroke="#333" stroke-width="0.45"/>
<line x1="171" y1="494.9" x2="172.5" y2="494.9" stroke="#333" stroke-width="0.45"/>
<line x1="171" y1="497.1" x2="172.5" y2="497.1" stroke="#333" stroke-width="0.45"/>
<line x1="171" y1="499.3" x2="172.5" y2="499.3" stroke="#333" stroke-width="0.45"/>
<line x1="169.5" y1="501.5" x2="172.5" y2="501.5" stroke="#222" stroke-width="0.6"/>
<text x="167.9" y="503.3" font-size="5" text-anchor="end" fill="#231f20" stroke="#231f20" stroke-width="0.1" textLength="5.4" lengthAdjust="spacingAndGlyphs" >40</text>
<line x1="171" y1="503.7" x2="172.5" y2="503.7" stroke="#333" stroke-width="0.45"/>
<line x1="171" y1="505.9" x2="172.5" y2="505.9" stroke="#333" stroke-width="0.45"/>
<line x1="171" y1="508.1" x2="172.5" y2="508.1" stroke="#333" stroke-width="0.45"/>
<line x1="171" y1="510.3" x2="172.5" y2="510.3" stroke="#333" stroke-width="0.45"/>
<line x1="169.5" y1="512.5" x2="172.5" y2="512.5" stroke="#222" stroke-width="0.6"/>
<text x="167.9" y="514.3" font-size="5" text-anchor="end" fill="#231f20" stroke="#231f20" stroke-width="0.1" textLength="5.4" lengthAdjust="spacingAndGlyphs" >20</text>
<line x1="171" y1="514.68" x2="172.5" y2="514.68" stroke="#333" stroke-width="0.45"/>
<line x1="171" y1="516.86" x2="172.5" y2="516.86" stroke="#333" stroke-width="0.45"/>
<line x1="171" y1="519.04" x2="172.5" y2="519.04" stroke="#333" stroke-width="0.45"/>
<line x1="171" y1="521.22" x2="172.5" y2="521.22" stroke="#333" stroke-width="0.45"/>
<line x1="169.5" y1="523.4" x2="172.5" y2="523.4" stroke="#222" stroke-width="0.6"/>
<text x="167.9" y="525.2" font-size="5" text-anchor="end" fill="#231f20" stroke="#231f20" stroke-width="0.1" textLength="2.7" lengthAdjust="spacingAndGlyphs" >0</text>
<text x="174.1" y="533.6" font-size="5.7" text-anchor="middle" fill="#231f20" stroke="#231f20" stroke-width="0.15">−10<tspan dy="-1.9" font-size="3.53">3</tspan></text>
<text x="184.6" y="533.6" font-size="5.7" text-anchor="middle" fill="#231f20" stroke="#231f20" stroke-width="0.15">0</text>
<text x="191.1" y="533.6" font-size="5.7" text-anchor="middle" fill="#231f20" stroke="#231f20" stroke-width="0.15">10<tspan dy="-1.9" font-size="3.53">3</tspan></text>
<text x="203.7" y="533.6" font-size="5.7" text-anchor="middle" fill="#231f20" stroke="#231f20" stroke-width="0.15">10<tspan dy="-1.9" font-size="3.53">4</tspan></text>
<text x="215.1" y="533.6" font-size="5.7" text-anchor="middle" fill="#231f20" stroke="#231f20" stroke-width="0.15">10<tspan dy="-1.9" font-size="3.53">5</tspan></text>
<text x="209.1" y="485.6" font-size="5.4" text-anchor="middle" fill="#231f20" stroke="#231f20" stroke-width="0.14" textLength="14.5" lengthAdjust="spacingAndGlyphs" >17.9%</text>
<path d="M242.3 523.4 L242.3 523.4 L242.7 523.4 L243.1 523.4 L243.5 523.4 L243.9 523.4 L244.3 523.4 L244.7 523.4 L245.1 523.4 L245.5 523.4 L245.9 523.4 L246.3 523.4 L246.7 523.4 L247.1 523.4 L247.5 523.4 L247.9 523.4 L248.3 523.4 L248.7 523.4 L249.1 523.4 L249.5 523.4 L249.9 523.4 L250.3 523.4 L250.7 523.4 L251.1 523.4 L251.5 523.4 L251.9 523.39 L252.3 523.25 L252.7 521.46 L253.1 511.95 L253.5 492.65 L253.9 487.14 L254.3 499.3 L254.7 509.27 L255.1 515.75 L255.5 519.5 L255.9 521.5 L256.3 522.52 L256.7 523.01 L257.1 523.23 L257.5 523.33 L257.9 523.37 L258.3 523.39 L258.7 523.4 L259.1 523.4 L259.5 523.4 L259.9 523.4 L260.3 523.4 L260.7 523.4 L261.1 523.4 L261.5 523.4 L261.9 523.4 L262.3 523.4 L262.7 523.4 L263.1 523.4 L263.5 523.4 L263.9 523.4 L264.3 523.4 L264.7 523.4 L265.1 523.4 L265.5 523.4 L265.9 523.4 L266.3 523.4 L266.7 523.4 L267.1 523.4 L267.5 523.4 L267.9 523.4 L268.3 523.4 L268.7 523.4 L269.1 523.4 L269.5 523.4 L269.9 523.4 L270.3 523.4 L270.7 523.4 L271.1 523.4 L271.5 523.39 L271.9 523.38 L272.3 523.36 L272.7 523.31 L273.1 523.22 L273.5 523.06 L273.9 522.8 L274.3 522.42 L274.7 521.9 L275.1 521.26 L275.5 520.55 L275.9 519.88 L276.3 519.34 L276.7 519.04 L277.1 519.04 L277.5 519.34 L277.9 519.88 L278.3 520.55 L278.7 521.26 L279.1 521.9 L279.5 522.42 L279.9 522.8 L280.3 523.06 L280.7 523.22 L281.1 523.31 L281.5 523.36 L281.9 523.38 L282.3 523.39 L282.7 523.4 L283.1 523.4 L283.5 523.4 L283.9 523.4 L284.3 523.4 L284.7 523.4 L285.1 523.4 L285.5 523.4 L285.9 523.4 L286.3 523.4 L286.7 523.4 L287.1 523.4 L287.5 523.4 L287.9 523.4 L288.3 523.4 L288.4 523.4 Z" fill="#39b24a" stroke="#2c9a40" stroke-width="0.35"/>
<rect x="242.3" y="478.7" width="46.1" height="44.7" fill="none" stroke="#444" stroke-width="0.55" />
<line x1="242.3" y1="478.7" x2="242.3" y2="523.4" stroke="#222" stroke-width="0.8"/>
<line x1="242" y1="523.4" x2="288.4" y2="523.4" stroke="#222" stroke-width="0.9"/>
<line x1="244.14" y1="523.1" x2="244.14" y2="524.9" stroke="#111" stroke-width="0.8"/>
<line x1="246.45" y1="523.1" x2="246.45" y2="524.9" stroke="#111" stroke-width="0.8"/>
<line x1="249.68" y1="523.1" x2="249.68" y2="524.9" stroke="#111" stroke-width="0.8"/>
<line x1="252.21" y1="523.1" x2="252.21" y2="524.9" stroke="#111" stroke-width="0.8"/>
<line x1="254.29" y1="523.1" x2="254.29" y2="524.9" stroke="#111" stroke-width="0.8"/>
<line x1="256.13" y1="523.1" x2="256.13" y2="524.9" stroke="#111" stroke-width="0.8"/>
<line x1="258.2" y1="523.1" x2="258.2" y2="524.9" stroke="#111" stroke-width="0.8"/>
<line x1="260.74" y1="523.1" x2="260.74" y2="524.9" stroke="#111" stroke-width="0.8"/>
<line x1="263.51" y1="523.1" x2="263.51" y2="524.9" stroke="#111" stroke-width="0.8"/>
<line x1="266.27" y1="523.1" x2="266.27" y2="524.9" stroke="#111" stroke-width="0.8"/>
<line x1="268.58" y1="523.1" x2="268.58" y2="524.9" stroke="#111" stroke-width="0.8"/>
<line x1="270.42" y1="523.1" x2="270.42" y2="524.9" stroke="#111" stroke-width="0.8"/>
<line x1="271.8" y1="523.1" x2="271.8" y2="524.9" stroke="#111" stroke-width="0.8"/>
<line x1="273.19" y1="523.1" x2="273.19" y2="524.9" stroke="#111" stroke-width="0.8"/>
<line x1="276.41" y1="523.1" x2="276.41" y2="524.9" stroke="#111" stroke-width="0.8"/>
<line x1="278.72" y1="523.1" x2="278.72" y2="524.9" stroke="#111" stroke-width="0.8"/>
<line x1="280.56" y1="523.1" x2="280.56" y2="524.9" stroke="#111" stroke-width="0.8"/>
<line x1="281.95" y1="523.1" x2="281.95" y2="524.9" stroke="#111" stroke-width="0.8"/>
<line x1="283.33" y1="523.1" x2="283.33" y2="524.9" stroke="#111" stroke-width="0.8"/>
<line x1="285.17" y1="523.1" x2="285.17" y2="524.9" stroke="#111" stroke-width="0.8"/>
<path d="M242.3 510.5 H272.6 V513.5 H288.4" fill="none" stroke="#1a1a1a" stroke-width="1"/>
<line x1="239.3" y1="478.7" x2="242.3" y2="478.7" stroke="#222" stroke-width="0.6"/>
<text x="237.7" y="480.5" font-size="5" text-anchor="end" fill="#231f20" stroke="#231f20" stroke-width="0.1" textLength="8.1" lengthAdjust="spacingAndGlyphs" >250</text>
<line x1="240.8" y1="480.48" x2="242.3" y2="480.48" stroke="#333" stroke-width="0.45"/>
<line x1="240.8" y1="482.26" x2="242.3" y2="482.26" stroke="#333" stroke-width="0.45"/>
<line x1="240.8" y1="484.04" x2="242.3" y2="484.04" stroke="#333" stroke-width="0.45"/>
<line x1="240.8" y1="485.82" x2="242.3" y2="485.82" stroke="#333" stroke-width="0.45"/>
<line x1="239.3" y1="487.6" x2="242.3" y2="487.6" stroke="#222" stroke-width="0.6"/>
<text x="237.7" y="489.4" font-size="5" text-anchor="end" fill="#231f20" stroke="#231f20" stroke-width="0.1" textLength="8.1" lengthAdjust="spacingAndGlyphs" >200</text>
<line x1="240.8" y1="489.4" x2="242.3" y2="489.4" stroke="#333" stroke-width="0.45"/>
<line x1="240.8" y1="491.2" x2="242.3" y2="491.2" stroke="#333" stroke-width="0.45"/>
<line x1="240.8" y1="493" x2="242.3" y2="493" stroke="#333" stroke-width="0.45"/>
<line x1="240.8" y1="494.8" x2="242.3" y2="494.8" stroke="#333" stroke-width="0.45"/>
<line x1="239.3" y1="496.6" x2="242.3" y2="496.6" stroke="#222" stroke-width="0.6"/>
<text x="237.7" y="498.4" font-size="5" text-anchor="end" fill="#231f20" stroke="#231f20" stroke-width="0.1" textLength="8.1" lengthAdjust="spacingAndGlyphs" >150</text>
<line x1="240.8" y1="498.38" x2="242.3" y2="498.38" stroke="#333" stroke-width="0.45"/>
<line x1="240.8" y1="500.16" x2="242.3" y2="500.16" stroke="#333" stroke-width="0.45"/>
<line x1="240.8" y1="501.94" x2="242.3" y2="501.94" stroke="#333" stroke-width="0.45"/>
<line x1="240.8" y1="503.72" x2="242.3" y2="503.72" stroke="#333" stroke-width="0.45"/>
<line x1="239.3" y1="505.5" x2="242.3" y2="505.5" stroke="#222" stroke-width="0.6"/>
<text x="237.7" y="507.3" font-size="5" text-anchor="end" fill="#231f20" stroke="#231f20" stroke-width="0.1" textLength="8.1" lengthAdjust="spacingAndGlyphs" >100</text>
<line x1="240.8" y1="507.3" x2="242.3" y2="507.3" stroke="#333" stroke-width="0.45"/>
<line x1="240.8" y1="509.1" x2="242.3" y2="509.1" stroke="#333" stroke-width="0.45"/>
<line x1="240.8" y1="510.9" x2="242.3" y2="510.9" stroke="#333" stroke-width="0.45"/>
<line x1="240.8" y1="512.7" x2="242.3" y2="512.7" stroke="#333" stroke-width="0.45"/>
<line x1="239.3" y1="514.5" x2="242.3" y2="514.5" stroke="#222" stroke-width="0.6"/>
<text x="237.7" y="516.3" font-size="5" text-anchor="end" fill="#231f20" stroke="#231f20" stroke-width="0.1" textLength="5.4" lengthAdjust="spacingAndGlyphs" >50</text>
<line x1="240.8" y1="516.28" x2="242.3" y2="516.28" stroke="#333" stroke-width="0.45"/>
<line x1="240.8" y1="518.06" x2="242.3" y2="518.06" stroke="#333" stroke-width="0.45"/>
<line x1="240.8" y1="519.84" x2="242.3" y2="519.84" stroke="#333" stroke-width="0.45"/>
<line x1="240.8" y1="521.62" x2="242.3" y2="521.62" stroke="#333" stroke-width="0.45"/>
<line x1="239.3" y1="523.4" x2="242.3" y2="523.4" stroke="#222" stroke-width="0.6"/>
<text x="237.7" y="525.2" font-size="5" text-anchor="end" fill="#231f20" stroke="#231f20" stroke-width="0.1" textLength="2.7" lengthAdjust="spacingAndGlyphs" >0</text>
<text x="243.9" y="533.6" font-size="5.7" text-anchor="middle" fill="#231f20" stroke="#231f20" stroke-width="0.15">−10<tspan dy="-1.9" font-size="3.53">3</tspan></text>
<text x="254.4" y="533.6" font-size="5.7" text-anchor="middle" fill="#231f20" stroke="#231f20" stroke-width="0.15">0</text>
<text x="260.9" y="533.6" font-size="5.7" text-anchor="middle" fill="#231f20" stroke="#231f20" stroke-width="0.15">10<tspan dy="-1.9" font-size="3.53">3</tspan></text>
<text x="273.5" y="533.6" font-size="5.7" text-anchor="middle" fill="#231f20" stroke="#231f20" stroke-width="0.15">10<tspan dy="-1.9" font-size="3.53">4</tspan></text>
<text x="284.9" y="533.6" font-size="5.7" text-anchor="middle" fill="#231f20" stroke="#231f20" stroke-width="0.15">10<tspan dy="-1.9" font-size="3.53">5</tspan></text>
<text x="278.9" y="485.6" font-size="5.4" text-anchor="middle" fill="#231f20" stroke="#231f20" stroke-width="0.14" textLength="14.5" lengthAdjust="spacingAndGlyphs" >19.6%</text>
<text x="18.3" y="439.3" font-size="7" text-anchor="middle" fill="#505050" stroke="#505050" stroke-width="0.1" textLength="35.8" lengthAdjust="spacingAndGlyphs" transform="rotate(-90 18.3 439.3)" >Unstimulated</text>
<text x="18.3" y="501.4" font-size="7" text-anchor="middle" fill="#505050" stroke="#505050" stroke-width="0.1" textLength="24.2" lengthAdjust="spacingAndGlyphs" transform="rotate(-90 18.3 501.4)" >Activated</text>
<text x="6.9" y="516" font-size="7.6" text-anchor="middle" fill="#231f20" stroke="#231f20" stroke-width="0.12" textLength="19.5" lengthAdjust="spacingAndGlyphs" transform="rotate(-90 6.9 516)" >Counts</text>
<line x1="4.6" y1="502.5" x2="4.6" y2="419" stroke="#231f20" stroke-width="0.9"/>
<path d="M4.6 414 L6.9 419.6 L2.3 419.6 Z" fill="#231f20"/>
<text x="52.9" y="543" font-size="7.6" text-anchor="middle" fill="#231f20" stroke="#231f20" stroke-width="0.12" textLength="51.8" lengthAdjust="spacingAndGlyphs" >Caspase-1 FITC</text>
<line x1="81.5" y1="540.2" x2="268" y2="540.2" stroke="#231f20" stroke-width="0.9"/>
<path d="M271.6 540.2 L266.2 537.9 L266.2 542.5 Z" fill="#231f20"/>
<line x1="369.8" y1="445" x2="369.8" y2="521.5" stroke="#3c3c3c" stroke-width="0.9" stroke-dasharray="2 1.4"/>
<circle cx="343.3" cy="508.6" r="1.5" fill="#a8112c"/>
<circle cx="345.7" cy="508.7" r="1.5" fill="#a8112c"/>
<circle cx="344.5" cy="511" r="1.5" fill="#a8112c"/>
<line x1="338.6" y1="509.5" x2="350.4" y2="509.5" stroke="#231f20" stroke-width="1"/>
<circle cx="357.5" cy="505" r="1.5" fill="#a8112c"/>
<circle cx="357.5" cy="510.3" r="1.5" fill="#a8112c"/>
<circle cx="357.5" cy="513" r="1.5" fill="#a8112c"/>
<line x1="351.6" y1="509.2" x2="363.4" y2="509.2" stroke="#231f20" stroke-width="1"/>
<line x1="357.5" y1="506.7" x2="357.5" y2="511.7" stroke="#231f20" stroke-width="0.8"/>
<line x1="355.1" y1="506.7" x2="359.9" y2="506.7" stroke="#231f20" stroke-width="0.8"/>
<line x1="355.1" y1="511.7" x2="359.9" y2="511.7" stroke="#231f20" stroke-width="0.8"/>
<circle cx="381.6" cy="504.5" r="1.5" fill="#16406c"/>
<circle cx="382.8" cy="504.7" r="1.5" fill="#16406c"/>
<circle cx="382.2" cy="505.2" r="1.5" fill="#16406c"/>
<line x1="376.3" y1="504.6" x2="388.1" y2="504.6" stroke="#231f20" stroke-width="1"/>
<circle cx="395" cy="505.2" r="1.5" fill="#16406c"/>
<circle cx="396.2" cy="505.4" r="1.5" fill="#16406c"/>
<circle cx="395.6" cy="506" r="1.5" fill="#16406c"/>
<line x1="389.7" y1="505.4" x2="401.5" y2="505.4" stroke="#231f20" stroke-width="1"/>
<line x1="332.2" y1="445" x2="332.2" y2="522.1" stroke="#231f20" stroke-width="1.25"/>
<line x1="331.6" y1="521.5" x2="403.5" y2="521.5" stroke="#231f20" stroke-width="1.25"/>
<line x1="328.8" y1="447" x2="332.2" y2="447" stroke="#231f20" stroke-width="1"/>
<text x="326.4" y="449.95" font-size="8.3" text-anchor="end" fill="#231f20" stroke="#231f20" stroke-width="0.12" textLength="8.7" lengthAdjust="spacingAndGlyphs" >40</text>
<line x1="328.8" y1="465.6" x2="332.2" y2="465.6" stroke="#231f20" stroke-width="1"/>
<text x="326.4" y="468.55" font-size="8.3" text-anchor="end" fill="#231f20" stroke="#231f20" stroke-width="0.12" textLength="8.7" lengthAdjust="spacingAndGlyphs" >30</text>
<line x1="328.8" y1="484.3" x2="332.2" y2="484.3" stroke="#231f20" stroke-width="1"/>
<text x="326.4" y="487.25" font-size="8.3" text-anchor="end" fill="#231f20" stroke="#231f20" stroke-width="0.12" textLength="8.7" lengthAdjust="spacingAndGlyphs" >20</text>
<line x1="328.8" y1="502.9" x2="332.2" y2="502.9" stroke="#231f20" stroke-width="1"/>
<text x="326.4" y="505.85" font-size="8.3" text-anchor="end" fill="#231f20" stroke="#231f20" stroke-width="0.12" textLength="8.7" lengthAdjust="spacingAndGlyphs" >10</text>
<line x1="328.8" y1="521.5" x2="332.2" y2="521.5" stroke="#231f20" stroke-width="1"/>
<text x="326.4" y="524.45" font-size="8.3" text-anchor="end" fill="#231f20" stroke="#231f20" stroke-width="0.12" textLength="4.35" lengthAdjust="spacingAndGlyphs" >0</text>
<line x1="344.5" y1="521.5" x2="344.5" y2="524.8" stroke="#231f20" stroke-width="1"/>
<text x="346.8" y="531.9" font-size="8.3" text-anchor="end" fill="#231f20" stroke="#231f20" stroke-width="0.22" textLength="16.8" lengthAdjust="spacingAndGlyphs" transform="rotate(-44 346.8 531.9)" >ZL38</text>
<line x1="357.5" y1="521.5" x2="357.5" y2="524.8" stroke="#231f20" stroke-width="1"/>
<text x="359.8" y="531.9" font-size="8.3" text-anchor="end" fill="#231f20" stroke="#231f20" stroke-width="0.22" textLength="16.8" lengthAdjust="spacingAndGlyphs" transform="rotate(-44 359.8 531.9)" >ZL33</text>
<line x1="382.2" y1="521.5" x2="382.2" y2="524.8" stroke="#231f20" stroke-width="1"/>
<text x="384.5" y="531.9" font-size="8.3" text-anchor="end" fill="#231f20" stroke="#231f20" stroke-width="0.22" textLength="16.8" lengthAdjust="spacingAndGlyphs" transform="rotate(-44 384.5 531.9)" >ZL26</text>
<line x1="395.6" y1="521.5" x2="395.6" y2="524.8" stroke="#231f20" stroke-width="1"/>
<text x="397.9" y="531.9" font-size="8.3" text-anchor="end" fill="#231f20" stroke="#231f20" stroke-width="0.22" textLength="16.8" lengthAdjust="spacingAndGlyphs" transform="rotate(-44 397.9 531.9)" >ZH63</text>
<text x="369.8" y="424.06" font-size="9.6" text-anchor="middle" fill="#231f20" stroke="#231f20" stroke-width="0.12" textLength="58" lengthAdjust="spacingAndGlyphs" >Unstimulated</text>
<text x="369.8" y="435.26" font-size="9.6" text-anchor="middle" fill="#231f20" stroke="#231f20" stroke-width="0.12" textLength="54" lengthAdjust="spacingAndGlyphs" >macrophage</text>
<text x="350.5" y="453.04" font-size="7.9" text-anchor="middle" fill="#231f20" stroke="#231f20" stroke-width="0.12" textLength="25" lengthAdjust="spacingAndGlyphs" >Control</text>
<text x="386.7" y="453.04" font-size="7.9" text-anchor="middle" fill="#231f20" stroke="#231f20" stroke-width="0.12" textLength="10.6" lengthAdjust="spacingAndGlyphs" >CH</text>
<text x="369.3" y="464.52" font-size="8.4" text-anchor="middle" fill="#231f20" stroke="#231f20" stroke-width="0.12" font-style="italic" textLength="32.8" lengthAdjust="spacingAndGlyphs" >p=0.1025</text>
<line x1="351.8" y1="468.5" x2="388.9" y2="468.5" stroke="#5a5a5a" stroke-width="1.4"/>
<text x="311.9" y="483" font-size="8.4" text-anchor="middle" fill="#231f20" stroke="#231f20" stroke-width="0.12" textLength="75.4" lengthAdjust="spacingAndGlyphs" transform="rotate(-90 311.9 483)" >Active caspase-1+ (%)</text>
<line x1="486.6" y1="445" x2="486.6" y2="521.5" stroke="#3c3c3c" stroke-width="0.9" stroke-dasharray="2 1.4"/>
<circle cx="459.9" cy="499.3" r="1.5" fill="#a8112c"/>
<circle cx="462.9" cy="499.8" r="1.5" fill="#a8112c"/>
<circle cx="461.4" cy="500.8" r="1.5" fill="#a8112c"/>
<line x1="455.5" y1="499.9" x2="467.3" y2="499.9" stroke="#231f20" stroke-width="1"/>
<circle cx="473.5" cy="501.8" r="1.5" fill="#a8112c"/>
<circle cx="475.5" cy="502" r="1.5" fill="#a8112c"/>
<circle cx="474.5" cy="502.4" r="1.5" fill="#a8112c"/>
<line x1="468.6" y1="502" x2="480.4" y2="502" stroke="#231f20" stroke-width="1"/>
<circle cx="499.3" cy="474.5" r="1.5" fill="#16406c"/>
<circle cx="499.3" cy="484" r="1.5" fill="#16406c"/>
<circle cx="499.3" cy="487.2" r="1.5" fill="#16406c"/>
<line x1="493.4" y1="482.6" x2="505.2" y2="482.6" stroke="#231f20" stroke-width="1"/>
<line x1="499.3" y1="478.9" x2="499.3" y2="486.3" stroke="#231f20" stroke-width="0.8"/>
<line x1="496.9" y1="478.9" x2="501.7" y2="478.9" stroke="#231f20" stroke-width="0.8"/>
<line x1="496.9" y1="486.3" x2="501.7" y2="486.3" stroke="#231f20" stroke-width="0.8"/>
<circle cx="512.2" cy="480.4" r="1.5" fill="#16406c"/>
<circle cx="512.2" cy="484.5" r="1.5" fill="#16406c"/>
<circle cx="512.2" cy="486.2" r="1.5" fill="#16406c"/>
<line x1="506.3" y1="484" x2="518.1" y2="484" stroke="#231f20" stroke-width="1"/>
<line x1="512.2" y1="482.15" x2="512.2" y2="485.85" stroke="#231f20" stroke-width="0.8"/>
<line x1="509.8" y1="482.15" x2="514.6" y2="482.15" stroke="#231f20" stroke-width="0.8"/>
<line x1="509.8" y1="485.85" x2="514.6" y2="485.85" stroke="#231f20" stroke-width="0.8"/>
<line x1="449.7" y1="445" x2="449.7" y2="522.1" stroke="#231f20" stroke-width="1.25"/>
<line x1="449.1" y1="521.5" x2="519.5" y2="521.5" stroke="#231f20" stroke-width="1.25"/>
<line x1="446.3" y1="447" x2="449.7" y2="447" stroke="#231f20" stroke-width="1"/>
<text x="443.9" y="449.95" font-size="8.3" text-anchor="end" fill="#231f20" stroke="#231f20" stroke-width="0.12" textLength="8.7" lengthAdjust="spacingAndGlyphs" >40</text>
<line x1="446.3" y1="465.6" x2="449.7" y2="465.6" stroke="#231f20" stroke-width="1"/>
<text x="443.9" y="468.55" font-size="8.3" text-anchor="end" fill="#231f20" stroke="#231f20" stroke-width="0.12" textLength="8.7" lengthAdjust="spacingAndGlyphs" >30</text>
<line x1="446.3" y1="484.3" x2="449.7" y2="484.3" stroke="#231f20" stroke-width="1"/>
<text x="443.9" y="487.25" font-size="8.3" text-anchor="end" fill="#231f20" stroke="#231f20" stroke-width="0.12" textLength="8.7" lengthAdjust="spacingAndGlyphs" >20</text>
<line x1="446.3" y1="502.9" x2="449.7" y2="502.9" stroke="#231f20" stroke-width="1"/>
<text x="443.9" y="505.85" font-size="8.3" text-anchor="end" fill="#231f20" stroke="#231f20" stroke-width="0.12" textLength="8.7" lengthAdjust="spacingAndGlyphs" >10</text>
<line x1="446.3" y1="521.5" x2="449.7" y2="521.5" stroke="#231f20" stroke-width="1"/>
<text x="443.9" y="524.45" font-size="8.3" text-anchor="end" fill="#231f20" stroke="#231f20" stroke-width="0.12" textLength="4.35" lengthAdjust="spacingAndGlyphs" >0</text>
<line x1="461.4" y1="521.5" x2="461.4" y2="524.8" stroke="#231f20" stroke-width="1"/>
<text x="463.7" y="531.9" font-size="8.3" text-anchor="end" fill="#231f20" stroke="#231f20" stroke-width="0.22" textLength="16.8" lengthAdjust="spacingAndGlyphs" transform="rotate(-44 463.7 531.9)" >ZL38</text>
<line x1="474.5" y1="521.5" x2="474.5" y2="524.8" stroke="#231f20" stroke-width="1"/>
<text x="476.8" y="531.9" font-size="8.3" text-anchor="end" fill="#231f20" stroke="#231f20" stroke-width="0.22" textLength="16.8" lengthAdjust="spacingAndGlyphs" transform="rotate(-44 476.8 531.9)" >ZL33</text>
<line x1="499.3" y1="521.5" x2="499.3" y2="524.8" stroke="#231f20" stroke-width="1"/>
<text x="501.6" y="531.9" font-size="8.3" text-anchor="end" fill="#231f20" stroke="#231f20" stroke-width="0.22" textLength="16.8" lengthAdjust="spacingAndGlyphs" transform="rotate(-44 501.6 531.9)" >ZL26</text>
<line x1="512.2" y1="521.5" x2="512.2" y2="524.8" stroke="#231f20" stroke-width="1"/>
<text x="514.5" y="531.9" font-size="8.3" text-anchor="end" fill="#231f20" stroke="#231f20" stroke-width="0.22" textLength="16.8" lengthAdjust="spacingAndGlyphs" transform="rotate(-44 514.5 531.9)" >ZH63</text>
<text x="487.2" y="424.06" font-size="9.6" text-anchor="middle" fill="#231f20" stroke="#231f20" stroke-width="0.12" textLength="41" lengthAdjust="spacingAndGlyphs" >Activated</text>
<text x="487.2" y="435.26" font-size="9.6" text-anchor="middle" fill="#231f20" stroke="#231f20" stroke-width="0.12" textLength="54" lengthAdjust="spacingAndGlyphs" >macrophage</text>
<text x="467.95" y="453.04" font-size="7.9" text-anchor="middle" fill="#231f20" stroke="#231f20" stroke-width="0.12" textLength="23.7" lengthAdjust="spacingAndGlyphs" >Control</text>
<text x="503.95" y="453.04" font-size="7.9" text-anchor="middle" fill="#231f20" stroke="#231f20" stroke-width="0.12" textLength="10.1" lengthAdjust="spacingAndGlyphs" >CH</text>
<text x="486.7" y="464.52" font-size="8.4" text-anchor="middle" fill="#231f20" stroke="#231f20" stroke-width="0.12" font-style="italic" textLength="32.8" lengthAdjust="spacingAndGlyphs" >p=0.0042</text>
<line x1="468.2" y1="468.5" x2="506.3" y2="468.5" stroke="#5a5a5a" stroke-width="1.4"/>
<text x="427.7" y="483" font-size="8.4" text-anchor="middle" fill="#231f20" stroke="#231f20" stroke-width="0.12" textLength="75.4" lengthAdjust="spacingAndGlyphs" transform="rotate(-90 427.7 483)" >Active caspase-1+ (%)</text>
<text x="153.25" y="570.6" font-size="8.6" text-anchor="middle" fill="#231f20" stroke="#231f20" stroke-width="0.12" textLength="29.25" lengthAdjust="spacingAndGlyphs" >Control</text>
<text x="260" y="570.6" font-size="8.6" text-anchor="middle" fill="#231f20" stroke="#231f20" stroke-width="0.12" textLength="12.5" lengthAdjust="spacingAndGlyphs" >CH</text>
<line x1="101" y1="573.8" x2="205.6" y2="573.8" stroke="#6c6c6c" stroke-width="1.25"/>
<line x1="208" y1="573.8" x2="313" y2="573.8" stroke="#6c6c6c" stroke-width="1.25"/>
<text x="127" y="583.3" font-size="7.8" text-anchor="middle" fill="#231f20" stroke="#231f20" stroke-width="0.15" textLength="18.2" lengthAdjust="spacingAndGlyphs" >ZL38</text>
<text x="180" y="583.3" font-size="7.8" text-anchor="middle" fill="#231f20" stroke="#231f20" stroke-width="0.15" textLength="18.2" lengthAdjust="spacingAndGlyphs" >ZL33</text>
<text x="233.4" y="583.3" font-size="7.8" text-anchor="middle" fill="#231f20" stroke="#231f20" stroke-width="0.15" textLength="18.2" lengthAdjust="spacingAndGlyphs" >ZL26</text>
<text x="286.6" y="583.3" font-size="7.8" text-anchor="middle" fill="#231f20" stroke="#231f20" stroke-width="0.15" textLength="18.2" lengthAdjust="spacingAndGlyphs" >ZH63</text>
<line x1="101" y1="640.3" x2="313" y2="640.3" stroke="#6c6c6c" stroke-width="1.25"/>
<text x="153.4" y="651.4" font-size="7.8" text-anchor="middle" fill="#231f20" stroke="#231f20" stroke-width="0.15" textLength="18.2" lengthAdjust="spacingAndGlyphs" >ZL26</text>
<text x="262.3" y="651.4" font-size="7.8" text-anchor="middle" fill="#231f20" stroke="#231f20" stroke-width="0.15" textLength="18.2" lengthAdjust="spacingAndGlyphs" >ZH63</text>
<line x1="101" y1="654.5" x2="205.6" y2="654.5" stroke="#6c6c6c" stroke-width="1.25"/>
<line x1="208" y1="654.5" x2="313" y2="654.5" stroke="#6c6c6c" stroke-width="1.25"/>
<clipPath id="mc1"><rect x="100.9" y="586.3" width="52.3" height="52"/></clipPath>
<rect x="100.9" y="586.3" width="52.3" height="52" fill="#06130a" />
<g clip-path="url(#mc1)"><g filter="url(#bl0_7)">
<circle cx="104.6" cy="589.26" r="1.75" fill="#283ed8" opacity="1"/>
<circle cx="104.6" cy="592.23" r="1.75" fill="#283ed8" opacity="1"/>
<circle cx="111.48" cy="592.44" r="1.75" fill="#283ed8" opacity="1"/>
<circle cx="109.37" cy="595.08" r="1.75" fill="#283ed8" opacity="1"/>
<circle cx="118.89" cy="596.46" r="1.75" fill="#283ed8" opacity="1"/>
<circle cx="138.47" cy="597.52" r="1.75" fill="#283ed8" opacity="1"/>
<circle cx="113.6" cy="602.49" r="1.75" fill="#283ed8" opacity="1"/>
<circle cx="110.95" cy="605.67" r="1.75" fill="#283ed8" opacity="1"/>
<circle cx="115.71" cy="606.19" r="1.75" fill="#283ed8" opacity="1"/>
<circle cx="122.59" cy="601.43" r="1.75" fill="#283ed8" opacity="1"/>
<circle cx="123.65" cy="605.14" r="1.75" fill="#283ed8" opacity="1"/>
<circle cx="132.65" cy="600.9" r="1.75" fill="#283ed8" opacity="1"/>
<circle cx="135.82" cy="605.67" r="1.75" fill="#283ed8" opacity="1"/>
<circle cx="138.47" cy="605.67" r="1.75" fill="#283ed8" opacity="1"/>
<circle cx="142.17" cy="605.14" r="1.75" fill="#283ed8" opacity="1"/>
<circle cx="139.52" cy="609.9" r="1.75" fill="#283ed8" opacity="1"/>
<circle cx="142.7" cy="612.01" r="1.75" fill="#283ed8" opacity="1"/>
<circle cx="145.34" cy="609.9" r="1.75" fill="#283ed8" opacity="1"/>
<circle cx="151.69" cy="608.84" r="1.75" fill="#283ed8" opacity="1"/>
<circle cx="105.66" cy="607.78" r="1.75" fill="#283ed8" opacity="1"/>
<circle cx="104.07" cy="614.66" r="1.75" fill="#283ed8" opacity="1"/>
<circle cx="114.66" cy="619.42" r="1.75" fill="#283ed8" opacity="1"/>
<circle cx="117.83" cy="617.31" r="1.75" fill="#283ed8" opacity="1"/>
<circle cx="126.83" cy="617.83" r="1.75" fill="#283ed8" opacity="1"/>
<circle cx="133.18" cy="618.36" r="1.75" fill="#283ed8" opacity="1"/>
<circle cx="136.35" cy="617.83" r="1.75" fill="#283ed8" opacity="1"/>
<circle cx="139.52" cy="617.31" r="1.75" fill="#283ed8" opacity="1"/>
<circle cx="128.41" cy="622.6" r="1.75" fill="#283ed8" opacity="1"/>
<circle cx="131.06" cy="621.54" r="1.75" fill="#283ed8" opacity="1"/>
<circle cx="131.59" cy="624.71" r="1.75" fill="#283ed8" opacity="1"/>
<circle cx="134.76" cy="622.07" r="1.75" fill="#283ed8" opacity="1"/>
<circle cx="105.13" cy="622.07" r="1.75" fill="#283ed8" opacity="1"/>
<circle cx="106.19" cy="625.24" r="1.75" fill="#283ed8" opacity="1"/>
<circle cx="103.02" cy="621.54" r="1.75" fill="#283ed8" opacity="1"/>
<circle cx="149.05" cy="591.91" r="1.7" fill="#263a9a" opacity="0.75"/>
<circle cx="112.54" cy="628.42" r="1.7" fill="#263a9a" opacity="0.75"/>
<circle cx="131.59" cy="633.71" r="1.7" fill="#263a9a" opacity="0.75"/>
<circle cx="115.71" cy="587.68" r="1.7" fill="#263a9a" opacity="0.75"/>
<circle cx="140.05" cy="635.82" r="1.7" fill="#263a9a" opacity="0.75"/>
</g></g>
<line x1="132.25" y1="609.31" x2="127.57" y2="613.6" stroke="#e8e2a8" stroke-width="0.6"/>
<path d="M127.57 613.6 L129.87 613.3 M127.57 613.6 L127.97 611.3" stroke="#e8e2a8" stroke-width="0.6" fill="none"/>
<text x="101.8" y="636.6" font-size="4.9" fill="#2f7a36" textLength="9.2" lengthAdjust="spacingAndGlyphs">ASC/</text>
<text x="111.1" y="636.6" font-size="4.9" fill="#2436a0" textLength="9.4" lengthAdjust="spacingAndGlyphs">DAPI</text>
<clipPath id="mc2"><rect x="154.6" y="586.3" width="51" height="52"/></clipPath>
<rect x="154.6" y="586.3" width="51" height="52" fill="#071c0b" />
<g clip-path="url(#mc2)"><g filter="url(#bl0_7)">
<circle cx="188.25" cy="593.5" r="1.75" fill="#2c5078" opacity="0.9"/>
<circle cx="163.38" cy="598.79" r="1.75" fill="#2c5078" opacity="0.9"/>
<circle cx="186.66" cy="598.79" r="1.75" fill="#2c5078" opacity="0.9"/>
<circle cx="199.89" cy="599.84" r="1.75" fill="#2c5078" opacity="0.9"/>
<circle cx="166.56" cy="604.08" r="1.75" fill="#2c5078" opacity="0.9"/>
<circle cx="185.08" cy="604.08" r="1.75" fill="#2c5078" opacity="0.9"/>
<circle cx="203.07" cy="606.19" r="1.75" fill="#2c5078" opacity="0.9"/>
<circle cx="163.91" cy="609.37" r="1.75" fill="#2c5078" opacity="0.9"/>
<circle cx="171.32" cy="609.9" r="1.75" fill="#2c5078" opacity="0.9"/>
<circle cx="184.55" cy="611.49" r="1.75" fill="#2c5078" opacity="0.9"/>
<circle cx="194.6" cy="617.31" r="1.75" fill="#2c5078" opacity="0.9"/>
<circle cx="197.25" cy="624.71" r="1.75" fill="#2c5078" opacity="0.9"/>
<circle cx="164.97" cy="626.3" r="1.75" fill="#2c5078" opacity="0.9"/>
<circle cx="179.26" cy="625.77" r="1.75" fill="#2c5078" opacity="0.9"/>
<circle cx="184.02" cy="625.24" r="1.75" fill="#2c5078" opacity="0.9"/>
<circle cx="162.85" cy="633.71" r="1.75" fill="#2c5078" opacity="0.9"/>
<circle cx="158.09" cy="621.01" r="1.7" fill="#2744b0" opacity="0.9"/>
<circle cx="162.32" cy="589.26" r="1.7" fill="#1f3f60" opacity="0.6"/>
<circle cx="172.91" cy="630" r="1.7" fill="#1f3f60" opacity="0.6"/>
<circle cx="171.85" cy="636.35" r="1.7" fill="#1f3f60" opacity="0.6"/>
</g></g>
<line x1="205.1" y1="609.84" x2="200.42" y2="614.13" stroke="#e8e2a8" stroke-width="0.6"/>
<path d="M200.42 614.13 L202.72 613.83 M200.42 614.13 L200.82 611.83" stroke="#e8e2a8" stroke-width="0.6" fill="none"/>
<clipPath id="mc3"><rect x="208" y="586.3" width="51.4" height="52"/></clipPath>
<rect x="208" y="586.3" width="51.4" height="52" fill="#03040c" />
<g clip-path="url(#mc3)"><g filter="url(#bl0_7)">
<circle cx="209.8" cy="594.55" r="1.7" fill="#1c1ed6" opacity="1"/>
<circle cx="220.38" cy="596.67" r="1.7" fill="#1c1ed6" opacity="1"/>
<circle cx="250.54" cy="600.9" r="1.7" fill="#1c1ed6" opacity="1"/>
<circle cx="245.78" cy="604.08" r="1.7" fill="#1c1ed6" opacity="1"/>
<circle cx="257.95" cy="606.19" r="1.7" fill="#1c1ed6" opacity="1"/>
<circle cx="255.3" cy="621.01" r="1.7" fill="#1c1ed6" opacity="1"/>
<circle cx="253.19" cy="623.13" r="1.7" fill="#1c1ed6" opacity="1"/>
<circle cx="256.89" cy="623.65" r="1.7" fill="#1c1ed6" opacity="1"/>
<circle cx="254.77" cy="619.42" r="1.7" fill="#1c1ed6" opacity="1"/>
<circle cx="225.67" cy="621.54" r="1.7" fill="#1c1ed6" opacity="1"/>
<circle cx="228.85" cy="626.83" r="1.7" fill="#1c1ed6" opacity="1"/>
<circle cx="221.97" cy="627.36" r="1.7" fill="#1c1ed6" opacity="1"/>
<circle cx="216.68" cy="628.42" r="1.7" fill="#1c1ed6" opacity="1"/>
<circle cx="214.56" cy="631.59" r="1.7" fill="#1c1ed6" opacity="1"/>
<circle cx="232.55" cy="632.12" r="1.7" fill="#1c1ed6" opacity="1"/>
<circle cx="234.67" cy="630.53" r="1.7" fill="#1c1ed6" opacity="1"/>
<circle cx="245.25" cy="634.77" r="1.7" fill="#1c1ed6" opacity="1"/>
<circle cx="217.74" cy="635.82" r="1.7" fill="#1c1ed6" opacity="1"/>
<circle cx="229.38" cy="588.2" r="1.7" fill="#14147a" opacity="0.7"/>
<circle cx="243.13" cy="592.97" r="1.7" fill="#14147a" opacity="0.7"/>
<circle cx="215.09" cy="604.61" r="1.7" fill="#14147a" opacity="0.7"/>
<circle cx="228.85" cy="601.43" r="1.7" fill="#14147a" opacity="0.7"/>
<circle cx="248.42" cy="589.79" r="1.7" fill="#14147a" opacity="0.7"/>
<circle cx="237.84" cy="615.72" r="1.7" fill="#14147a" opacity="0.7"/>
</g></g>
<line x1="219.24" y1="609.31" x2="214.56" y2="613.6" stroke="#ddd6b4" stroke-width="0.6"/>
<path d="M214.56 613.6 L216.86 613.3 M214.56 613.6 L214.96 611.3" stroke="#ddd6b4" stroke-width="0.6" fill="none"/>
<line x1="243.05" y1="609.31" x2="238.37" y2="613.6" stroke="#ddd6b4" stroke-width="0.6"/>
<path d="M238.37 613.6 L240.67 613.3 M238.37 613.6 L238.77 611.3" stroke="#ddd6b4" stroke-width="0.6" fill="none"/>
<line x1="254.16" y1="609.31" x2="249.48" y2="613.6" stroke="#ddd6b4" stroke-width="0.6"/>
<path d="M249.48 613.6 L251.78 613.3 M249.48 613.6 L249.88 611.3" stroke="#ddd6b4" stroke-width="0.6" fill="none"/>
<line x1="259.98" y1="612.49" x2="255.3" y2="616.78" stroke="#ddd6b4" stroke-width="0.6"/>
<path d="M255.3 616.78 L257.6 616.48 M255.3 616.78 L255.7 614.48" stroke="#ddd6b4" stroke-width="0.6" fill="none"/>
<line x1="240.4" y1="621.48" x2="235.72" y2="625.77" stroke="#ddd6b4" stroke-width="0.6"/>
<path d="M235.72 625.77 L238.02 625.47 M235.72 625.77 L236.12 623.47" stroke="#ddd6b4" stroke-width="0.6" fill="none"/>
<clipPath id="mc4"><rect x="261" y="586.3" width="52" height="52"/></clipPath>
<rect x="261" y="586.3" width="52" height="52" fill="#07170c" />
<g clip-path="url(#mc4)"><g filter="url(#bl0_7)">
<circle cx="273.17" cy="597.73" r="1.65" fill="#2a52dc" opacity="1"/>
<circle cx="275.29" cy="596.67" r="1.65" fill="#2a52dc" opacity="1"/>
<circle cx="282.16" cy="594.02" r="1.65" fill="#2a52dc" opacity="1"/>
<circle cx="278.99" cy="600.9" r="1.65" fill="#2a52dc" opacity="1"/>
<circle cx="283.22" cy="601.96" r="1.65" fill="#2a52dc" opacity="1"/>
<circle cx="278.46" cy="604.08" r="1.65" fill="#2a52dc" opacity="1"/>
<circle cx="283.22" cy="610.96" r="1.65" fill="#2a52dc" opacity="1"/>
<circle cx="283.75" cy="617.83" r="1.65" fill="#2a52dc" opacity="1"/>
<circle cx="281.63" cy="620.48" r="1.65" fill="#2a52dc" opacity="1"/>
<circle cx="283.22" cy="621.54" r="1.65" fill="#2a52dc" opacity="1"/>
<circle cx="295.92" cy="625.77" r="1.65" fill="#2a52dc" opacity="1"/>
<circle cx="292.75" cy="628.95" r="1.65" fill="#2a52dc" opacity="1"/>
<circle cx="296.98" cy="634.24" r="1.65" fill="#2a52dc" opacity="1"/>
<circle cx="268.94" cy="603.02" r="1.6" fill="#3a6a90" opacity="0.85"/>
<circle cx="293.8" cy="612.54" r="1.6" fill="#3a6a90" opacity="0.85"/>
<circle cx="291.69" cy="621.54" r="1.6" fill="#3a6a90" opacity="0.85"/>
<circle cx="276.34" cy="589.79" r="1.6" fill="#3a6a90" opacity="0.85"/>
<circle cx="277.93" cy="633.71" r="1.6" fill="#3a6a90" opacity="0.85"/>
<circle cx="302.27" cy="595.61" r="1.6" fill="#4a9aa0" opacity="0.9"/>
<circle cx="311.26" cy="610.43" r="1.6" fill="#4a9aa0" opacity="0.9"/>
<circle cx="310.21" cy="613.07" r="1.6" fill="#4a9aa0" opacity="0.9"/>
<circle cx="307.56" cy="617.31" r="1.6" fill="#4a9aa0" opacity="0.9"/>
</g></g>
<line x1="288.43" y1="612.49" x2="283.75" y2="616.78" stroke="#ddd6b4" stroke-width="0.6"/>
<path d="M283.75 616.78 L286.05 616.48 M283.75 616.78 L284.15 614.48" stroke="#ddd6b4" stroke-width="0.6" fill="none"/>
<line x1="300.07" y1="621.48" x2="295.39" y2="625.77" stroke="#ddd6b4" stroke-width="0.6"/>
<path d="M295.39 625.77 L297.69 625.47 M295.39 625.77 L295.79 623.47" stroke="#ddd6b4" stroke-width="0.6" fill="none"/>
<line x1="284.73" y1="626.77" x2="280.05" y2="631.06" stroke="#ddd6b4" stroke-width="0.6"/>
<path d="M280.05 631.06 L282.35 630.76 M280.05 631.06 L280.45 628.76" stroke="#ddd6b4" stroke-width="0.6" fill="none"/>
<clipPath id="mc5"><rect x="100.9" y="656.2" width="52.3" height="51.1"/></clipPath>
<rect x="100.9" y="656.2" width="52.3" height="51.1" fill="#050f10" />
<g clip-path="url(#mc5)"><g filter="url(#bl1_2)">
<circle cx="126.9" cy="690.2" r="11" fill="#0c1a70" opacity="0.35"/>
<circle cx="126.9" cy="691.5" r="6.4" fill="#1c28f4" opacity="1"/>
<circle cx="126.9" cy="695.2" r="6" fill="#1c28f4" opacity="1"/>
<circle cx="131" cy="677" r="3.9" fill="#1c28f4" opacity="1"/>
<circle cx="101.4" cy="666.2" r="3" fill="#1a2ab0" opacity="0.8"/>
<circle cx="147.9" cy="657.2" r="3.4" fill="#1a2ab0" opacity="0.7"/>
<circle cx="150.9" cy="699.2" r="3.2" fill="#1a2ab0" opacity="0.85"/>
<circle cx="110.9" cy="659.2" r="4" fill="#142070" opacity="0.5"/>
</g></g>
<line x1="132.93" y1="669.57" x2="128.25" y2="673.86" stroke="#f0f0e0" stroke-width="0.6"/>
<path d="M128.25 673.86 L130.55 673.56 M128.25 673.86 L128.65 671.56" stroke="#f0f0e0" stroke-width="0.6" fill="none"/>
<clipPath id="mc6"><rect x="154.6" y="656.2" width="51" height="51.1"/></clipPath>
<rect x="154.6" y="656.2" width="51" height="51.1" fill="#050a16" />
<g clip-path="url(#mc6)"><g filter="url(#bl0_5)">
<circle cx="171.47" cy="664.59" r="1.06" fill="#2030e0" opacity="0.58"/>
<circle cx="181.86" cy="675.12" r="0.73" fill="#2030e0" opacity="0.78"/>
<circle cx="157.44" cy="678.45" r="0.74" fill="#2030e0" opacity="0.59"/>
<circle cx="176.4" cy="697.72" r="0.77" fill="#2030e0" opacity="0.65"/>
<circle cx="186.34" cy="703.64" r="1.02" fill="#2030e0" opacity="0.73"/>
<circle cx="203.44" cy="659.48" r="1.17" fill="#2030e0" opacity="0.68"/>
<circle cx="162.67" cy="662.97" r="0.87" fill="#2030e0" opacity="0.92"/>
<circle cx="164.46" cy="685.7" r="1.05" fill="#2030e0" opacity="0.72"/>
<circle cx="182.44" cy="660.28" r="0.73" fill="#2030e0" opacity="0.64"/>
<circle cx="188.94" cy="678.15" r="0.87" fill="#2030e0" opacity="0.81"/>
<circle cx="177.81" cy="671.89" r="1.14" fill="#2030e0" opacity="0.86"/>
<circle cx="167.56" cy="685.35" r="0.99" fill="#2030e0" opacity="0.94"/>
<circle cx="191.34" cy="671.31" r="1.24" fill="#2030e0" opacity="0.6"/>
<circle cx="176.09" cy="694.3" r="0.78" fill="#2030e0" opacity="0.77"/>
<circle cx="157.52" cy="689.94" r="1.12" fill="#2030e0" opacity="0.81"/>
<circle cx="198.5" cy="672.57" r="1.08" fill="#2030e0" opacity="0.82"/>
<circle cx="184.01" cy="679.55" r="1.16" fill="#2030e0" opacity="0.98"/>
<circle cx="178.83" cy="689.74" r="0.73" fill="#2030e0" opacity="0.87"/>
<circle cx="187.31" cy="705.86" r="1.15" fill="#2030e0" opacity="0.68"/>
<circle cx="174.5" cy="689.96" r="0.71" fill="#2030e0" opacity="0.76"/>
<circle cx="163.83" cy="662.94" r="0.73" fill="#2030e0" opacity="0.9"/>
<circle cx="161.94" cy="669.33" r="0.92" fill="#2030e0" opacity="0.94"/>
<circle cx="159.55" cy="679.21" r="1" fill="#2030e0" opacity="0.95"/>
<circle cx="195.74" cy="699.54" r="0.85" fill="#2030e0" opacity="0.74"/>
<circle cx="173.18" cy="700.53" r="1.23" fill="#2030e0" opacity="0.62"/>
<circle cx="164.23" cy="668.57" r="0.83" fill="#2030e0" opacity="0.77"/>
<circle cx="184.47" cy="670.07" r="0.7" fill="#2030e0" opacity="0.74"/>
<circle cx="173.69" cy="684.95" r="1.22" fill="#2030e0" opacity="0.86"/>
<circle cx="180.86" cy="687.46" r="1.07" fill="#2030e0" opacity="0.57"/>
<circle cx="199.68" cy="695.42" r="1.18" fill="#2030e0" opacity="0.91"/>
<circle cx="174.83" cy="676.75" r="0.76" fill="#2030e0" opacity="0.84"/>
<circle cx="158.65" cy="660.5" r="0.81" fill="#2030e0" opacity="0.62"/>
<circle cx="172.26" cy="659.78" r="0.7" fill="#2030e0" opacity="0.62"/>
<circle cx="160.57" cy="675.02" r="0.71" fill="#2030e0" opacity="0.94"/>
<circle cx="185.69" cy="664.48" r="0.84" fill="#2030e0" opacity="0.71"/>
<circle cx="173.44" cy="663.22" r="1.17" fill="#2030e0" opacity="1"/>
<circle cx="178.43" cy="680.91" r="0.75" fill="#2030e0" opacity="0.6"/>
<circle cx="172.39" cy="670.17" r="1.16" fill="#2030e0" opacity="0.62"/>
<circle cx="156.73" cy="703.8" r="0.99" fill="#2030e0" opacity="0.62"/>
<circle cx="182.22" cy="658.53" r="0.99" fill="#2030e0" opacity="0.99"/>
<circle cx="197.9" cy="691.31" r="0.84" fill="#2030e0" opacity="0.72"/>
<circle cx="163.79" cy="695.02" r="0.99" fill="#2030e0" opacity="0.9"/>
<circle cx="171.75" cy="668.13" r="1.15" fill="#2030e0" opacity="0.99"/>
<circle cx="197.38" cy="696.7" r="1.15" fill="#2030e0" opacity="0.88"/>
<circle cx="166.71" cy="682.56" r="0.9" fill="#2030e0" opacity="0.56"/>
<circle cx="156.97" cy="670.89" r="0.84" fill="#2030e0" opacity="0.86"/>
<circle cx="202.47" cy="679.11" r="1.22" fill="#2030e0" opacity="0.99"/>
<circle cx="202.4" cy="675.07" r="0.82" fill="#2030e0" opacity="0.65"/>
<circle cx="165.24" cy="667.21" r="1.04" fill="#2030e0" opacity="0.96"/>
<circle cx="196.78" cy="680.69" r="1.06" fill="#2030e0" opacity="0.91"/>
<circle cx="159.75" cy="689.57" r="1.2" fill="#2030e0" opacity="0.9"/>
<circle cx="192.36" cy="680.62" r="0.8" fill="#2030e0" opacity="0.91"/>
<circle cx="171.89" cy="696.44" r="1.23" fill="#2030e0" opacity="0.73"/>
<circle cx="175.27" cy="703.59" r="1.1" fill="#2030e0" opacity="0.63"/>
<circle cx="161.82" cy="664.61" r="1.2" fill="#2030e0" opacity="0.91"/>
<circle cx="162.76" cy="697.7" r="1.24" fill="#2030e0" opacity="0.85"/>
<circle cx="172.77" cy="684.08" r="0.77" fill="#2030e0" opacity="0.56"/>
<circle cx="203.17" cy="689.03" r="0.99" fill="#2030e0" opacity="0.97"/>
<circle cx="176.86" cy="699.92" r="1.15" fill="#2030e0" opacity="0.64"/>
<circle cx="167.94" cy="671.56" r="0.83" fill="#2030e0" opacity="0.81"/>
<circle cx="168.31" cy="677.73" r="0.77" fill="#2030e0" opacity="0.96"/>
<circle cx="172.94" cy="679.65" r="1.02" fill="#2030e0" opacity="0.96"/>
<circle cx="176.21" cy="702.17" r="0.98" fill="#2030e0" opacity="0.79"/>
<circle cx="181.25" cy="658.12" r="0.94" fill="#2030e0" opacity="0.63"/>
<circle cx="155.79" cy="696.36" r="0.79" fill="#2030e0" opacity="0.76"/>
<circle cx="191.13" cy="684.47" r="0.88" fill="#2030e0" opacity="0.78"/>
<circle cx="182.82" cy="695.63" r="0.76" fill="#2030e0" opacity="0.8"/>
<circle cx="167.78" cy="670.77" r="1.12" fill="#2030e0" opacity="0.78"/>
<circle cx="183.12" cy="694.44" r="1.2" fill="#2030e0" opacity="0.75"/>
<circle cx="185.61" cy="681.97" r="0.98" fill="#2030e0" opacity="0.86"/>
<circle cx="177.76" cy="683.33" r="0.96" fill="#2030e0" opacity="0.97"/>
<circle cx="189.86" cy="700.15" r="1.22" fill="#2030e0" opacity="0.67"/>
<circle cx="183.02" cy="703.42" r="1.16" fill="#2030e0" opacity="0.61"/>
<circle cx="161.56" cy="678.86" r="0.74" fill="#2030e0" opacity="0.66"/>
<circle cx="159.18" cy="690" r="1.13" fill="#2030e0" opacity="0.95"/>
<circle cx="163.17" cy="692.29" r="1.06" fill="#2030e0" opacity="0.61"/>
<circle cx="198.86" cy="704.61" r="0.82" fill="#2030e0" opacity="0.98"/>
<circle cx="175.11" cy="681.08" r="1.24" fill="#2030e0" opacity="0.92"/>
<circle cx="163.51" cy="678.34" r="0.98" fill="#2030e0" opacity="0.7"/>
<circle cx="165.19" cy="672.81" r="1.1" fill="#2030e0" opacity="0.56"/>
<circle cx="182.75" cy="678.78" r="0.71" fill="#2030e0" opacity="0.7"/>
<circle cx="186.17" cy="682.3" r="0.74" fill="#2030e0" opacity="0.99"/>
<circle cx="194.23" cy="704.81" r="0.76" fill="#2030e0" opacity="0.67"/>
<circle cx="157.54" cy="695.37" r="0.85" fill="#2030e0" opacity="0.61"/>
<circle cx="176.29" cy="701.86" r="1.15" fill="#2030e0" opacity="0.67"/>
<circle cx="162.92" cy="702.24" r="1.01" fill="#2030e0" opacity="0.87"/>
<circle cx="159.98" cy="660.02" r="1.08" fill="#2030e0" opacity="0.74"/>
<circle cx="159.15" cy="703.18" r="1.05" fill="#2030e0" opacity="0.91"/>
<circle cx="159.7" cy="699.16" r="0.74" fill="#2030e0" opacity="0.94"/>
<circle cx="177.83" cy="673.82" r="1" fill="#2030e0" opacity="0.97"/>
<circle cx="168.73" cy="663.53" r="0.99" fill="#2030e0" opacity="0.66"/>
<circle cx="160.96" cy="665.11" r="0.73" fill="#2030e0" opacity="0.64"/>
<circle cx="170.89" cy="672.15" r="1.12" fill="#2030e0" opacity="0.68"/>
<circle cx="180.1" cy="665.92" r="0.89" fill="#2030e0" opacity="0.56"/>
<circle cx="167.87" cy="657.95" r="1.1" fill="#2030e0" opacity="0.8"/>
<circle cx="164.88" cy="680.46" r="1.21" fill="#2030e0" opacity="0.6"/>
<circle cx="195.73" cy="678.38" r="0.97" fill="#2030e0" opacity="0.93"/>
<circle cx="174.86" cy="682.03" r="1.08" fill="#2030e0" opacity="0.99"/>
<circle cx="172.39" cy="697.98" r="1.09" fill="#2030e0" opacity="0.84"/>
<circle cx="175.43" cy="674.23" r="0.73" fill="#2030e0" opacity="0.61"/>
<circle cx="159.07" cy="693.5" r="0.84" fill="#2030e0" opacity="0.62"/>
<circle cx="159.74" cy="698.42" r="1.18" fill="#2030e0" opacity="0.85"/>
<circle cx="169.41" cy="669.07" r="0.86" fill="#2030e0" opacity="0.76"/>
<circle cx="163.32" cy="679.05" r="0.84" fill="#2030e0" opacity="0.98"/>
<circle cx="203.26" cy="684.01" r="0.83" fill="#2030e0" opacity="0.98"/>
<circle cx="170.77" cy="674.67" r="0.7" fill="#2030e0" opacity="0.72"/>
<circle cx="178.86" cy="681.84" r="0.81" fill="#2030e0" opacity="0.78"/>
<circle cx="155.84" cy="670.14" r="0.75" fill="#2030e0" opacity="0.73"/>
<circle cx="157.64" cy="658.3" r="0.87" fill="#2030e0" opacity="0.65"/>
<circle cx="184.29" cy="683.13" r="1.11" fill="#2030e0" opacity="0.85"/>
<circle cx="190.68" cy="700.28" r="0.91" fill="#2030e0" opacity="0.7"/>
<circle cx="203.85" cy="664.52" r="1.1" fill="#2030e0" opacity="0.84"/>
<circle cx="157.75" cy="698.13" r="1.19" fill="#2030e0" opacity="0.83"/>
<circle cx="191.56" cy="697" r="0.78" fill="#2030e0" opacity="0.79"/>
<circle cx="180.31" cy="698.11" r="1.14" fill="#2030e0" opacity="0.92"/>
<circle cx="184.22" cy="700.95" r="1.08" fill="#2030e0" opacity="0.86"/>
<circle cx="166.87" cy="658.73" r="0.77" fill="#2030e0" opacity="0.71"/>
<circle cx="160.74" cy="698.16" r="1.01" fill="#2030e0" opacity="0.83"/>
<circle cx="186.29" cy="690.55" r="0.97" fill="#2030e0" opacity="0.55"/>
<circle cx="194.69" cy="693.87" r="0.98" fill="#2030e0" opacity="0.79"/>
</g></g>
<rect x="169.25" y="680.54" width="10.77" height="11.2" fill="none" stroke="#d8d8d8" stroke-width="0.6" />
<line x1="154.6" y1="656.2" x2="169.25" y2="680.54" stroke="#d8d8d8" stroke-width="0.6"/>
<line x1="154.6" y1="707.3" x2="169.25" y2="691.74" stroke="#d8d8d8" stroke-width="0.6"/>
<clipPath id="mc7"><rect x="208" y="656.2" width="51.4" height="51.1"/></clipPath>
<rect x="208" y="656.2" width="51.4" height="51.1" fill="#0a1f10" />
<g clip-path="url(#mc7)"><g filter="url(#bl1_6)">
<circle cx="215.97" cy="662.66" r="7.6" fill="#2032dc" opacity="1"/>
<circle cx="234.28" cy="679.89" r="7.8" fill="#2032dc" opacity="1"/>
<circle cx="231.05" cy="702.94" r="7.2" fill="#2032dc" opacity="1"/>
</g></g>
<circle cx="236" cy="691.74" r="0.7" fill="#c8e050"/>
<line x1="242.62" y1="686.59" x2="237.94" y2="690.88" stroke="#e8e0a0" stroke-width="0.6"/>
<path d="M237.94 690.88 L240.24 690.58 M237.94 690.88 L238.34 688.58" stroke="#e8e0a0" stroke-width="0.6" fill="none"/>
<clipPath id="mc8"><rect x="261" y="656.2" width="52" height="51.1"/></clipPath>
<rect x="261" y="656.2" width="52" height="51.1" fill="#05130a" />
<g clip-path="url(#mc8)"><g filter="url(#bl0_7)">
<circle cx="278.23" cy="661.15" r="1.4" fill="#245a9c" opacity="1"/>
<circle cx="283.61" cy="665.46" r="1.4" fill="#245a9c" opacity="1"/>
<circle cx="265.31" cy="673.43" r="1.4" fill="#245a9c" opacity="1"/>
<circle cx="293.31" cy="674.51" r="1.4" fill="#245a9c" opacity="1"/>
<circle cx="284.69" cy="680.97" r="1.4" fill="#245a9c" opacity="1"/>
<circle cx="280.38" cy="690.66" r="1.4" fill="#245a9c" opacity="1"/>
<circle cx="301.92" cy="692.81" r="1.4" fill="#245a9c" opacity="1"/>
<circle cx="295.46" cy="697.77" r="1.4" fill="#245a9c" opacity="1"/>
<circle cx="268.54" cy="702.51" r="1.4" fill="#245a9c" opacity="1"/>
<circle cx="307.31" cy="663.74" r="1.4" fill="#245a9c" opacity="1"/>
</g></g>
<rect x="280.38" y="676.23" width="10.77" height="10.12" fill="none" stroke="#d4ccb0" stroke-width="0.6" />
<line x1="261" y1="656.2" x2="280.38" y2="676.23" stroke="#d4ccb0" stroke-width="0.6"/>
<line x1="261" y1="707.3" x2="280.38" y2="686.35" stroke="#d4ccb0" stroke-width="0.6"/>
<rect x="356.25" y="640.5" width="10.75" height="45.75" fill="#c4122f" />
<rect x="368.75" y="648.75" width="10.75" height="37.5" fill="#c4122f" />
<rect x="391.75" y="613" width="10.75" height="73.25" fill="#1b4f8b" />
<rect x="404.25" y="604.5" width="10.75" height="81.75" fill="#1b4f8b" />
<line x1="385.5" y1="578.5" x2="385.5" y2="686.25" stroke="#333" stroke-width="0.8" stroke-dasharray="1.3 1.2"/>
<line x1="349.5" y1="578" x2="349.5" y2="686.85" stroke="#231f20" stroke-width="1.25"/>
<line x1="348.9" y1="686.25" x2="420" y2="686.25" stroke="#231f20" stroke-width="1.25"/>
<line x1="346.1" y1="580.75" x2="349.5" y2="580.75" stroke="#231f20" stroke-width="1"/>
<text x="343.3" y="583.7" font-size="8.3" text-anchor="end" fill="#231f20" stroke="#231f20" stroke-width="0.12" textLength="4.35" lengthAdjust="spacingAndGlyphs" >6</text>
<line x1="346.1" y1="615.9" x2="349.5" y2="615.9" stroke="#231f20" stroke-width="1"/>
<text x="343.3" y="618.85" font-size="8.3" text-anchor="end" fill="#231f20" stroke="#231f20" stroke-width="0.12" textLength="4.35" lengthAdjust="spacingAndGlyphs" >4</text>
<line x1="346.1" y1="651.1" x2="349.5" y2="651.1" stroke="#231f20" stroke-width="1"/>
<text x="343.3" y="654.05" font-size="8.3" text-anchor="end" fill="#231f20" stroke="#231f20" stroke-width="0.12" textLength="4.35" lengthAdjust="spacingAndGlyphs" >2</text>
<line x1="346.1" y1="686.25" x2="349.5" y2="686.25" stroke="#231f20" stroke-width="1"/>
<text x="343.3" y="689.2" font-size="8.3" text-anchor="end" fill="#231f20" stroke="#231f20" stroke-width="0.12" textLength="4.35" lengthAdjust="spacingAndGlyphs" >0</text>
<line x1="361.6" y1="686.25" x2="361.6" y2="689.55" stroke="#231f20" stroke-width="1"/>
<text x="363.9" y="696.65" font-size="8.3" text-anchor="end" fill="#231f20" stroke="#231f20" stroke-width="0.22" textLength="16.8" lengthAdjust="spacingAndGlyphs" transform="rotate(-44 363.9 696.65)" >ZL38</text>
<line x1="374.1" y1="686.25" x2="374.1" y2="689.55" stroke="#231f20" stroke-width="1"/>
<text x="376.4" y="696.65" font-size="8.3" text-anchor="end" fill="#231f20" stroke="#231f20" stroke-width="0.22" textLength="16.8" lengthAdjust="spacingAndGlyphs" transform="rotate(-44 376.4 696.65)" >ZL33</text>
<line x1="397.1" y1="686.25" x2="397.1" y2="689.55" stroke="#231f20" stroke-width="1"/>
<text x="399.4" y="696.65" font-size="8.3" text-anchor="end" fill="#231f20" stroke="#231f20" stroke-width="0.22" textLength="16.8" lengthAdjust="spacingAndGlyphs" transform="rotate(-44 399.4 696.65)" >ZL26</text>
<line x1="409.6" y1="686.25" x2="409.6" y2="689.55" stroke="#231f20" stroke-width="1"/>
<text x="411.9" y="696.65" font-size="8.3" text-anchor="end" fill="#231f20" stroke="#231f20" stroke-width="0.22" textLength="16.8" lengthAdjust="spacingAndGlyphs" transform="rotate(-44 411.9 696.65)" >ZH63</text>
<text x="367.5" y="584.84" font-size="7.9" text-anchor="middle" fill="#231f20" stroke="#231f20" stroke-width="0.12" textLength="25" lengthAdjust="spacingAndGlyphs" >Control</text>
<text x="401.62" y="584.84" font-size="7.9" text-anchor="middle" fill="#231f20" stroke="#231f20" stroke-width="0.12" textLength="10.75" lengthAdjust="spacingAndGlyphs" >CH</text>
<text x="332.2" y="632" font-size="8.4" text-anchor="middle" fill="#231f20" stroke="#231f20" stroke-width="0.12" textLength="80.8" lengthAdjust="spacingAndGlyphs" transform="rotate(-90 332.2 632)" >% Cells with ASC specks</text>
</g>
</svg>
</body></html>
